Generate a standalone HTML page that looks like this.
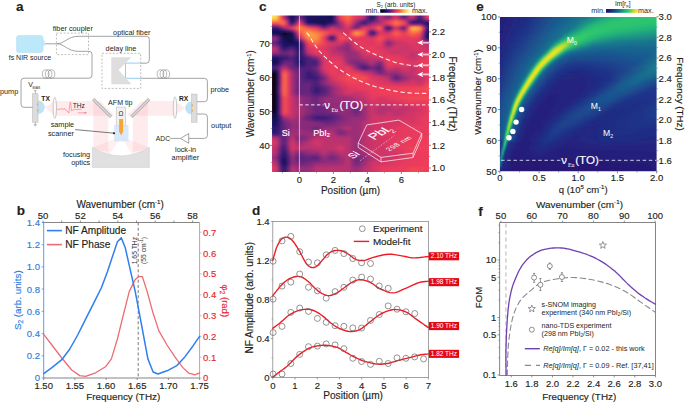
<!DOCTYPE html>
<html><head><meta charset="utf-8"><title>figure</title>
<style>html,body{margin:0;padding:0;background:#fff;overflow:hidden}svg{display:block}text{font-family:"Liberation Sans", sans-serif;stroke-width:0.15px}</style>
</head><body>
<svg width="685" height="403" viewBox="0 0 685 403">
<rect width="685" height="403" fill="#fff"/>
<text x="16.0" y="10.6" font-size="13.5" text-anchor="start" fill="#231f20" font-weight="bold" stroke="#231f20">a</text>
<g fill="rgba(246,118,132,0.15)">
<polygon points="44.7,107.3 54.7,100.9 54.7,115.7"/>
<polygon points="54.7,100.9 100.3,100.9 114.8,115.7 54.7,115.7"/>
<polygon points="93.4,100.9 108.3,115.7 108.3,152 93.4,149"/>
<polygon points="147.8,100.9 132.9,115.7 132.9,152 147.8,149"/>
<polygon points="141.5,100.9 174.6,100.9 174.6,115.7 126.5,115.7"/>
<polygon points="174.6,100.9 185.2,108 174.6,115.7"/>
</g>
<g fill="rgba(246,118,132,0.11)">
<polygon points="92.6,147.4 109.5,154.4 121,136.5"/>
<polygon points="149.1,147.4 132.1,154.4 121,136.5"/>
</g>
<path d="M92.4,147.2 Q120.8,164.6 149.3,147.2 L149.3,167.6 L92.4,167.6 Z" fill="#e0e0e0" stroke="#cfcfcf" stroke-width="0.6"/>
<line x1="93.2" y1="99.1" x2="111.0" y2="116.9" stroke="#a9a9a9" stroke-width="3.0" stroke-linecap="butt"/>
<line x1="93.2" y1="99.1" x2="111.0" y2="116.9" stroke="#d6d6d6" stroke-width="1.6" stroke-linecap="butt"/>
<line x1="149.2" y1="99.1" x2="131.4" y2="116.9" stroke="#a9a9a9" stroke-width="3.0" stroke-linecap="butt"/>
<line x1="149.2" y1="99.1" x2="131.4" y2="116.9" stroke="#d6d6d6" stroke-width="1.6" stroke-linecap="butt"/>
<rect x="116.2" y="107.1" width="9.3" height="19" fill="#f1f1f1" stroke="#bdbdbd" stroke-width="0.6"/>
<text x="120.9" y="115.9" font-size="6.6" text-anchor="middle" fill="#333">Ω</text>
<rect x="114.1" y="125.0" width="14.3" height="16.4" fill="rgba(200,224,250,0.72)"/>
<path d="M119.1,119 L123.1,119 L123.1,131.6 L121.1,135.6 L119.1,131.6 Z" fill="#f6a636"/>
<line x1="75.3" y1="129.6" x2="114.0" y2="133.2" stroke="#222" stroke-width="0.6"/>
<circle cx="114.0" cy="133.2" r="1.0" fill="#111"/>
<ellipse cx="54.8" cy="107.9" rx="1.7" ry="10.5" fill="rgba(255,255,255,0.6)" stroke="#a8a8a8" stroke-width="0.6"/>
<ellipse cx="175.0" cy="107.6" rx="1.7" ry="10.8" fill="rgba(255,255,255,0.6)" stroke="#a8a8a8" stroke-width="0.6"/>
<path d="M38,100.6 A6.7,6.7 0 0 1 38,114 Z" fill="#bfe2f6"/>
<rect x="32.5" y="93.8" width="5.5" height="28.4" fill="#dcdcdc" stroke="#b3b3b3" stroke-width="0.5"/>
<rect x="36.9" y="103.4" width="1.4" height="2.2" fill="#f0b050"/><rect x="36.9" y="109.2" width="1.4" height="2.2" fill="#f0b050"/>
<line x1="35.3" y1="90.6" x2="35.3" y2="93.8" stroke="#888" stroke-width="0.6"/>
<line x1="34.0" y1="90.6" x2="36.6" y2="90.6" stroke="#888" stroke-width="0.6"/>
<line x1="35.3" y1="122.2" x2="35.3" y2="124.8" stroke="#888" stroke-width="0.6"/>
<line x1="33.6" y1="124.8" x2="37.0" y2="124.8" stroke="#888" stroke-width="0.6"/>
<line x1="34.4" y1="125.9" x2="36.2" y2="125.9" stroke="#888" stroke-width="0.5"/>
<path d="M191.7,101.5 A6.5,6.5 0 0 0 191.7,114.5 Z" fill="#bfe2f6"/>
<rect x="191.7" y="94.1" width="5.3" height="28.1" fill="#dcdcdc" stroke="#b3b3b3" stroke-width="0.5"/>
<rect x="191.6" y="104.3" width="1.4" height="2.2" fill="#f0b050"/><rect x="191.6" y="109.6" width="1.4" height="2.2" fill="#f0b050"/>
<polyline points="57.1,109.3 61.0,109.1 62.3,108.4 63.2,109.7 64.5,108.2 65.8,110.4 67.1,110.8 68.9,113.0 70.0,102.6 70.6,102.4 71.5,110.8 72.4,110.2 74.1,109.5 81.2,109.3" fill="none" stroke="#f07080" stroke-width="0.6" stroke-linejoin="round" stroke-linecap="round"/>
<line x1="77.7" y1="112.8" x2="85.2" y2="112.8" stroke="#f07080" stroke-width="0.6"/>
<path d="M87,112.8 L84.6,111.7 L84.6,113.9 Z" fill="#f07080"/>
<path d="M44.5,43.8 L57,43.8 C64,43.8 68,36.3 78,36.3 L146.3,36.3 Q149.3,36.3 149.3,39.3 L149.3,60.2 Q149.3,63.2 146.3,63.2 L140.7,63.2" fill="none" stroke="#8c8c8c" stroke-width="0.8" stroke-linejoin="round"/>
<path d="M57,43.8 C64,43.8 68,51.3 78,51.3 L89.0,51.3 Q92.0,51.3 92.0,54.3 L92.0,75.2 Q92.0,78.2 89.0,78.2 L24.0,78.2 Q21.0,78.2 21.0,81.2 L21.0,104.3 Q21.0,107.3 24.0,107.3 L32.5,107.3" fill="none" stroke="#8c8c8c" stroke-width="0.8" stroke-linejoin="round"/>
<path d="M140.7,78.3 L204.4,78.3 Q207.4,78.3 207.4,81.3 L207.4,98.7 Q207.4,101.7 204.4,101.7 L197,101.7" fill="none" stroke="#8c8c8c" stroke-width="0.8" stroke-linejoin="round"/>
<path d="M197,114.0 L204.4,114.0 Q207.4,114.0 207.4,117.0 L207.4,135.4 Q207.4,138.4 204.4,138.4 L188.7,138.4" fill="none" stroke="#8c8c8c" stroke-width="0.8" stroke-linejoin="round"/>
<path d="M180.6,138.4 L188.7,133.6 L188.7,143.3 Z" fill="#fff" stroke="#8c8c8c" stroke-width="0.8" stroke-linejoin="miter"/>
<line x1="170.1" y1="138.4" x2="180.6" y2="138.4" stroke="#8c8c8c" stroke-width="0.8"/>
<path d="M140.7,63.1 L125.5,63.1 L125.5,78.3 L140.7,78.3" fill="none" stroke="#84c9ee" stroke-width="0.9"/>
<polygon points="111.3,57.2 131.4,57.2 118.5,70.1 131.4,84.3 111.3,84.3" fill="#dedede"/>
<rect x="56.4" y="33.1" width="32.1" height="21.5" fill="none" stroke="#a5a5a5" stroke-width="0.7" stroke-dasharray="2,1.6"/>
<rect x="102.0" y="53.3" width="38.7" height="35.1" fill="none" stroke="#a5a5a5" stroke-width="0.7" stroke-dasharray="2,1.6"/>
<ellipse cx="45.7" cy="74.0" rx="3.3" ry="4.2" fill="none" stroke="#8c8c8c" stroke-width="0.6"/>
<ellipse cx="48.6" cy="74.0" rx="3.3" ry="4.2" fill="none" stroke="#8c8c8c" stroke-width="0.6"/>
<ellipse cx="51.5" cy="74.0" rx="3.3" ry="4.2" fill="none" stroke="#8c8c8c" stroke-width="0.6"/>
<ellipse cx="160.5" cy="74.0" rx="3.3" ry="4.2" fill="none" stroke="#8c8c8c" stroke-width="0.6"/>
<ellipse cx="163.4" cy="74.0" rx="3.3" ry="4.2" fill="none" stroke="#8c8c8c" stroke-width="0.6"/>
<ellipse cx="166.3" cy="74.0" rx="3.3" ry="4.2" fill="none" stroke="#8c8c8c" stroke-width="0.6"/>
<rect x="16.6" y="35.4" width="26.4" height="17.1" rx="2.2" fill="#bde8fa" stroke="#a6dcf3" stroke-width="0.5"/>
<rect x="43.0" y="40.6" width="1.6" height="5.4" fill="#bde8fa"/>
<text x="52.7" y="30.8" font-size="7.3" text-anchor="start" fill="#231f20">fiber coupler</text>
<text x="113.1" y="34.9" font-size="7.3" text-anchor="start" fill="#231f20">optical fiber</text>
<text x="105.6" y="51.0" font-size="7.3" text-anchor="start" fill="#231f20">delay line</text>
<text x="8.7" y="59.6" font-size="7.0" text-anchor="start" fill="#231f20">fs NIR source</text>
<text x="0.0" y="94.0" font-size="7.3" text-anchor="start" fill="#231f20">pump</text>
<text x="28.3" y="87.0" font-size="7.0" text-anchor="start" fill="#231f20">V</text>
<text x="32.6" y="88.9" font-size="3.4" text-anchor="start" fill="#231f20">BIAS</text>
<text x="41.3" y="101.2" font-size="6.7" text-anchor="start" fill="#231f20" font-weight="bold">TX</text>
<text x="72.8" y="107.6" font-size="6.6" text-anchor="start" fill="#231f20">THz</text>
<text x="108.1" y="105.1" font-size="7.1" text-anchor="start" fill="#231f20">AFM tip</text>
<text x="74.2" y="127.4" font-size="7.3" text-anchor="end" fill="#231f20">sample</text>
<text x="73.9" y="135.5" font-size="7.3" text-anchor="end" fill="#231f20">scanner</text>
<text x="90.2" y="156.5" font-size="7.3" text-anchor="end" fill="#231f20">focusing</text>
<text x="90.2" y="164.6" font-size="7.3" text-anchor="end" fill="#231f20">optics</text>
<text x="179.0" y="100.9" font-size="6.7" text-anchor="start" fill="#231f20" font-weight="bold">RX</text>
<text x="210.4" y="92.0" font-size="7.3" text-anchor="start" fill="#231f20">probe</text>
<text x="211.1" y="127.6" font-size="7.3" text-anchor="start" fill="#231f20">output</text>
<text x="155.7" y="141.0" font-size="6.8" text-anchor="start" fill="#231f20">ADC</text>
<text x="185.6" y="151.6" font-size="7.3" text-anchor="middle" fill="#231f20">lock-in</text>
<text x="185.4" y="159.6" font-size="7.3" text-anchor="middle" fill="#231f20">amplifier</text>
<text x="16.8" y="214.6" font-size="13.5" text-anchor="start" fill="#231f20" font-weight="bold" stroke="#231f20">b</text>
<line x1="43.7" y1="222.5" x2="199.6" y2="222.5" stroke="#666" stroke-width="0.8"/>
<line x1="43.7" y1="378.0" x2="199.6" y2="378.0" stroke="#666" stroke-width="0.8"/>
<line x1="43.7" y1="222.5" x2="43.7" y2="378.0" stroke="#2f7ff0" stroke-width="0.8"/>
<line x1="199.6" y1="222.5" x2="199.6" y2="378.0" stroke="#f06a72" stroke-width="0.8"/>
<line x1="43.1" y1="222.5" x2="43.1" y2="220.5" stroke="#666" stroke-width="0.7"/>
<text x="43.1" y="219.2" font-size="9.5" text-anchor="middle" fill="#231f20" stroke="#231f20">50</text>
<line x1="61.7" y1="222.5" x2="61.7" y2="220.5" stroke="#666" stroke-width="0.7"/>
<line x1="80.4" y1="222.5" x2="80.4" y2="220.5" stroke="#666" stroke-width="0.7"/>
<text x="80.4" y="219.2" font-size="9.5" text-anchor="middle" fill="#231f20" stroke="#231f20">52</text>
<line x1="99.1" y1="222.5" x2="99.1" y2="220.5" stroke="#666" stroke-width="0.7"/>
<line x1="117.8" y1="222.5" x2="117.8" y2="220.5" stroke="#666" stroke-width="0.7"/>
<text x="117.8" y="219.2" font-size="9.5" text-anchor="middle" fill="#231f20" stroke="#231f20">54</text>
<line x1="136.5" y1="222.5" x2="136.5" y2="220.5" stroke="#666" stroke-width="0.7"/>
<line x1="155.2" y1="222.5" x2="155.2" y2="220.5" stroke="#666" stroke-width="0.7"/>
<text x="155.2" y="219.2" font-size="9.5" text-anchor="middle" fill="#231f20" stroke="#231f20">56</text>
<line x1="173.9" y1="222.5" x2="173.9" y2="220.5" stroke="#666" stroke-width="0.7"/>
<line x1="192.6" y1="222.5" x2="192.6" y2="220.5" stroke="#666" stroke-width="0.7"/>
<text x="192.6" y="219.2" font-size="9.5" text-anchor="middle" fill="#231f20" stroke="#231f20">58</text>
<text x="120.2" y="207.5" font-size="10.0" text-anchor="middle" fill="#231f20" stroke="#231f20">Wavenumber (cm<tspan font-size="6.2" dy="-3.6">-1</tspan><tspan dy="3.6">)</tspan></text>
<line x1="43.7" y1="378.0" x2="43.7" y2="380.0" stroke="#666" stroke-width="0.7"/>
<text x="43.7" y="389.4" font-size="9.5" text-anchor="middle" fill="#231f20" stroke="#231f20">1.50</text>
<line x1="74.9" y1="378.0" x2="74.9" y2="380.0" stroke="#666" stroke-width="0.7"/>
<text x="74.9" y="389.4" font-size="9.5" text-anchor="middle" fill="#231f20" stroke="#231f20">1.55</text>
<line x1="106.1" y1="378.0" x2="106.1" y2="380.0" stroke="#666" stroke-width="0.7"/>
<text x="106.1" y="389.4" font-size="9.5" text-anchor="middle" fill="#231f20" stroke="#231f20">1.60</text>
<line x1="137.2" y1="378.0" x2="137.2" y2="380.0" stroke="#666" stroke-width="0.7"/>
<text x="137.2" y="389.4" font-size="9.5" text-anchor="middle" fill="#231f20" stroke="#231f20">1.65</text>
<line x1="168.4" y1="378.0" x2="168.4" y2="380.0" stroke="#666" stroke-width="0.7"/>
<text x="168.4" y="389.4" font-size="9.5" text-anchor="middle" fill="#231f20" stroke="#231f20">1.70</text>
<line x1="199.6" y1="378.0" x2="199.6" y2="380.0" stroke="#666" stroke-width="0.7"/>
<text x="199.6" y="389.4" font-size="9.5" text-anchor="middle" fill="#231f20" stroke="#231f20">1.75</text>
<text x="123.2" y="399.8" font-size="9.9" text-anchor="middle" fill="#231f20" stroke="#231f20">Frequency (THz)</text>
<line x1="43.7" y1="378.0" x2="41.7" y2="378.0" stroke="#2f7ff0" stroke-width="0.7"/>
<text x="40.0" y="381.4" font-size="9.5" text-anchor="end" fill="#2b7de0" stroke="#2b7de0">0</text>
<line x1="43.7" y1="355.8" x2="41.7" y2="355.8" stroke="#2f7ff0" stroke-width="0.7"/>
<text x="40.0" y="359.2" font-size="9.5" text-anchor="end" fill="#2b7de0" stroke="#2b7de0">0.2</text>
<line x1="43.7" y1="333.6" x2="41.7" y2="333.6" stroke="#2f7ff0" stroke-width="0.7"/>
<text x="40.0" y="337.0" font-size="9.5" text-anchor="end" fill="#2b7de0" stroke="#2b7de0">0.4</text>
<line x1="43.7" y1="311.3" x2="41.7" y2="311.3" stroke="#2f7ff0" stroke-width="0.7"/>
<text x="40.0" y="314.7" font-size="9.5" text-anchor="end" fill="#2b7de0" stroke="#2b7de0">0.6</text>
<line x1="43.7" y1="289.1" x2="41.7" y2="289.1" stroke="#2f7ff0" stroke-width="0.7"/>
<text x="40.0" y="292.5" font-size="9.5" text-anchor="end" fill="#2b7de0" stroke="#2b7de0">0.8</text>
<line x1="43.7" y1="266.9" x2="41.7" y2="266.9" stroke="#2f7ff0" stroke-width="0.7"/>
<text x="40.0" y="270.3" font-size="9.5" text-anchor="end" fill="#2b7de0" stroke="#2b7de0">1.0</text>
<line x1="43.7" y1="244.7" x2="41.7" y2="244.7" stroke="#2f7ff0" stroke-width="0.7"/>
<text x="40.0" y="248.1" font-size="9.5" text-anchor="end" fill="#2b7de0" stroke="#2b7de0">1.2</text>
<line x1="43.7" y1="222.5" x2="41.7" y2="222.5" stroke="#2f7ff0" stroke-width="0.7"/>
<text x="40.0" y="225.9" font-size="9.5" text-anchor="end" fill="#2b7de0" stroke="#2b7de0">1.4</text>
<text transform="translate(21.3,300.2) rotate(-90)" font-size="9.8" text-anchor="middle" fill="#2b7de0" stroke="#2b7de0">S<tspan font-size="6.5" dy="2">2</tspan><tspan dy="-2"> (arb. units)</tspan></text>
<line x1="199.6" y1="378.0" x2="201.6" y2="378.0" stroke="#8fb5e8" stroke-width="0.7"/>
<text x="203.0" y="381.4" font-size="9.5" text-anchor="start" fill="#e8252d" stroke="#e8252d">0</text>
<line x1="199.6" y1="357.2" x2="201.6" y2="357.2" stroke="#8fb5e8" stroke-width="0.7"/>
<text x="203.0" y="360.6" font-size="9.5" text-anchor="start" fill="#e8252d" stroke="#e8252d">0.1</text>
<line x1="199.6" y1="336.4" x2="201.6" y2="336.4" stroke="#8fb5e8" stroke-width="0.7"/>
<text x="203.0" y="339.8" font-size="9.5" text-anchor="start" fill="#e8252d" stroke="#e8252d">0.2</text>
<line x1="199.6" y1="315.6" x2="201.6" y2="315.6" stroke="#8fb5e8" stroke-width="0.7"/>
<text x="203.0" y="319.0" font-size="9.5" text-anchor="start" fill="#e8252d" stroke="#e8252d">0.3</text>
<line x1="199.6" y1="294.8" x2="201.6" y2="294.8" stroke="#8fb5e8" stroke-width="0.7"/>
<text x="203.0" y="298.2" font-size="9.5" text-anchor="start" fill="#e8252d" stroke="#e8252d">0.4</text>
<line x1="199.6" y1="273.9" x2="201.6" y2="273.9" stroke="#8fb5e8" stroke-width="0.7"/>
<text x="203.0" y="277.3" font-size="9.5" text-anchor="start" fill="#e8252d" stroke="#e8252d">0.5</text>
<line x1="199.6" y1="253.1" x2="201.6" y2="253.1" stroke="#8fb5e8" stroke-width="0.7"/>
<text x="203.0" y="256.5" font-size="9.5" text-anchor="start" fill="#e8252d" stroke="#e8252d">0.6</text>
<line x1="199.6" y1="232.3" x2="201.6" y2="232.3" stroke="#8fb5e8" stroke-width="0.7"/>
<text x="203.0" y="235.7" font-size="9.5" text-anchor="start" fill="#e8252d" stroke="#e8252d">0.7</text>
<text transform="translate(221.5,300.8) rotate(90)" font-size="9.5" text-anchor="middle" fill="#e8252d" stroke="#e8252d">φ<tspan font-size="6.5" dy="2">2</tspan><tspan dy="-2"> (rad)</tspan></text>
<line x1="138.2" y1="222.5" x2="138.2" y2="378.0" stroke="#555" stroke-width="0.8" stroke-dasharray="3,2.2"/>
<text transform="translate(136.7,250.6) rotate(-90)" font-size="6.8" text-anchor="middle" fill="#333">1.65 THz</text>
<text transform="translate(145.6,250.5) rotate(-90)" font-size="6.8" text-anchor="middle" fill="#333">(55 cm<tspan font-size="4.5" dy="-2.5">-1</tspan><tspan dy="2.5">)</tspan></text>
<polyline points="43.7,334.3 51.9,345.0 61.8,358.0 71.7,370.0 79.7,375.6 85.6,376.3 95.6,372.8 105.5,366.8 111.4,358.9 117.4,339.0 123.3,315.2 129.3,291.4 135.2,279.5 138.4,276.7 142.4,276.7 147.1,291.4 153.1,313.3 159.0,331.1 167.0,345.0 174.9,356.9 182.9,367.6 188.8,373.2 194.8,374.8 199.6,372.8" fill="none" stroke="#f06a72" stroke-width="1.3" stroke-linejoin="round" stroke-linecap="round"/>
<polyline points="43.7,373.6 51.9,367.6 61.8,359.7 69.8,349.0 77.7,335.0 85.6,319.2 93.6,303.3 101.5,287.5 107.5,271.6 113.4,253.7 117.4,241.8 121.3,237.9 125.3,247.8 129.3,265.6 135.2,291.4 141.2,323.2 147.9,358.9 153.1,372.0 157.9,374.0 167.0,370.8 176.9,365.6 184.8,356.9 192.8,346.2 199.6,336.3" fill="none" stroke="#2f7ff0" stroke-width="1.5" stroke-linejoin="round" stroke-linecap="round"/>
<line x1="46.9" y1="230.6" x2="61.9" y2="230.6" stroke="#2f7ff0" stroke-width="1.6"/>
<line x1="46.9" y1="244.6" x2="61.9" y2="244.6" stroke="#f06a72" stroke-width="1.6"/>
<text x="65.3" y="234.2" font-size="10.15" text-anchor="start" fill="#231f20" stroke="#231f20">NF Amplitude</text>
<text x="65.3" y="248.2" font-size="10.15" text-anchor="start" fill="#231f20" stroke="#231f20">NF Phase</text>
<defs><clipPath id="clipC"><rect x="272" y="15.6" width="157" height="156.4"/></clipPath><filter id="blurC" x="-5%" y="-5%" width="110%" height="110%"><feGaussianBlur stdDeviation="1.4,1.0"/></filter></defs>
<defs><linearGradient id="gc0" gradientUnits="userSpaceOnUse" x1="272.0" x2="429.0" y1="0" y2="0"><stop offset="0.000" stop-color="#fedc57"/><stop offset="0.025" stop-color="#fedc57"/><stop offset="0.038" stop-color="#fcab3e"/><stop offset="0.057" stop-color="#f55148"/><stop offset="0.064" stop-color="#ee3a58"/><stop offset="0.070" stop-color="#dc3461"/><stop offset="0.089" stop-color="#77257b"/><stop offset="0.108" stop-color="#301672"/><stop offset="0.121" stop-color="#170f61"/><stop offset="0.127" stop-color="#100b48"/><stop offset="0.134" stop-color="#140e5e"/><stop offset="0.166" stop-color="#491c77"/><stop offset="0.178" stop-color="#69237d"/><stop offset="0.210" stop-color="#2a146e"/><stop offset="0.236" stop-color="#140e5f"/><stop offset="0.344" stop-color="#130d59"/><stop offset="0.382" stop-color="#100b48"/><stop offset="0.389" stop-color="#1b1064"/><stop offset="0.401" stop-color="#431a76"/><stop offset="0.414" stop-color="#892779"/><stop offset="0.427" stop-color="#da3462"/><stop offset="0.433" stop-color="#ee3a58"/><stop offset="0.484" stop-color="#f96d40"/><stop offset="0.522" stop-color="#e9385a"/><stop offset="0.586" stop-color="#bc2f6c"/><stop offset="0.605" stop-color="#62217c"/><stop offset="0.624" stop-color="#2a146e"/><stop offset="0.637" stop-color="#140e5f"/><stop offset="0.656" stop-color="#391874"/><stop offset="0.675" stop-color="#7d267a"/><stop offset="0.688" stop-color="#bc2f6c"/><stop offset="0.739" stop-color="#69237d"/><stop offset="0.790" stop-color="#dc3461"/><stop offset="0.828" stop-color="#69237d"/><stop offset="0.841" stop-color="#4e1c78"/><stop offset="0.860" stop-color="#7d267a"/><stop offset="0.892" stop-color="#dc3461"/><stop offset="0.924" stop-color="#66227c"/><stop offset="0.943" stop-color="#321673"/><stop offset="0.962" stop-color="#73247c"/><stop offset="0.981" stop-color="#cc3266"/><stop offset="0.994" stop-color="#ee3a58"/><stop offset="1.000" stop-color="#ee3a58"/></linearGradient><linearGradient id="gc1" gradientUnits="userSpaceOnUse" x1="272.0" x2="429.0" y1="0" y2="0"><stop offset="0.000" stop-color="#fedc57"/><stop offset="0.025" stop-color="#fedc57"/><stop offset="0.038" stop-color="#fcab3e"/><stop offset="0.057" stop-color="#f55148"/><stop offset="0.064" stop-color="#ee3a58"/><stop offset="0.070" stop-color="#dc3461"/><stop offset="0.089" stop-color="#77257b"/><stop offset="0.108" stop-color="#301672"/><stop offset="0.121" stop-color="#170f61"/><stop offset="0.127" stop-color="#100b48"/><stop offset="0.134" stop-color="#140e5e"/><stop offset="0.166" stop-color="#491c77"/><stop offset="0.178" stop-color="#69237d"/><stop offset="0.210" stop-color="#2a146e"/><stop offset="0.236" stop-color="#140e5f"/><stop offset="0.344" stop-color="#130d59"/><stop offset="0.382" stop-color="#100b48"/><stop offset="0.389" stop-color="#1b1064"/><stop offset="0.401" stop-color="#431a76"/><stop offset="0.414" stop-color="#892779"/><stop offset="0.427" stop-color="#da3462"/><stop offset="0.433" stop-color="#ee3a58"/><stop offset="0.484" stop-color="#f96d40"/><stop offset="0.522" stop-color="#e9385a"/><stop offset="0.586" stop-color="#bc2f6c"/><stop offset="0.605" stop-color="#62217c"/><stop offset="0.624" stop-color="#2a146e"/><stop offset="0.637" stop-color="#140e5f"/><stop offset="0.656" stop-color="#391874"/><stop offset="0.675" stop-color="#7d267a"/><stop offset="0.688" stop-color="#bc2f6c"/><stop offset="0.739" stop-color="#69237d"/><stop offset="0.790" stop-color="#dc3461"/><stop offset="0.828" stop-color="#69237d"/><stop offset="0.841" stop-color="#4e1c78"/><stop offset="0.860" stop-color="#7d267a"/><stop offset="0.892" stop-color="#dc3461"/><stop offset="0.924" stop-color="#66227c"/><stop offset="0.943" stop-color="#321673"/><stop offset="0.962" stop-color="#73247c"/><stop offset="0.981" stop-color="#cc3266"/><stop offset="0.994" stop-color="#ee3a58"/><stop offset="1.000" stop-color="#ee3a58"/></linearGradient><linearGradient id="gc2" gradientUnits="userSpaceOnUse" x1="272.0" x2="429.0" y1="0" y2="0"><stop offset="0.000" stop-color="#fedc57"/><stop offset="0.025" stop-color="#fedc57"/><stop offset="0.038" stop-color="#fcab3e"/><stop offset="0.057" stop-color="#f55148"/><stop offset="0.064" stop-color="#ee3a58"/><stop offset="0.070" stop-color="#dc3461"/><stop offset="0.089" stop-color="#77257b"/><stop offset="0.108" stop-color="#301672"/><stop offset="0.121" stop-color="#170f61"/><stop offset="0.127" stop-color="#100b48"/><stop offset="0.134" stop-color="#140e5e"/><stop offset="0.166" stop-color="#491c77"/><stop offset="0.178" stop-color="#69237d"/><stop offset="0.210" stop-color="#2a146e"/><stop offset="0.236" stop-color="#140e5f"/><stop offset="0.344" stop-color="#130d59"/><stop offset="0.382" stop-color="#100b48"/><stop offset="0.389" stop-color="#1b1064"/><stop offset="0.401" stop-color="#431a76"/><stop offset="0.414" stop-color="#892779"/><stop offset="0.427" stop-color="#da3462"/><stop offset="0.433" stop-color="#ee3a58"/><stop offset="0.484" stop-color="#f96d40"/><stop offset="0.522" stop-color="#e9385a"/><stop offset="0.586" stop-color="#bc2f6c"/><stop offset="0.605" stop-color="#62217c"/><stop offset="0.624" stop-color="#2b146e"/><stop offset="0.637" stop-color="#140e5f"/><stop offset="0.662" stop-color="#4e1c78"/><stop offset="0.682" stop-color="#9c2a76"/><stop offset="0.688" stop-color="#bc2f6c"/><stop offset="0.739" stop-color="#69237d"/><stop offset="0.790" stop-color="#dc3461"/><stop offset="0.828" stop-color="#69237d"/><stop offset="0.841" stop-color="#4e1d78"/><stop offset="0.860" stop-color="#7d267a"/><stop offset="0.892" stop-color="#dc3461"/><stop offset="0.924" stop-color="#66227c"/><stop offset="0.943" stop-color="#321673"/><stop offset="0.962" stop-color="#73247c"/><stop offset="0.981" stop-color="#cc3167"/><stop offset="0.994" stop-color="#ee3a58"/><stop offset="1.000" stop-color="#ee3a58"/></linearGradient><linearGradient id="gc3" gradientUnits="userSpaceOnUse" x1="272.0" x2="429.0" y1="0" y2="0"><stop offset="0.000" stop-color="#fcab3e"/><stop offset="0.025" stop-color="#fcab3e"/><stop offset="0.064" stop-color="#f55148"/><stop offset="0.076" stop-color="#ee3a58"/><stop offset="0.083" stop-color="#db3461"/><stop offset="0.102" stop-color="#64227c"/><stop offset="0.115" stop-color="#2e1570"/><stop offset="0.127" stop-color="#120c51"/><stop offset="0.140" stop-color="#25136a"/><stop offset="0.159" stop-color="#581f7a"/><stop offset="0.172" stop-color="#8c2878"/><stop offset="0.178" stop-color="#ab2c72"/><stop offset="0.197" stop-color="#5b207b"/><stop offset="0.217" stop-color="#29146d"/><stop offset="0.229" stop-color="#140e5f"/><stop offset="0.344" stop-color="#120d54"/><stop offset="0.382" stop-color="#150e5f"/><stop offset="0.401" stop-color="#421a76"/><stop offset="0.420" stop-color="#962977"/><stop offset="0.433" stop-color="#d63363"/><stop offset="0.465" stop-color="#f2474f"/><stop offset="0.484" stop-color="#f86041"/><stop offset="0.516" stop-color="#e5375d"/><stop offset="0.580" stop-color="#74257b"/><stop offset="0.637" stop-color="#321673"/><stop offset="0.675" stop-color="#862779"/><stop offset="0.688" stop-color="#ab2c72"/><stop offset="0.739" stop-color="#bc2f6c"/><stop offset="0.777" stop-color="#ed3a58"/><stop offset="0.790" stop-color="#f2484f"/><stop offset="0.815" stop-color="#e0355f"/><stop offset="0.866" stop-color="#922977"/><stop offset="0.930" stop-color="#391874"/><stop offset="0.943" stop-color="#2c146f"/><stop offset="0.987" stop-color="#79257b"/><stop offset="0.994" stop-color="#8a2878"/><stop offset="1.000" stop-color="#8a2878"/></linearGradient><linearGradient id="gc4" gradientUnits="userSpaceOnUse" x1="272.0" x2="429.0" y1="0" y2="0"><stop offset="0.000" stop-color="#f96d40"/><stop offset="0.076" stop-color="#f96d40"/><stop offset="0.083" stop-color="#f34b4c"/><stop offset="0.089" stop-color="#e4375d"/><stop offset="0.096" stop-color="#c3306a"/><stop offset="0.108" stop-color="#60217b"/><stop offset="0.121" stop-color="#25136a"/><stop offset="0.127" stop-color="#130d5a"/><stop offset="0.146" stop-color="#431a76"/><stop offset="0.166" stop-color="#a12b75"/><stop offset="0.178" stop-color="#e0355f"/><stop offset="0.191" stop-color="#a22b75"/><stop offset="0.210" stop-color="#451b76"/><stop offset="0.229" stop-color="#140e5f"/><stop offset="0.331" stop-color="#0f0a40"/><stop offset="0.369" stop-color="#190f62"/><stop offset="0.389" stop-color="#27136c"/><stop offset="0.414" stop-color="#62217c"/><stop offset="0.439" stop-color="#be2f6b"/><stop offset="0.465" stop-color="#eb3959"/><stop offset="0.484" stop-color="#f75545"/><stop offset="0.510" stop-color="#e1365e"/><stop offset="0.541" stop-color="#912977"/><stop offset="0.573" stop-color="#491c77"/><stop offset="0.586" stop-color="#321673"/><stop offset="0.669" stop-color="#882779"/><stop offset="0.694" stop-color="#a82c73"/><stop offset="0.726" stop-color="#e1365e"/><stop offset="0.771" stop-color="#f85942"/><stop offset="0.790" stop-color="#fa733f"/><stop offset="0.841" stop-color="#f2484f"/><stop offset="0.854" stop-color="#d63363"/><stop offset="0.873" stop-color="#6d247c"/><stop offset="0.892" stop-color="#29146d"/><stop offset="1.000" stop-color="#2c146f"/></linearGradient><linearGradient id="gc5" gradientUnits="userSpaceOnUse" x1="272.0" x2="429.0" y1="0" y2="0"><stop offset="0.000" stop-color="#e3365d"/><stop offset="0.032" stop-color="#e9385b"/><stop offset="0.076" stop-color="#f96640"/><stop offset="0.089" stop-color="#e9385a"/><stop offset="0.096" stop-color="#d33364"/><stop offset="0.115" stop-color="#5f217b"/><stop offset="0.127" stop-color="#2c146f"/><stop offset="0.146" stop-color="#72247c"/><stop offset="0.166" stop-color="#d73363"/><stop offset="0.178" stop-color="#f2484f"/><stop offset="0.191" stop-color="#d93462"/><stop offset="0.210" stop-color="#77257b"/><stop offset="0.229" stop-color="#2f1571"/><stop offset="0.338" stop-color="#180f62"/><stop offset="0.389" stop-color="#411a76"/><stop offset="0.427" stop-color="#832779"/><stop offset="0.465" stop-color="#e0355f"/><stop offset="0.484" stop-color="#f2484f"/><stop offset="0.510" stop-color="#cf3265"/><stop offset="0.535" stop-color="#81267a"/><stop offset="0.586" stop-color="#3d1975"/><stop offset="0.624" stop-color="#832779"/><stop offset="0.637" stop-color="#a22b75"/><stop offset="0.745" stop-color="#e6375c"/><stop offset="0.783" stop-color="#f96740"/><stop offset="0.790" stop-color="#fa733f"/><stop offset="0.841" stop-color="#f14352"/><stop offset="0.854" stop-color="#da3462"/><stop offset="0.879" stop-color="#6b237d"/><stop offset="0.892" stop-color="#431a76"/><stop offset="0.943" stop-color="#531e79"/><stop offset="0.981" stop-color="#221269"/><stop offset="1.000" stop-color="#170f61"/></linearGradient><linearGradient id="gc6" gradientUnits="userSpaceOnUse" x1="272.0" x2="429.0" y1="0" y2="0"><stop offset="0.000" stop-color="#71247c"/><stop offset="0.025" stop-color="#71247c"/><stop offset="0.070" stop-color="#dc3461"/><stop offset="0.083" stop-color="#dd3460"/><stop offset="0.127" stop-color="#8a2878"/><stop offset="0.146" stop-color="#d23265"/><stop offset="0.166" stop-color="#f2474f"/><stop offset="0.178" stop-color="#f96740"/><stop offset="0.197" stop-color="#ef3d56"/><stop offset="0.217" stop-color="#cc3266"/><stop offset="0.229" stop-color="#a22b75"/><stop offset="0.280" stop-color="#80267a"/><stop offset="0.331" stop-color="#321673"/><stop offset="0.382" stop-color="#81267a"/><stop offset="0.433" stop-color="#922977"/><stop offset="0.471" stop-color="#de3560"/><stop offset="0.484" stop-color="#ea395a"/><stop offset="0.503" stop-color="#c63069"/><stop offset="0.535" stop-color="#64227c"/><stop offset="0.631" stop-color="#be2f6b"/><stop offset="0.688" stop-color="#ee3a58"/><stop offset="0.707" stop-color="#c73168"/><stop offset="0.739" stop-color="#5e207b"/><stop offset="0.764" stop-color="#bf2f6b"/><stop offset="0.783" stop-color="#ee3a58"/><stop offset="0.790" stop-color="#f2484f"/><stop offset="0.815" stop-color="#d93362"/><stop offset="0.841" stop-color="#9a2a76"/><stop offset="0.879" stop-color="#df3560"/><stop offset="0.904" stop-color="#ea395a"/><stop offset="0.943" stop-color="#e7385c"/><stop offset="0.955" stop-color="#b62e6e"/><stop offset="0.968" stop-color="#6d247c"/><stop offset="0.987" stop-color="#2a146e"/><stop offset="1.000" stop-color="#1d1065"/></linearGradient><linearGradient id="gc7" gradientUnits="userSpaceOnUse" x1="272.0" x2="429.0" y1="0" y2="0"><stop offset="0.000" stop-color="#231269"/><stop offset="0.032" stop-color="#2a146e"/><stop offset="0.070" stop-color="#7d267a"/><stop offset="0.108" stop-color="#d83362"/><stop offset="0.134" stop-color="#f14352"/><stop offset="0.172" stop-color="#fa803d"/><stop offset="0.178" stop-color="#fb8c3c"/><stop offset="0.236" stop-color="#f44e4a"/><stop offset="0.280" stop-color="#ee3a58"/><stop offset="0.299" stop-color="#cc3266"/><stop offset="0.331" stop-color="#69237d"/><stop offset="0.382" stop-color="#dc3461"/><stop offset="0.433" stop-color="#922977"/><stop offset="0.484" stop-color="#dc3461"/><stop offset="0.522" stop-color="#69237d"/><stop offset="0.535" stop-color="#4e1d78"/><stop offset="0.554" stop-color="#8d2878"/><stop offset="0.573" stop-color="#d43364"/><stop offset="0.586" stop-color="#ee3a58"/><stop offset="0.637" stop-color="#dc3461"/><stop offset="0.662" stop-color="#f24550"/><stop offset="0.688" stop-color="#f96d40"/><stop offset="0.694" stop-color="#f34b4c"/><stop offset="0.701" stop-color="#e5375d"/><stop offset="0.707" stop-color="#c43069"/><stop offset="0.720" stop-color="#62217c"/><stop offset="0.732" stop-color="#27136c"/><stop offset="0.739" stop-color="#140e5f"/><stop offset="0.758" stop-color="#431a76"/><stop offset="0.777" stop-color="#9c2a76"/><stop offset="0.790" stop-color="#dc3461"/><stop offset="0.822" stop-color="#66227c"/><stop offset="0.841" stop-color="#321673"/><stop offset="0.854" stop-color="#882779"/><stop offset="0.860" stop-color="#c0306b"/><stop offset="0.866" stop-color="#e5375c"/><stop offset="0.873" stop-color="#f44e4a"/><stop offset="0.885" stop-color="#fca03e"/><stop offset="0.892" stop-color="#fdc647"/><stop offset="0.943" stop-color="#fcab3e"/><stop offset="0.955" stop-color="#f75744"/><stop offset="0.962" stop-color="#ec3959"/><stop offset="0.968" stop-color="#cc3167"/><stop offset="0.981" stop-color="#62217c"/><stop offset="0.994" stop-color="#231269"/><stop offset="1.000" stop-color="#231269"/></linearGradient><linearGradient id="gc8" gradientUnits="userSpaceOnUse" x1="272.0" x2="429.0" y1="0" y2="0"><stop offset="0.000" stop-color="#170f61"/><stop offset="0.045" stop-color="#221268"/><stop offset="0.089" stop-color="#471b77"/><stop offset="0.127" stop-color="#79257b"/><stop offset="0.146" stop-color="#ce3266"/><stop offset="0.159" stop-color="#ee3b58"/><stop offset="0.178" stop-color="#fa733f"/><stop offset="0.242" stop-color="#f96b40"/><stop offset="0.287" stop-color="#f44d4b"/><stop offset="0.318" stop-color="#de3560"/><stop offset="0.331" stop-color="#c93168"/><stop offset="0.389" stop-color="#e1365f"/><stop offset="0.439" stop-color="#c43069"/><stop offset="0.554" stop-color="#e8385b"/><stop offset="0.586" stop-color="#f44c4b"/><stop offset="0.605" stop-color="#dd3460"/><stop offset="0.631" stop-color="#892779"/><stop offset="0.637" stop-color="#71247c"/><stop offset="0.662" stop-color="#cc3167"/><stop offset="0.682" stop-color="#f03f54"/><stop offset="0.688" stop-color="#f44c4b"/><stop offset="0.701" stop-color="#e1365e"/><stop offset="0.713" stop-color="#b32e6f"/><stop offset="0.732" stop-color="#5d207b"/><stop offset="0.739" stop-color="#481b77"/><stop offset="0.758" stop-color="#8b2878"/><stop offset="0.777" stop-color="#d73363"/><stop offset="0.790" stop-color="#ef3f55"/><stop offset="0.815" stop-color="#c63169"/><stop offset="0.841" stop-color="#79257b"/><stop offset="0.854" stop-color="#c43069"/><stop offset="0.866" stop-color="#ef3c56"/><stop offset="0.885" stop-color="#fb883c"/><stop offset="0.892" stop-color="#fca53e"/><stop offset="0.943" stop-color="#fb863d"/><stop offset="0.949" stop-color="#f85c42"/><stop offset="0.955" stop-color="#ef3d56"/><stop offset="0.962" stop-color="#d63363"/><stop offset="0.975" stop-color="#70247c"/><stop offset="0.987" stop-color="#2b146e"/><stop offset="0.994" stop-color="#170f61"/><stop offset="1.000" stop-color="#170f61"/></linearGradient><linearGradient id="gc9" gradientUnits="userSpaceOnUse" x1="272.0" x2="429.0" y1="0" y2="0"><stop offset="0.000" stop-color="#100b48"/><stop offset="0.083" stop-color="#110c4f"/><stop offset="0.121" stop-color="#1d1165"/><stop offset="0.134" stop-color="#301672"/><stop offset="0.146" stop-color="#6a237d"/><stop offset="0.159" stop-color="#c2306a"/><stop offset="0.166" stop-color="#e0355f"/><stop offset="0.178" stop-color="#f85a42"/><stop offset="0.229" stop-color="#fc983d"/><stop offset="0.306" stop-color="#f86041"/><stop offset="0.376" stop-color="#ed3a59"/><stop offset="0.459" stop-color="#d63363"/><stop offset="0.484" stop-color="#c2306a"/><stop offset="0.503" stop-color="#ee3a58"/><stop offset="0.529" stop-color="#fa793e"/><stop offset="0.535" stop-color="#fb8c3c"/><stop offset="0.586" stop-color="#f86041"/><stop offset="0.599" stop-color="#e6375c"/><stop offset="0.605" stop-color="#cd3266"/><stop offset="0.618" stop-color="#7c267a"/><stop offset="0.631" stop-color="#3e1975"/><stop offset="0.637" stop-color="#29146d"/><stop offset="0.656" stop-color="#61217c"/><stop offset="0.682" stop-color="#d63363"/><stop offset="0.688" stop-color="#e7385c"/><stop offset="0.739" stop-color="#ab2c72"/><stop offset="0.764" stop-color="#e5375d"/><stop offset="0.790" stop-color="#f85a42"/><stop offset="0.822" stop-color="#ea395a"/><stop offset="0.841" stop-color="#d63363"/><stop offset="0.866" stop-color="#f34a4d"/><stop offset="0.892" stop-color="#fa803d"/><stop offset="0.943" stop-color="#f86041"/><stop offset="0.949" stop-color="#f04153"/><stop offset="0.955" stop-color="#dd3461"/><stop offset="0.968" stop-color="#7d267a"/><stop offset="0.981" stop-color="#311672"/><stop offset="0.987" stop-color="#1e1166"/><stop offset="0.994" stop-color="#100b48"/><stop offset="1.000" stop-color="#100b48"/></linearGradient><linearGradient id="gc10" gradientUnits="userSpaceOnUse" x1="272.0" x2="429.0" y1="0" y2="0"><stop offset="0.000" stop-color="#180f62"/><stop offset="0.032" stop-color="#140e5f"/><stop offset="0.076" stop-color="#0a051d"/><stop offset="0.127" stop-color="#0e0939"/><stop offset="0.134" stop-color="#170f61"/><stop offset="0.146" stop-color="#401976"/><stop offset="0.159" stop-color="#8d2878"/><stop offset="0.166" stop-color="#be2f6b"/><stop offset="0.172" stop-color="#e0355f"/><stop offset="0.178" stop-color="#f14352"/><stop offset="0.210" stop-color="#fa7d3e"/><stop offset="0.229" stop-color="#fca53e"/><stop offset="0.299" stop-color="#fa7d3e"/><stop offset="0.344" stop-color="#f44c4b"/><stop offset="0.369" stop-color="#e0355f"/><stop offset="0.382" stop-color="#c93168"/><stop offset="0.433" stop-color="#ef3f55"/><stop offset="0.484" stop-color="#c93168"/><stop offset="0.497" stop-color="#ea395a"/><stop offset="0.516" stop-color="#f96641"/><stop offset="0.535" stop-color="#fca53e"/><stop offset="0.586" stop-color="#f85a42"/><stop offset="0.599" stop-color="#e3365d"/><stop offset="0.611" stop-color="#a22b75"/><stop offset="0.624" stop-color="#591f7a"/><stop offset="0.637" stop-color="#29146d"/><stop offset="0.656" stop-color="#5f217b"/><stop offset="0.682" stop-color="#d13265"/><stop offset="0.688" stop-color="#e3365d"/><stop offset="0.745" stop-color="#e2365e"/><stop offset="0.777" stop-color="#f55049"/><stop offset="0.790" stop-color="#f86041"/><stop offset="0.841" stop-color="#ea395a"/><stop offset="0.892" stop-color="#f86041"/><stop offset="0.943" stop-color="#f2484f"/><stop offset="0.949" stop-color="#e4375d"/><stop offset="0.955" stop-color="#c43069"/><stop offset="0.968" stop-color="#66227c"/><stop offset="0.981" stop-color="#2b146e"/><stop offset="0.987" stop-color="#1a1063"/><stop offset="0.994" stop-color="#0f0a40"/><stop offset="1.000" stop-color="#0f0a40"/></linearGradient><linearGradient id="gc11" gradientUnits="userSpaceOnUse" x1="272.0" x2="429.0" y1="0" y2="0"><stop offset="0.000" stop-color="#491b77"/><stop offset="0.025" stop-color="#491b77"/><stop offset="0.057" stop-color="#190f62"/><stop offset="0.070" stop-color="#100b46"/><stop offset="0.076" stop-color="#0d0832"/><stop offset="0.127" stop-color="#0e0939"/><stop offset="0.134" stop-color="#140e5f"/><stop offset="0.146" stop-color="#341673"/><stop offset="0.159" stop-color="#6e247c"/><stop offset="0.172" stop-color="#c2306a"/><stop offset="0.178" stop-color="#e0355f"/><stop offset="0.204" stop-color="#f75844"/><stop offset="0.229" stop-color="#fc983d"/><stop offset="0.280" stop-color="#fb943d"/><stop offset="0.331" stop-color="#f44c4b"/><stop offset="0.344" stop-color="#e3365d"/><stop offset="0.357" stop-color="#bc2f6c"/><stop offset="0.376" stop-color="#66227d"/><stop offset="0.382" stop-color="#531e79"/><stop offset="0.401" stop-color="#9b2a76"/><stop offset="0.420" stop-color="#e0355f"/><stop offset="0.433" stop-color="#f2484f"/><stop offset="0.484" stop-color="#e0355f"/><stop offset="0.522" stop-color="#f44d4b"/><stop offset="0.541" stop-color="#f75744"/><stop offset="0.592" stop-color="#e9385b"/><stop offset="0.618" stop-color="#af2d71"/><stop offset="0.637" stop-color="#71247c"/><stop offset="0.669" stop-color="#d23264"/><stop offset="0.688" stop-color="#ef3f55"/><stop offset="0.745" stop-color="#e0355f"/><stop offset="0.796" stop-color="#f2484e"/><stop offset="0.847" stop-color="#e6375c"/><stop offset="0.898" stop-color="#f3494d"/><stop offset="0.943" stop-color="#ea395a"/><stop offset="0.949" stop-color="#d53363"/><stop offset="0.968" stop-color="#61217c"/><stop offset="0.981" stop-color="#2d1570"/><stop offset="0.994" stop-color="#120c50"/><stop offset="1.000" stop-color="#120c50"/></linearGradient><linearGradient id="gc12" gradientUnits="userSpaceOnUse" x1="272.0" x2="429.0" y1="0" y2="0"><stop offset="0.000" stop-color="#a22b75"/><stop offset="0.025" stop-color="#a22b75"/><stop offset="0.038" stop-color="#66227c"/><stop offset="0.057" stop-color="#2d1570"/><stop offset="0.070" stop-color="#160f60"/><stop offset="0.076" stop-color="#100b48"/><stop offset="0.127" stop-color="#0e0939"/><stop offset="0.134" stop-color="#130d5a"/><stop offset="0.153" stop-color="#401976"/><stop offset="0.166" stop-color="#73247c"/><stop offset="0.178" stop-color="#bc2f6c"/><stop offset="0.197" stop-color="#ec3959"/><stop offset="0.223" stop-color="#fa783e"/><stop offset="0.229" stop-color="#fb8c3c"/><stop offset="0.280" stop-color="#fc983d"/><stop offset="0.318" stop-color="#f44d4b"/><stop offset="0.331" stop-color="#ee3a58"/><stop offset="0.338" stop-color="#dc3461"/><stop offset="0.357" stop-color="#69237d"/><stop offset="0.369" stop-color="#321673"/><stop offset="0.382" stop-color="#140e5f"/><stop offset="0.395" stop-color="#391874"/><stop offset="0.408" stop-color="#7d267a"/><stop offset="0.420" stop-color="#d43364"/><stop offset="0.427" stop-color="#ec3959"/><stop offset="0.433" stop-color="#f55148"/><stop offset="0.516" stop-color="#e3365e"/><stop offset="0.637" stop-color="#dc3461"/><stop offset="0.675" stop-color="#f24550"/><stop offset="0.688" stop-color="#f55148"/><stop offset="0.726" stop-color="#e5375c"/><stop offset="0.752" stop-color="#e0355f"/><stop offset="0.803" stop-color="#ea395a"/><stop offset="0.854" stop-color="#e0355f"/><stop offset="0.904" stop-color="#ea395a"/><stop offset="0.943" stop-color="#dc3461"/><stop offset="0.962" stop-color="#78257b"/><stop offset="0.981" stop-color="#2e1570"/><stop offset="0.994" stop-color="#140e5f"/><stop offset="1.000" stop-color="#140e5f"/></linearGradient><linearGradient id="gc13" gradientUnits="userSpaceOnUse" x1="272.0" x2="429.0" y1="0" y2="0"><stop offset="0.000" stop-color="#7b267a"/><stop offset="0.025" stop-color="#7b267a"/><stop offset="0.051" stop-color="#331673"/><stop offset="0.070" stop-color="#180f61"/><stop offset="0.076" stop-color="#120c51"/><stop offset="0.127" stop-color="#0f0a3f"/><stop offset="0.140" stop-color="#180f62"/><stop offset="0.166" stop-color="#3f1975"/><stop offset="0.178" stop-color="#5e207b"/><stop offset="0.204" stop-color="#d23264"/><stop offset="0.217" stop-color="#f04054"/><stop offset="0.229" stop-color="#f96640"/><stop offset="0.280" stop-color="#fb873d"/><stop offset="0.318" stop-color="#f34a4d"/><stop offset="0.338" stop-color="#e2365e"/><stop offset="0.350" stop-color="#be2f6b"/><stop offset="0.376" stop-color="#5a1f7a"/><stop offset="0.382" stop-color="#481b77"/><stop offset="0.401" stop-color="#8b2878"/><stop offset="0.420" stop-color="#d73363"/><stop offset="0.433" stop-color="#ef3f55"/><stop offset="0.490" stop-color="#d83362"/><stop offset="0.561" stop-color="#e0355f"/><stop offset="0.643" stop-color="#e0355f"/><stop offset="0.688" stop-color="#f2484f"/><stop offset="0.713" stop-color="#e0355f"/><stop offset="0.739" stop-color="#b32e6f"/><stop offset="0.790" stop-color="#e0355f"/><stop offset="0.879" stop-color="#e4375d"/><stop offset="0.943" stop-color="#dc3461"/><stop offset="0.975" stop-color="#6e247c"/><stop offset="0.994" stop-color="#3d1975"/><stop offset="1.000" stop-color="#3d1975"/></linearGradient><linearGradient id="gc14" gradientUnits="userSpaceOnUse" x1="272.0" x2="429.0" y1="0" y2="0"><stop offset="0.000" stop-color="#5b207a"/><stop offset="0.025" stop-color="#5b207a"/><stop offset="0.057" stop-color="#26136b"/><stop offset="0.083" stop-color="#130d58"/><stop offset="0.127" stop-color="#100b45"/><stop offset="0.153" stop-color="#180f62"/><stop offset="0.178" stop-color="#26136b"/><stop offset="0.191" stop-color="#4f1d78"/><stop offset="0.204" stop-color="#8e2878"/><stop offset="0.217" stop-color="#d43364"/><stop offset="0.229" stop-color="#f2484f"/><stop offset="0.280" stop-color="#fa763f"/><stop offset="0.338" stop-color="#e9385b"/><stop offset="0.376" stop-color="#b82e6e"/><stop offset="0.382" stop-color="#ab2c72"/><stop offset="0.433" stop-color="#e3365d"/><stop offset="0.484" stop-color="#ab2c72"/><stop offset="0.522" stop-color="#e1365f"/><stop offset="0.548" stop-color="#e7385c"/><stop offset="0.637" stop-color="#dc3461"/><stop offset="0.688" stop-color="#ef3f55"/><stop offset="0.713" stop-color="#c93168"/><stop offset="0.739" stop-color="#81267a"/><stop offset="0.790" stop-color="#c93168"/><stop offset="0.879" stop-color="#df3560"/><stop offset="0.943" stop-color="#dc3461"/><stop offset="0.994" stop-color="#8a2878"/><stop offset="1.000" stop-color="#8a2878"/></linearGradient><linearGradient id="gc15" gradientUnits="userSpaceOnUse" x1="272.0" x2="429.0" y1="0" y2="0"><stop offset="0.000" stop-color="#5e207b"/><stop offset="0.025" stop-color="#5e207b"/><stop offset="0.057" stop-color="#2a146e"/><stop offset="0.083" stop-color="#170f61"/><stop offset="0.178" stop-color="#140e5f"/><stop offset="0.191" stop-color="#311672"/><stop offset="0.204" stop-color="#66227c"/><stop offset="0.223" stop-color="#d63363"/><stop offset="0.229" stop-color="#ea395a"/><stop offset="0.280" stop-color="#f86041"/><stop offset="0.338" stop-color="#e8385b"/><stop offset="0.439" stop-color="#c83168"/><stop offset="0.484" stop-color="#8e2878"/><stop offset="0.522" stop-color="#dd3460"/><stop offset="0.541" stop-color="#e9385a"/><stop offset="0.650" stop-color="#e2365e"/><stop offset="0.688" stop-color="#ea395a"/><stop offset="0.713" stop-color="#bf306b"/><stop offset="0.739" stop-color="#79257b"/><stop offset="0.790" stop-color="#c2306a"/><stop offset="0.879" stop-color="#da3462"/><stop offset="0.949" stop-color="#d83362"/><stop offset="1.000" stop-color="#bc2f6c"/></linearGradient><linearGradient id="gc16" gradientUnits="userSpaceOnUse" x1="272.0" x2="429.0" y1="0" y2="0"><stop offset="0.000" stop-color="#8a2878"/><stop offset="0.025" stop-color="#8a2878"/><stop offset="0.051" stop-color="#451b76"/><stop offset="0.076" stop-color="#1d1065"/><stop offset="0.134" stop-color="#28136d"/><stop offset="0.178" stop-color="#140e5f"/><stop offset="0.197" stop-color="#471b77"/><stop offset="0.210" stop-color="#822779"/><stop offset="0.223" stop-color="#cb3167"/><stop offset="0.229" stop-color="#e3365d"/><stop offset="0.287" stop-color="#f2484e"/><stop offset="0.350" stop-color="#dc3461"/><stop offset="0.452" stop-color="#a22b75"/><stop offset="0.484" stop-color="#882779"/><stop offset="0.529" stop-color="#dd3460"/><stop offset="0.656" stop-color="#e5375c"/><stop offset="0.694" stop-color="#de3560"/><stop offset="0.739" stop-color="#9a2a76"/><stop offset="0.790" stop-color="#cf3265"/><stop offset="0.854" stop-color="#ce3266"/><stop offset="0.924" stop-color="#dc3461"/><stop offset="0.962" stop-color="#d03265"/><stop offset="1.000" stop-color="#bc2f6c"/></linearGradient><linearGradient id="gc17" gradientUnits="userSpaceOnUse" x1="272.0" x2="429.0" y1="0" y2="0"><stop offset="0.000" stop-color="#bc2f6c"/><stop offset="0.025" stop-color="#bc2f6c"/><stop offset="0.051" stop-color="#5b207a"/><stop offset="0.076" stop-color="#231269"/><stop offset="0.127" stop-color="#4e1c78"/><stop offset="0.166" stop-color="#1f1166"/><stop offset="0.178" stop-color="#140e5f"/><stop offset="0.197" stop-color="#431a76"/><stop offset="0.217" stop-color="#9c2a76"/><stop offset="0.229" stop-color="#dc3461"/><stop offset="0.287" stop-color="#ec3959"/><stop offset="0.382" stop-color="#bc2f6c"/><stop offset="0.446" stop-color="#8e2878"/><stop offset="0.484" stop-color="#81267a"/><stop offset="0.535" stop-color="#dc3461"/><stop offset="0.611" stop-color="#ee3a58"/><stop offset="0.688" stop-color="#dc3461"/><stop offset="0.739" stop-color="#bc2f6c"/><stop offset="0.790" stop-color="#dc3461"/><stop offset="0.841" stop-color="#bc2f6c"/><stop offset="0.904" stop-color="#dc3461"/><stop offset="0.955" stop-color="#d43364"/><stop offset="1.000" stop-color="#bc2f6c"/></linearGradient><linearGradient id="gc18" gradientUnits="userSpaceOnUse" x1="272.0" x2="429.0" y1="0" y2="0"><stop offset="0.000" stop-color="#b22d70"/><stop offset="0.025" stop-color="#b22d70"/><stop offset="0.057" stop-color="#5c207b"/><stop offset="0.076" stop-color="#381774"/><stop offset="0.127" stop-color="#64227c"/><stop offset="0.166" stop-color="#27136c"/><stop offset="0.178" stop-color="#1a1063"/><stop offset="0.197" stop-color="#461b77"/><stop offset="0.217" stop-color="#942977"/><stop offset="0.229" stop-color="#cf3265"/><stop offset="0.287" stop-color="#ed3a59"/><stop offset="0.350" stop-color="#d83362"/><stop offset="0.414" stop-color="#ac2d72"/><stop offset="0.484" stop-color="#882779"/><stop offset="0.561" stop-color="#d93462"/><stop offset="0.624" stop-color="#ec3959"/><stop offset="0.713" stop-color="#d93462"/><stop offset="0.752" stop-color="#ca3167"/><stop offset="0.904" stop-color="#d23264"/><stop offset="0.955" stop-color="#d73363"/><stop offset="1.000" stop-color="#c93168"/></linearGradient><linearGradient id="gc19" gradientUnits="userSpaceOnUse" x1="272.0" x2="429.0" y1="0" y2="0"><stop offset="0.000" stop-color="#a72c73"/><stop offset="0.025" stop-color="#a72c73"/><stop offset="0.076" stop-color="#581f7a"/><stop offset="0.127" stop-color="#81267a"/><stop offset="0.166" stop-color="#2e1570"/><stop offset="0.178" stop-color="#201167"/><stop offset="0.197" stop-color="#491b77"/><stop offset="0.217" stop-color="#8c2878"/><stop offset="0.229" stop-color="#c2306a"/><stop offset="0.280" stop-color="#ee3a58"/><stop offset="0.344" stop-color="#e2365e"/><stop offset="0.389" stop-color="#bb2f6c"/><stop offset="0.446" stop-color="#aa2c72"/><stop offset="0.484" stop-color="#8e2878"/><stop offset="0.535" stop-color="#a22b75"/><stop offset="0.586" stop-color="#e0355f"/><stop offset="0.662" stop-color="#ec3959"/><stop offset="0.783" stop-color="#c53069"/><stop offset="0.847" stop-color="#d33364"/><stop offset="0.898" stop-color="#c63069"/><stop offset="0.955" stop-color="#da3462"/><stop offset="1.000" stop-color="#d63363"/></linearGradient><linearGradient id="gc20" gradientUnits="userSpaceOnUse" x1="272.0" x2="429.0" y1="0" y2="0"><stop offset="0.000" stop-color="#76257b"/><stop offset="0.045" stop-color="#6b237d"/><stop offset="0.083" stop-color="#61217c"/><stop offset="0.127" stop-color="#81267a"/><stop offset="0.166" stop-color="#301672"/><stop offset="0.178" stop-color="#231269"/><stop offset="0.204" stop-color="#531e79"/><stop offset="0.229" stop-color="#a22b75"/><stop offset="0.280" stop-color="#e0355f"/><stop offset="0.338" stop-color="#e7385c"/><stop offset="0.389" stop-color="#c2306a"/><stop offset="0.439" stop-color="#be2f6b"/><stop offset="0.490" stop-color="#922977"/><stop offset="0.535" stop-color="#922977"/><stop offset="0.586" stop-color="#d63363"/><stop offset="0.682" stop-color="#ea395a"/><stop offset="0.777" stop-color="#cf3265"/><stop offset="0.809" stop-color="#d03265"/><stop offset="0.847" stop-color="#d83362"/><stop offset="0.892" stop-color="#bc2f6c"/><stop offset="0.955" stop-color="#dd3461"/><stop offset="1.000" stop-color="#e0355f"/></linearGradient><linearGradient id="gc21" gradientUnits="userSpaceOnUse" x1="272.0" x2="429.0" y1="0" y2="0"><stop offset="0.000" stop-color="#361774"/><stop offset="0.083" stop-color="#4b1c78"/><stop offset="0.127" stop-color="#64227c"/><stop offset="0.172" stop-color="#28136c"/><stop offset="0.185" stop-color="#29146d"/><stop offset="0.242" stop-color="#7f267a"/><stop offset="0.331" stop-color="#e3365d"/><stop offset="0.401" stop-color="#cf3265"/><stop offset="0.439" stop-color="#c93168"/><stop offset="0.484" stop-color="#922977"/><stop offset="0.541" stop-color="#992a76"/><stop offset="0.592" stop-color="#ca3167"/><stop offset="0.732" stop-color="#e6375c"/><stop offset="0.854" stop-color="#d43364"/><stop offset="0.892" stop-color="#bc2f6c"/><stop offset="0.962" stop-color="#e0355f"/><stop offset="1.000" stop-color="#e7385c"/></linearGradient><linearGradient id="gc22" gradientUnits="userSpaceOnUse" x1="272.0" x2="429.0" y1="0" y2="0"><stop offset="0.000" stop-color="#140e5f"/><stop offset="0.045" stop-color="#1f1166"/><stop offset="0.127" stop-color="#4e1c78"/><stop offset="0.178" stop-color="#231269"/><stop offset="0.261" stop-color="#5f217b"/><stop offset="0.280" stop-color="#69237d"/><stop offset="0.331" stop-color="#dc3461"/><stop offset="0.433" stop-color="#dc3461"/><stop offset="0.484" stop-color="#922977"/><stop offset="0.541" stop-color="#972977"/><stop offset="0.592" stop-color="#bc2f6c"/><stop offset="0.650" stop-color="#c43069"/><stop offset="0.739" stop-color="#ee3a58"/><stop offset="0.815" stop-color="#e5375c"/><stop offset="0.892" stop-color="#bc2f6c"/><stop offset="0.987" stop-color="#ec3959"/><stop offset="1.000" stop-color="#ee3a58"/></linearGradient><linearGradient id="gc23" gradientUnits="userSpaceOnUse" x1="272.0" x2="429.0" y1="0" y2="0"><stop offset="0.000" stop-color="#130d56"/><stop offset="0.025" stop-color="#130d56"/><stop offset="0.070" stop-color="#3e1975"/><stop offset="0.102" stop-color="#501d78"/><stop offset="0.127" stop-color="#581f7a"/><stop offset="0.166" stop-color="#28136c"/><stop offset="0.178" stop-color="#1d1065"/><stop offset="0.223" stop-color="#451b76"/><stop offset="0.248" stop-color="#501d78"/><stop offset="0.280" stop-color="#531e79"/><stop offset="0.306" stop-color="#962977"/><stop offset="0.331" stop-color="#dc3461"/><stop offset="0.439" stop-color="#de3560"/><stop offset="0.484" stop-color="#922977"/><stop offset="0.541" stop-color="#862779"/><stop offset="0.637" stop-color="#bc2f6c"/><stop offset="0.688" stop-color="#b32e6f"/><stop offset="0.726" stop-color="#e4375d"/><stop offset="0.758" stop-color="#ee3a58"/><stop offset="0.866" stop-color="#d93462"/><stop offset="0.898" stop-color="#cd3266"/><stop offset="0.981" stop-color="#eb3959"/><stop offset="1.000" stop-color="#ee3a58"/></linearGradient><linearGradient id="gc24" gradientUnits="userSpaceOnUse" x1="272.0" x2="429.0" y1="0" y2="0"><stop offset="0.000" stop-color="#110c4d"/><stop offset="0.025" stop-color="#110c4d"/><stop offset="0.038" stop-color="#1c1064"/><stop offset="0.064" stop-color="#421a76"/><stop offset="0.076" stop-color="#5e207b"/><stop offset="0.127" stop-color="#64227c"/><stop offset="0.159" stop-color="#2b146e"/><stop offset="0.178" stop-color="#170f61"/><stop offset="0.223" stop-color="#441a76"/><stop offset="0.236" stop-color="#4b1c78"/><stop offset="0.280" stop-color="#3d1975"/><stop offset="0.306" stop-color="#852779"/><stop offset="0.331" stop-color="#dc3461"/><stop offset="0.420" stop-color="#ea395a"/><stop offset="0.446" stop-color="#de3560"/><stop offset="0.484" stop-color="#922977"/><stop offset="0.535" stop-color="#71247c"/><stop offset="0.611" stop-color="#a42b74"/><stop offset="0.637" stop-color="#bc2f6c"/><stop offset="0.688" stop-color="#81267a"/><stop offset="0.720" stop-color="#d33364"/><stop offset="0.739" stop-color="#ee3a58"/><stop offset="0.860" stop-color="#e4375d"/><stop offset="0.898" stop-color="#da3462"/><stop offset="0.987" stop-color="#ee3a58"/><stop offset="1.000" stop-color="#ee3a58"/></linearGradient><linearGradient id="gc25" gradientUnits="userSpaceOnUse" x1="272.0" x2="429.0" y1="0" y2="0"><stop offset="0.000" stop-color="#160e60"/><stop offset="0.032" stop-color="#1e1166"/><stop offset="0.057" stop-color="#481b77"/><stop offset="0.076" stop-color="#79257b"/><stop offset="0.127" stop-color="#69237d"/><stop offset="0.166" stop-color="#2a146d"/><stop offset="0.178" stop-color="#1d1065"/><stop offset="0.223" stop-color="#451b76"/><stop offset="0.236" stop-color="#4b1c78"/><stop offset="0.280" stop-color="#3d1975"/><stop offset="0.306" stop-color="#852779"/><stop offset="0.331" stop-color="#dc3461"/><stop offset="0.401" stop-color="#ed3a59"/><stop offset="0.446" stop-color="#e1365f"/><stop offset="0.522" stop-color="#7f267a"/><stop offset="0.548" stop-color="#70247c"/><stop offset="0.586" stop-color="#6c237d"/><stop offset="0.637" stop-color="#ab2c72"/><stop offset="0.688" stop-color="#64227c"/><stop offset="0.726" stop-color="#d63363"/><stop offset="0.739" stop-color="#ea395a"/><stop offset="0.860" stop-color="#e4375d"/><stop offset="0.898" stop-color="#da3462"/><stop offset="0.987" stop-color="#ee3a58"/><stop offset="1.000" stop-color="#ee3a58"/></linearGradient><linearGradient id="gc26" gradientUnits="userSpaceOnUse" x1="272.0" x2="429.0" y1="0" y2="0"><stop offset="0.000" stop-color="#2b146f"/><stop offset="0.032" stop-color="#321673"/><stop offset="0.064" stop-color="#75257b"/><stop offset="0.076" stop-color="#9a2a76"/><stop offset="0.153" stop-color="#4b1c77"/><stop offset="0.178" stop-color="#2f1571"/><stop offset="0.242" stop-color="#4f1d78"/><stop offset="0.280" stop-color="#531e79"/><stop offset="0.306" stop-color="#962977"/><stop offset="0.331" stop-color="#dc3461"/><stop offset="0.395" stop-color="#eb3959"/><stop offset="0.484" stop-color="#d63363"/><stop offset="0.554" stop-color="#6a237d"/><stop offset="0.586" stop-color="#4f1d78"/><stop offset="0.637" stop-color="#8a2878"/><stop offset="0.688" stop-color="#591f7a"/><stop offset="0.720" stop-color="#b82e6d"/><stop offset="0.739" stop-color="#e3365d"/><stop offset="0.803" stop-color="#da3462"/><stop offset="0.854" stop-color="#df3560"/><stop offset="0.892" stop-color="#c93168"/><stop offset="0.968" stop-color="#e9385b"/><stop offset="1.000" stop-color="#ee3a58"/></linearGradient><linearGradient id="gc27" gradientUnits="userSpaceOnUse" x1="272.0" x2="429.0" y1="0" y2="0"><stop offset="0.000" stop-color="#4d1c78"/><stop offset="0.025" stop-color="#4d1c78"/><stop offset="0.064" stop-color="#9c2a76"/><stop offset="0.076" stop-color="#bc2f6c"/><stop offset="0.127" stop-color="#69237d"/><stop offset="0.191" stop-color="#4d1c78"/><stop offset="0.248" stop-color="#581f7a"/><stop offset="0.280" stop-color="#69237d"/><stop offset="0.331" stop-color="#dc3461"/><stop offset="0.389" stop-color="#ec3959"/><stop offset="0.439" stop-color="#de3560"/><stop offset="0.484" stop-color="#ee3a58"/><stop offset="0.516" stop-color="#c0306b"/><stop offset="0.561" stop-color="#5b207b"/><stop offset="0.586" stop-color="#321673"/><stop offset="0.637" stop-color="#69237d"/><stop offset="0.688" stop-color="#4e1d78"/><stop offset="0.707" stop-color="#7d267a"/><stop offset="0.739" stop-color="#dc3461"/><stop offset="0.790" stop-color="#bc2f6c"/><stop offset="0.841" stop-color="#dc3461"/><stop offset="0.892" stop-color="#bc2f6c"/><stop offset="0.987" stop-color="#ec3959"/><stop offset="1.000" stop-color="#ee3a58"/></linearGradient><linearGradient id="gc28" gradientUnits="userSpaceOnUse" x1="272.0" x2="429.0" y1="0" y2="0"><stop offset="0.000" stop-color="#211167"/><stop offset="0.025" stop-color="#211167"/><stop offset="0.045" stop-color="#591f7a"/><stop offset="0.064" stop-color="#bd2f6c"/><stop offset="0.076" stop-color="#ea395a"/><stop offset="0.102" stop-color="#c1306a"/><stop offset="0.127" stop-color="#80267a"/><stop offset="0.185" stop-color="#521e79"/><stop offset="0.236" stop-color="#461b77"/><stop offset="0.287" stop-color="#68237d"/><stop offset="0.331" stop-color="#cf3265"/><stop offset="0.389" stop-color="#ec3959"/><stop offset="0.439" stop-color="#de3560"/><stop offset="0.490" stop-color="#ea395a"/><stop offset="0.541" stop-color="#b92e6d"/><stop offset="0.586" stop-color="#69237d"/><stop offset="0.637" stop-color="#8a2878"/><stop offset="0.688" stop-color="#581f7a"/><stop offset="0.739" stop-color="#c2306a"/><stop offset="0.790" stop-color="#ab2c72"/><stop offset="0.847" stop-color="#cd3266"/><stop offset="0.898" stop-color="#c0306b"/><stop offset="0.987" stop-color="#ec3959"/><stop offset="1.000" stop-color="#ee3a58"/></linearGradient><linearGradient id="gc29" gradientUnits="userSpaceOnUse" x1="272.0" x2="429.0" y1="0" y2="0"><stop offset="0.000" stop-color="#0c072c"/><stop offset="0.025" stop-color="#0c072c"/><stop offset="0.032" stop-color="#150e5f"/><stop offset="0.045" stop-color="#461b77"/><stop offset="0.051" stop-color="#6d247c"/><stop offset="0.064" stop-color="#d63363"/><stop offset="0.070" stop-color="#ef3e55"/><stop offset="0.076" stop-color="#f85e42"/><stop offset="0.096" stop-color="#ec3959"/><stop offset="0.115" stop-color="#c3306a"/><stop offset="0.127" stop-color="#972977"/><stop offset="0.185" stop-color="#561f7a"/><stop offset="0.236" stop-color="#3b1875"/><stop offset="0.287" stop-color="#5d207b"/><stop offset="0.338" stop-color="#ca3167"/><stop offset="0.382" stop-color="#ee3a58"/><stop offset="0.439" stop-color="#de3560"/><stop offset="0.497" stop-color="#eb3959"/><stop offset="0.554" stop-color="#d83362"/><stop offset="0.605" stop-color="#b52e6e"/><stop offset="0.637" stop-color="#ab2c72"/><stop offset="0.688" stop-color="#63227c"/><stop offset="0.739" stop-color="#a22b75"/><stop offset="0.796" stop-color="#9f2b75"/><stop offset="0.847" stop-color="#c2306a"/><stop offset="0.898" stop-color="#c0306b"/><stop offset="0.987" stop-color="#ec3959"/><stop offset="1.000" stop-color="#ee3a58"/></linearGradient><linearGradient id="gc30" gradientUnits="userSpaceOnUse" x1="272.0" x2="429.0" y1="0" y2="0"><stop offset="0.000" stop-color="#070410"/><stop offset="0.025" stop-color="#070410"/><stop offset="0.038" stop-color="#201167"/><stop offset="0.045" stop-color="#3d1975"/><stop offset="0.051" stop-color="#69237d"/><stop offset="0.064" stop-color="#e0355f"/><stop offset="0.070" stop-color="#f44c4b"/><stop offset="0.076" stop-color="#fa793e"/><stop offset="0.102" stop-color="#ec3959"/><stop offset="0.121" stop-color="#bd2f6c"/><stop offset="0.127" stop-color="#a22b75"/><stop offset="0.185" stop-color="#581f7a"/><stop offset="0.229" stop-color="#321673"/><stop offset="0.287" stop-color="#521d79"/><stop offset="0.325" stop-color="#9c2a76"/><stop offset="0.363" stop-color="#db3461"/><stop offset="0.389" stop-color="#e9385a"/><stop offset="0.446" stop-color="#e4375d"/><stop offset="0.535" stop-color="#ef3f55"/><stop offset="0.618" stop-color="#d13265"/><stop offset="0.669" stop-color="#9a2a76"/><stop offset="0.688" stop-color="#81267a"/><stop offset="0.745" stop-color="#972977"/><stop offset="0.790" stop-color="#81267a"/><stop offset="0.847" stop-color="#b42e6f"/><stop offset="0.924" stop-color="#cc3266"/><stop offset="1.000" stop-color="#ea395a"/></linearGradient><linearGradient id="gc31" gradientUnits="userSpaceOnUse" x1="272.0" x2="429.0" y1="0" y2="0"><stop offset="0.000" stop-color="#070410"/><stop offset="0.025" stop-color="#070410"/><stop offset="0.038" stop-color="#201167"/><stop offset="0.045" stop-color="#3d1975"/><stop offset="0.051" stop-color="#69237d"/><stop offset="0.064" stop-color="#e0355f"/><stop offset="0.070" stop-color="#f44c4b"/><stop offset="0.076" stop-color="#fa793e"/><stop offset="0.102" stop-color="#ec3959"/><stop offset="0.121" stop-color="#bd2f6c"/><stop offset="0.127" stop-color="#a22b75"/><stop offset="0.185" stop-color="#581f7a"/><stop offset="0.236" stop-color="#331673"/><stop offset="0.287" stop-color="#451b77"/><stop offset="0.331" stop-color="#8a2878"/><stop offset="0.376" stop-color="#dd3460"/><stop offset="0.535" stop-color="#f2484f"/><stop offset="0.605" stop-color="#e7385c"/><stop offset="0.701" stop-color="#b12d70"/><stop offset="0.739" stop-color="#ab2c72"/><stop offset="0.790" stop-color="#64227c"/><stop offset="0.847" stop-color="#a52c74"/><stop offset="1.000" stop-color="#e3365d"/></linearGradient><linearGradient id="gc32" gradientUnits="userSpaceOnUse" x1="272.0" x2="429.0" y1="0" y2="0"><stop offset="0.000" stop-color="#070410"/><stop offset="0.025" stop-color="#070410"/><stop offset="0.038" stop-color="#201167"/><stop offset="0.045" stop-color="#3d1975"/><stop offset="0.051" stop-color="#69237d"/><stop offset="0.064" stop-color="#e0355f"/><stop offset="0.070" stop-color="#f44c4b"/><stop offset="0.076" stop-color="#fa793e"/><stop offset="0.102" stop-color="#ec3959"/><stop offset="0.121" stop-color="#bd2f6c"/><stop offset="0.127" stop-color="#a22b75"/><stop offset="0.185" stop-color="#581f7a"/><stop offset="0.236" stop-color="#321673"/><stop offset="0.287" stop-color="#391874"/><stop offset="0.331" stop-color="#69237d"/><stop offset="0.382" stop-color="#dc3461"/><stop offset="0.478" stop-color="#f24650"/><stop offset="0.586" stop-color="#f55148"/><stop offset="0.624" stop-color="#e5375d"/><stop offset="0.669" stop-color="#dc3461"/><stop offset="0.707" stop-color="#d03265"/><stop offset="0.739" stop-color="#bc2f6c"/><stop offset="0.777" stop-color="#62217c"/><stop offset="0.790" stop-color="#4e1d78"/><stop offset="0.834" stop-color="#882779"/><stop offset="0.898" stop-color="#bc2f6c"/><stop offset="0.955" stop-color="#c43069"/><stop offset="1.000" stop-color="#dc3461"/></linearGradient><linearGradient id="gc33" gradientUnits="userSpaceOnUse" x1="272.0" x2="429.0" y1="0" y2="0"><stop offset="0.000" stop-color="#070410"/><stop offset="0.025" stop-color="#070410"/><stop offset="0.038" stop-color="#201167"/><stop offset="0.045" stop-color="#3d1975"/><stop offset="0.051" stop-color="#69237d"/><stop offset="0.064" stop-color="#e0355f"/><stop offset="0.070" stop-color="#f44c4b"/><stop offset="0.076" stop-color="#fa793e"/><stop offset="0.102" stop-color="#ec3959"/><stop offset="0.121" stop-color="#bd2f6c"/><stop offset="0.127" stop-color="#a22b75"/><stop offset="0.178" stop-color="#5e207b"/><stop offset="0.280" stop-color="#3d1975"/><stop offset="0.338" stop-color="#842779"/><stop offset="0.382" stop-color="#cf3265"/><stop offset="0.471" stop-color="#ef3e55"/><stop offset="0.586" stop-color="#f2484f"/><stop offset="0.643" stop-color="#e2365e"/><stop offset="0.739" stop-color="#c93168"/><stop offset="0.790" stop-color="#71247c"/><stop offset="0.892" stop-color="#c93168"/><stop offset="0.943" stop-color="#bc2f6c"/><stop offset="0.994" stop-color="#e3365d"/><stop offset="1.000" stop-color="#e3365d"/></linearGradient><linearGradient id="gc34" gradientUnits="userSpaceOnUse" x1="272.0" x2="429.0" y1="0" y2="0"><stop offset="0.000" stop-color="#070410"/><stop offset="0.025" stop-color="#070410"/><stop offset="0.038" stop-color="#201167"/><stop offset="0.045" stop-color="#3d1975"/><stop offset="0.051" stop-color="#69237d"/><stop offset="0.064" stop-color="#e0355f"/><stop offset="0.070" stop-color="#f44c4b"/><stop offset="0.076" stop-color="#fa793e"/><stop offset="0.102" stop-color="#ec3959"/><stop offset="0.121" stop-color="#bd2f6c"/><stop offset="0.127" stop-color="#a22b75"/><stop offset="0.178" stop-color="#5e207b"/><stop offset="0.248" stop-color="#561e7a"/><stop offset="0.280" stop-color="#481b77"/><stop offset="0.344" stop-color="#982a76"/><stop offset="0.395" stop-color="#ca3167"/><stop offset="0.484" stop-color="#ef3d56"/><stop offset="0.650" stop-color="#e7385c"/><stop offset="0.745" stop-color="#d03265"/><stop offset="0.790" stop-color="#a22b75"/><stop offset="0.860" stop-color="#c2306a"/><stop offset="0.892" stop-color="#d63363"/><stop offset="0.943" stop-color="#bc2f6c"/><stop offset="0.994" stop-color="#ea395a"/><stop offset="1.000" stop-color="#ea395a"/></linearGradient><linearGradient id="gc35" gradientUnits="userSpaceOnUse" x1="272.0" x2="429.0" y1="0" y2="0"><stop offset="0.000" stop-color="#070411"/><stop offset="0.025" stop-color="#070411"/><stop offset="0.038" stop-color="#211168"/><stop offset="0.045" stop-color="#3e1975"/><stop offset="0.051" stop-color="#6b237d"/><stop offset="0.064" stop-color="#e0355f"/><stop offset="0.070" stop-color="#f44d4b"/><stop offset="0.076" stop-color="#fa793e"/><stop offset="0.102" stop-color="#ec3959"/><stop offset="0.121" stop-color="#bd2f6c"/><stop offset="0.127" stop-color="#a22b75"/><stop offset="0.178" stop-color="#5e207b"/><stop offset="0.236" stop-color="#65227c"/><stop offset="0.280" stop-color="#481b77"/><stop offset="0.357" stop-color="#9a2a76"/><stop offset="0.439" stop-color="#da3462"/><stop offset="0.529" stop-color="#ee3a58"/><stop offset="0.662" stop-color="#e7385c"/><stop offset="0.764" stop-color="#d63363"/><stop offset="0.815" stop-color="#c93168"/><stop offset="0.866" stop-color="#d63363"/><stop offset="0.904" stop-color="#dc3461"/><stop offset="0.943" stop-color="#c93168"/><stop offset="0.994" stop-color="#ef3f55"/><stop offset="1.000" stop-color="#ef3f55"/></linearGradient><linearGradient id="gc36" gradientUnits="userSpaceOnUse" x1="272.0" x2="429.0" y1="0" y2="0"><stop offset="0.000" stop-color="#080411"/><stop offset="0.025" stop-color="#080411"/><stop offset="0.032" stop-color="#100b48"/><stop offset="0.038" stop-color="#231269"/><stop offset="0.045" stop-color="#411a76"/><stop offset="0.051" stop-color="#6e247c"/><stop offset="0.057" stop-color="#af2d71"/><stop offset="0.064" stop-color="#e1365f"/><stop offset="0.070" stop-color="#f44d4b"/><stop offset="0.076" stop-color="#fa793e"/><stop offset="0.102" stop-color="#ec3959"/><stop offset="0.121" stop-color="#bd2f6c"/><stop offset="0.127" stop-color="#a22b75"/><stop offset="0.178" stop-color="#5e207b"/><stop offset="0.236" stop-color="#64227c"/><stop offset="0.280" stop-color="#3d1975"/><stop offset="0.350" stop-color="#79257b"/><stop offset="0.408" stop-color="#b82e6d"/><stop offset="0.490" stop-color="#e5375d"/><stop offset="0.637" stop-color="#ee3a58"/><stop offset="0.860" stop-color="#e2365e"/><stop offset="0.955" stop-color="#e6375c"/><stop offset="1.000" stop-color="#f2484f"/></linearGradient><linearGradient id="gc37" gradientUnits="userSpaceOnUse" x1="272.0" x2="429.0" y1="0" y2="0"><stop offset="0.000" stop-color="#080412"/><stop offset="0.025" stop-color="#080412"/><stop offset="0.032" stop-color="#110c4e"/><stop offset="0.038" stop-color="#24126a"/><stop offset="0.051" stop-color="#71247c"/><stop offset="0.057" stop-color="#b12d70"/><stop offset="0.064" stop-color="#e1365e"/><stop offset="0.070" stop-color="#f44d4b"/><stop offset="0.076" stop-color="#fa793e"/><stop offset="0.102" stop-color="#ec3959"/><stop offset="0.121" stop-color="#bd2f6c"/><stop offset="0.127" stop-color="#a22b75"/><stop offset="0.178" stop-color="#5e207b"/><stop offset="0.229" stop-color="#69237d"/><stop offset="0.280" stop-color="#321673"/><stop offset="0.344" stop-color="#5b207a"/><stop offset="0.395" stop-color="#9c2a76"/><stop offset="0.497" stop-color="#e0355f"/><stop offset="0.567" stop-color="#ee3a58"/><stop offset="0.955" stop-color="#f04054"/><stop offset="1.000" stop-color="#f55148"/></linearGradient><linearGradient id="gc38" gradientUnits="userSpaceOnUse" x1="272.0" x2="429.0" y1="0" y2="0"><stop offset="0.000" stop-color="#080412"/><stop offset="0.025" stop-color="#080412"/><stop offset="0.032" stop-color="#110c4e"/><stop offset="0.038" stop-color="#24126a"/><stop offset="0.051" stop-color="#71247c"/><stop offset="0.057" stop-color="#b12d70"/><stop offset="0.064" stop-color="#e1365e"/><stop offset="0.070" stop-color="#f44d4b"/><stop offset="0.076" stop-color="#fa793e"/><stop offset="0.102" stop-color="#ec3959"/><stop offset="0.121" stop-color="#bd2f6c"/><stop offset="0.127" stop-color="#a22b75"/><stop offset="0.178" stop-color="#5e207b"/><stop offset="0.229" stop-color="#69237d"/><stop offset="0.280" stop-color="#321673"/><stop offset="0.344" stop-color="#5b207a"/><stop offset="0.395" stop-color="#9c2a76"/><stop offset="0.490" stop-color="#dc3461"/><stop offset="0.720" stop-color="#ee3a58"/><stop offset="0.968" stop-color="#f04153"/><stop offset="1.000" stop-color="#f2484f"/></linearGradient><linearGradient id="gc39" gradientUnits="userSpaceOnUse" x1="272.0" x2="429.0" y1="0" y2="0"><stop offset="0.000" stop-color="#080412"/><stop offset="0.025" stop-color="#080412"/><stop offset="0.032" stop-color="#110c4e"/><stop offset="0.038" stop-color="#24126a"/><stop offset="0.051" stop-color="#71247c"/><stop offset="0.057" stop-color="#b12d70"/><stop offset="0.064" stop-color="#e1365e"/><stop offset="0.070" stop-color="#f44d4b"/><stop offset="0.076" stop-color="#fa793e"/><stop offset="0.102" stop-color="#ec3959"/><stop offset="0.121" stop-color="#bd2f6c"/><stop offset="0.127" stop-color="#a22b75"/><stop offset="0.178" stop-color="#5e207b"/><stop offset="0.229" stop-color="#69237d"/><stop offset="0.280" stop-color="#321673"/><stop offset="0.344" stop-color="#5b207a"/><stop offset="0.395" stop-color="#9c2a76"/><stop offset="0.484" stop-color="#dc3461"/><stop offset="0.541" stop-color="#cc3167"/><stop offset="0.650" stop-color="#ee3a58"/><stop offset="1.000" stop-color="#ef3f55"/></linearGradient><linearGradient id="gc40" gradientUnits="userSpaceOnUse" x1="272.0" x2="429.0" y1="0" y2="0"><stop offset="0.000" stop-color="#080412"/><stop offset="0.025" stop-color="#080412"/><stop offset="0.032" stop-color="#110c4c"/><stop offset="0.038" stop-color="#231269"/><stop offset="0.051" stop-color="#6b237d"/><stop offset="0.064" stop-color="#de3560"/><stop offset="0.070" stop-color="#f2484e"/><stop offset="0.076" stop-color="#f9713f"/><stop offset="0.102" stop-color="#eb3959"/><stop offset="0.121" stop-color="#c0306b"/><stop offset="0.127" stop-color="#a92c73"/><stop offset="0.178" stop-color="#66227c"/><stop offset="0.229" stop-color="#6e247c"/><stop offset="0.280" stop-color="#3d1975"/><stop offset="0.350" stop-color="#69237d"/><stop offset="0.395" stop-color="#9a2a76"/><stop offset="0.484" stop-color="#cf3265"/><stop offset="0.541" stop-color="#bf306b"/><stop offset="0.643" stop-color="#ec3959"/><stop offset="1.000" stop-color="#ef3d56"/></linearGradient><linearGradient id="gc41" gradientUnits="userSpaceOnUse" x1="272.0" x2="429.0" y1="0" y2="0"><stop offset="0.000" stop-color="#080412"/><stop offset="0.025" stop-color="#080412"/><stop offset="0.032" stop-color="#110b4a"/><stop offset="0.038" stop-color="#211268"/><stop offset="0.045" stop-color="#3b1875"/><stop offset="0.051" stop-color="#63227c"/><stop offset="0.064" stop-color="#d13265"/><stop offset="0.070" stop-color="#ef3d56"/><stop offset="0.076" stop-color="#f85f41"/><stop offset="0.102" stop-color="#e9385b"/><stop offset="0.140" stop-color="#a72c73"/><stop offset="0.185" stop-color="#7b257b"/><stop offset="0.236" stop-color="#72247c"/><stop offset="0.287" stop-color="#561f7a"/><stop offset="0.408" stop-color="#9a2a76"/><stop offset="0.592" stop-color="#ce3266"/><stop offset="0.643" stop-color="#e8385b"/><stop offset="0.713" stop-color="#e4375d"/><stop offset="0.968" stop-color="#f14252"/><stop offset="1.000" stop-color="#f14252"/></linearGradient><linearGradient id="gc42" gradientUnits="userSpaceOnUse" x1="272.0" x2="429.0" y1="0" y2="0"><stop offset="0.000" stop-color="#080412"/><stop offset="0.025" stop-color="#080412"/><stop offset="0.032" stop-color="#100b47"/><stop offset="0.038" stop-color="#1f1166"/><stop offset="0.045" stop-color="#351774"/><stop offset="0.057" stop-color="#8d2878"/><stop offset="0.064" stop-color="#c43069"/><stop offset="0.070" stop-color="#e7385b"/><stop offset="0.076" stop-color="#f55148"/><stop offset="0.108" stop-color="#e0355f"/><stop offset="0.146" stop-color="#b12d70"/><stop offset="0.191" stop-color="#8e2878"/><stop offset="0.280" stop-color="#69237d"/><stop offset="0.338" stop-color="#922977"/><stop offset="0.490" stop-color="#972977"/><stop offset="0.541" stop-color="#bc2f6c"/><stop offset="0.592" stop-color="#c2306a"/><stop offset="0.637" stop-color="#e7385c"/><stop offset="0.694" stop-color="#d33364"/><stop offset="0.758" stop-color="#e7385c"/><stop offset="0.828" stop-color="#f04253"/><stop offset="1.000" stop-color="#f2484f"/></linearGradient><linearGradient id="gc43" gradientUnits="userSpaceOnUse" x1="272.0" x2="429.0" y1="0" y2="0"><stop offset="0.000" stop-color="#080412"/><stop offset="0.025" stop-color="#080412"/><stop offset="0.032" stop-color="#100b47"/><stop offset="0.038" stop-color="#1f1166"/><stop offset="0.045" stop-color="#351774"/><stop offset="0.057" stop-color="#8d2878"/><stop offset="0.064" stop-color="#c43069"/><stop offset="0.070" stop-color="#e7385b"/><stop offset="0.076" stop-color="#f55148"/><stop offset="0.102" stop-color="#e7385c"/><stop offset="0.146" stop-color="#b12d70"/><stop offset="0.191" stop-color="#8e2878"/><stop offset="0.280" stop-color="#69237d"/><stop offset="0.338" stop-color="#922977"/><stop offset="0.497" stop-color="#982a76"/><stop offset="0.605" stop-color="#ca3167"/><stop offset="0.643" stop-color="#de3560"/><stop offset="0.694" stop-color="#d23265"/><stop offset="0.777" stop-color="#e0355f"/><stop offset="0.873" stop-color="#ef3f55"/><stop offset="1.000" stop-color="#ef3f55"/></linearGradient><linearGradient id="gc44" gradientUnits="userSpaceOnUse" x1="272.0" x2="429.0" y1="0" y2="0"><stop offset="0.000" stop-color="#080412"/><stop offset="0.025" stop-color="#080412"/><stop offset="0.032" stop-color="#100b47"/><stop offset="0.038" stop-color="#1f1166"/><stop offset="0.045" stop-color="#351774"/><stop offset="0.057" stop-color="#8d2878"/><stop offset="0.064" stop-color="#c43069"/><stop offset="0.070" stop-color="#e7385b"/><stop offset="0.076" stop-color="#f55148"/><stop offset="0.108" stop-color="#e0355f"/><stop offset="0.146" stop-color="#b12d70"/><stop offset="0.191" stop-color="#8e2878"/><stop offset="0.280" stop-color="#69237d"/><stop offset="0.338" stop-color="#922977"/><stop offset="0.535" stop-color="#9a2a76"/><stop offset="0.643" stop-color="#d53363"/><stop offset="0.790" stop-color="#d63363"/><stop offset="0.860" stop-color="#ea395a"/><stop offset="1.000" stop-color="#ea395a"/></linearGradient><linearGradient id="gc45" gradientUnits="userSpaceOnUse" x1="272.0" x2="429.0" y1="0" y2="0"><stop offset="0.000" stop-color="#080412"/><stop offset="0.025" stop-color="#080412"/><stop offset="0.032" stop-color="#100b47"/><stop offset="0.038" stop-color="#1f1166"/><stop offset="0.045" stop-color="#351774"/><stop offset="0.057" stop-color="#8d2878"/><stop offset="0.064" stop-color="#c43069"/><stop offset="0.070" stop-color="#e7385b"/><stop offset="0.076" stop-color="#f55148"/><stop offset="0.108" stop-color="#e0355f"/><stop offset="0.134" stop-color="#be2f6b"/><stop offset="0.191" stop-color="#902878"/><stop offset="0.287" stop-color="#6d247c"/><stop offset="0.344" stop-color="#8c2878"/><stop offset="0.522" stop-color="#8c2878"/><stop offset="0.548" stop-color="#942977"/><stop offset="0.637" stop-color="#cf3265"/><stop offset="0.790" stop-color="#cf3265"/><stop offset="0.885" stop-color="#e3365e"/><stop offset="1.000" stop-color="#e7385c"/></linearGradient><linearGradient id="gc46" gradientUnits="userSpaceOnUse" x1="272.0" x2="429.0" y1="0" y2="0"><stop offset="0.000" stop-color="#080412"/><stop offset="0.025" stop-color="#080412"/><stop offset="0.032" stop-color="#100b47"/><stop offset="0.038" stop-color="#1f1166"/><stop offset="0.045" stop-color="#351774"/><stop offset="0.057" stop-color="#8d2878"/><stop offset="0.064" stop-color="#c43069"/><stop offset="0.070" stop-color="#e7385b"/><stop offset="0.076" stop-color="#f55148"/><stop offset="0.102" stop-color="#e7385c"/><stop offset="0.134" stop-color="#bf2f6b"/><stop offset="0.217" stop-color="#882779"/><stop offset="0.287" stop-color="#6b237d"/><stop offset="0.401" stop-color="#922977"/><stop offset="0.497" stop-color="#8c2878"/><stop offset="0.535" stop-color="#79257b"/><stop offset="0.637" stop-color="#cf3265"/><stop offset="0.713" stop-color="#bc2f6c"/><stop offset="0.809" stop-color="#cd3266"/><stop offset="0.860" stop-color="#d03265"/><stop offset="0.924" stop-color="#dc3461"/><stop offset="1.000" stop-color="#e7385c"/></linearGradient><linearGradient id="gc47" gradientUnits="userSpaceOnUse" x1="272.0" x2="429.0" y1="0" y2="0"><stop offset="0.000" stop-color="#080412"/><stop offset="0.025" stop-color="#080412"/><stop offset="0.032" stop-color="#100b47"/><stop offset="0.038" stop-color="#1f1166"/><stop offset="0.045" stop-color="#351774"/><stop offset="0.057" stop-color="#8d2878"/><stop offset="0.064" stop-color="#c43069"/><stop offset="0.070" stop-color="#e7385b"/><stop offset="0.076" stop-color="#f55148"/><stop offset="0.108" stop-color="#e0355f"/><stop offset="0.134" stop-color="#bf306b"/><stop offset="0.280" stop-color="#69237d"/><stop offset="0.338" stop-color="#6e247c"/><stop offset="0.389" stop-color="#922977"/><stop offset="0.490" stop-color="#8d2878"/><stop offset="0.535" stop-color="#69237d"/><stop offset="0.599" stop-color="#a22b75"/><stop offset="0.637" stop-color="#cf3265"/><stop offset="0.694" stop-color="#ab2c72"/><stop offset="0.745" stop-color="#b02d70"/><stop offset="0.790" stop-color="#cf3265"/><stop offset="0.841" stop-color="#ab2c72"/><stop offset="0.898" stop-color="#cf3265"/><stop offset="0.955" stop-color="#d73363"/><stop offset="1.000" stop-color="#e7385c"/></linearGradient><linearGradient id="gc48" gradientUnits="userSpaceOnUse" x1="272.0" x2="429.0" y1="0" y2="0"><stop offset="0.000" stop-color="#09051b"/><stop offset="0.025" stop-color="#09051b"/><stop offset="0.032" stop-color="#120c4f"/><stop offset="0.045" stop-color="#3a1874"/><stop offset="0.057" stop-color="#902977"/><stop offset="0.064" stop-color="#c63169"/><stop offset="0.070" stop-color="#e8385b"/><stop offset="0.076" stop-color="#f55148"/><stop offset="0.102" stop-color="#e7385c"/><stop offset="0.134" stop-color="#bf306b"/><stop offset="0.280" stop-color="#69237d"/><stop offset="0.344" stop-color="#6f247c"/><stop offset="0.446" stop-color="#922977"/><stop offset="0.490" stop-color="#8d2878"/><stop offset="0.535" stop-color="#69237d"/><stop offset="0.599" stop-color="#a22b75"/><stop offset="0.637" stop-color="#cf3265"/><stop offset="0.694" stop-color="#ad2d71"/><stop offset="0.796" stop-color="#c2306a"/><stop offset="0.854" stop-color="#c1306a"/><stop offset="0.924" stop-color="#cf3265"/><stop offset="0.981" stop-color="#e2365e"/><stop offset="1.000" stop-color="#e7385c"/></linearGradient><linearGradient id="gc49" gradientUnits="userSpaceOnUse" x1="272.0" x2="429.0" y1="0" y2="0"><stop offset="0.000" stop-color="#0b0624"/><stop offset="0.025" stop-color="#0b0624"/><stop offset="0.032" stop-color="#130d57"/><stop offset="0.045" stop-color="#3e1975"/><stop offset="0.051" stop-color="#62217c"/><stop offset="0.064" stop-color="#c83168"/><stop offset="0.070" stop-color="#e8385b"/><stop offset="0.076" stop-color="#f55148"/><stop offset="0.108" stop-color="#e0355f"/><stop offset="0.134" stop-color="#bf306b"/><stop offset="0.280" stop-color="#69237d"/><stop offset="0.389" stop-color="#75257b"/><stop offset="0.446" stop-color="#922977"/><stop offset="0.490" stop-color="#8d2878"/><stop offset="0.535" stop-color="#69237d"/><stop offset="0.599" stop-color="#a22b75"/><stop offset="0.637" stop-color="#cf3265"/><stop offset="0.688" stop-color="#ab2c72"/><stop offset="0.745" stop-color="#c63168"/><stop offset="0.796" stop-color="#b72e6e"/><stop offset="0.885" stop-color="#ce3266"/><stop offset="0.955" stop-color="#d73363"/><stop offset="1.000" stop-color="#e7385c"/></linearGradient><linearGradient id="gc50" gradientUnits="userSpaceOnUse" x1="272.0" x2="429.0" y1="0" y2="0"><stop offset="0.000" stop-color="#0d082f"/><stop offset="0.025" stop-color="#0d082f"/><stop offset="0.032" stop-color="#140e5d"/><stop offset="0.045" stop-color="#3a1874"/><stop offset="0.057" stop-color="#842779"/><stop offset="0.070" stop-color="#dc3461"/><stop offset="0.076" stop-color="#ef3f55"/><stop offset="0.121" stop-color="#c93167"/><stop offset="0.261" stop-color="#67237d"/><stop offset="0.325" stop-color="#5e207b"/><stop offset="0.395" stop-color="#6b237d"/><stop offset="0.446" stop-color="#8c2878"/><stop offset="0.490" stop-color="#8e2878"/><stop offset="0.535" stop-color="#71247c"/><stop offset="0.599" stop-color="#a22b75"/><stop offset="0.637" stop-color="#cf3265"/><stop offset="0.688" stop-color="#b32e6f"/><stop offset="0.745" stop-color="#cc3266"/><stop offset="0.790" stop-color="#b32e6f"/><stop offset="0.854" stop-color="#cf3265"/><stop offset="0.975" stop-color="#e1365e"/><stop offset="1.000" stop-color="#e7385c"/></linearGradient><linearGradient id="gc51" gradientUnits="userSpaceOnUse" x1="272.0" x2="429.0" y1="0" y2="0"><stop offset="0.000" stop-color="#0e093c"/><stop offset="0.025" stop-color="#0e093c"/><stop offset="0.032" stop-color="#140e5f"/><stop offset="0.045" stop-color="#301672"/><stop offset="0.064" stop-color="#862779"/><stop offset="0.076" stop-color="#cf3265"/><stop offset="0.146" stop-color="#b12d70"/><stop offset="0.268" stop-color="#521e79"/><stop offset="0.299" stop-color="#481b77"/><stop offset="0.382" stop-color="#581f7a"/><stop offset="0.484" stop-color="#922977"/><stop offset="0.541" stop-color="#832779"/><stop offset="0.592" stop-color="#9a2a76"/><stop offset="0.637" stop-color="#cf3265"/><stop offset="0.701" stop-color="#c63069"/><stop offset="0.758" stop-color="#ca3167"/><stop offset="0.809" stop-color="#c73168"/><stop offset="0.924" stop-color="#db3461"/><stop offset="1.000" stop-color="#e7385c"/></linearGradient><linearGradient id="gc52" gradientUnits="userSpaceOnUse" x1="272.0" x2="429.0" y1="0" y2="0"><stop offset="0.000" stop-color="#100b48"/><stop offset="0.025" stop-color="#100b48"/><stop offset="0.032" stop-color="#160e60"/><stop offset="0.057" stop-color="#4b1c78"/><stop offset="0.076" stop-color="#922977"/><stop offset="0.127" stop-color="#bc2f6c"/><stop offset="0.248" stop-color="#541e79"/><stop offset="0.287" stop-color="#321673"/><stop offset="0.344" stop-color="#391874"/><stop offset="0.465" stop-color="#822779"/><stop offset="0.497" stop-color="#922977"/><stop offset="0.586" stop-color="#922977"/><stop offset="0.637" stop-color="#cf3265"/><stop offset="0.898" stop-color="#d33364"/><stop offset="0.962" stop-color="#e7385c"/><stop offset="1.000" stop-color="#e7385c"/></linearGradient><linearGradient id="gc53" gradientUnits="userSpaceOnUse" x1="272.0" x2="429.0" y1="0" y2="0"><stop offset="0.000" stop-color="#120c51"/><stop offset="0.025" stop-color="#120c51"/><stop offset="0.038" stop-color="#211268"/><stop offset="0.057" stop-color="#461b77"/><stop offset="0.076" stop-color="#81267a"/><stop offset="0.127" stop-color="#ab2c72"/><stop offset="0.287" stop-color="#521d79"/><stop offset="0.344" stop-color="#4c1c78"/><stop offset="0.427" stop-color="#74257b"/><stop offset="0.497" stop-color="#922977"/><stop offset="0.580" stop-color="#a02b75"/><stop offset="0.643" stop-color="#cf3265"/><stop offset="0.815" stop-color="#d63363"/><stop offset="0.866" stop-color="#d63363"/><stop offset="0.898" stop-color="#d33364"/><stop offset="0.962" stop-color="#e7385c"/><stop offset="1.000" stop-color="#e7385c"/></linearGradient><linearGradient id="gc54" gradientUnits="userSpaceOnUse" x1="272.0" x2="429.0" y1="0" y2="0"><stop offset="0.000" stop-color="#130d5a"/><stop offset="0.025" stop-color="#130d5a"/><stop offset="0.057" stop-color="#421a76"/><stop offset="0.076" stop-color="#71247c"/><stop offset="0.134" stop-color="#992a76"/><stop offset="0.268" stop-color="#7a257b"/><stop offset="0.344" stop-color="#5f217b"/><stop offset="0.401" stop-color="#70247c"/><stop offset="0.446" stop-color="#8c2878"/><stop offset="0.548" stop-color="#9a2a76"/><stop offset="0.643" stop-color="#cf3265"/><stop offset="0.803" stop-color="#d63363"/><stop offset="0.854" stop-color="#e0355f"/><stop offset="0.898" stop-color="#d33364"/><stop offset="0.962" stop-color="#e7385c"/><stop offset="1.000" stop-color="#e7385c"/></linearGradient><linearGradient id="gc55" gradientUnits="userSpaceOnUse" x1="272.0" x2="429.0" y1="0" y2="0"><stop offset="0.000" stop-color="#170f61"/><stop offset="0.032" stop-color="#1e1166"/><stop offset="0.064" stop-color="#4f1d78"/><stop offset="0.083" stop-color="#6e247c"/><stop offset="0.134" stop-color="#922977"/><stop offset="0.217" stop-color="#862779"/><stop offset="0.293" stop-color="#832779"/><stop offset="0.350" stop-color="#71247c"/><stop offset="0.395" stop-color="#79257b"/><stop offset="0.452" stop-color="#952977"/><stop offset="0.541" stop-color="#972977"/><stop offset="0.605" stop-color="#c3306a"/><stop offset="0.669" stop-color="#cf3265"/><stop offset="0.796" stop-color="#d93362"/><stop offset="0.854" stop-color="#e3365d"/><stop offset="0.898" stop-color="#d93362"/><stop offset="0.981" stop-color="#e7385c"/><stop offset="1.000" stop-color="#e7385c"/></linearGradient><linearGradient id="gc56" gradientUnits="userSpaceOnUse" x1="272.0" x2="429.0" y1="0" y2="0"><stop offset="0.000" stop-color="#1d1065"/><stop offset="0.032" stop-color="#231269"/><stop offset="0.070" stop-color="#5d207b"/><stop offset="0.127" stop-color="#922977"/><stop offset="0.210" stop-color="#882779"/><stop offset="0.299" stop-color="#7c267a"/><stop offset="0.408" stop-color="#8a2878"/><stop offset="0.490" stop-color="#a72c73"/><stop offset="0.535" stop-color="#922977"/><stop offset="0.605" stop-color="#c3306a"/><stop offset="0.669" stop-color="#cf3265"/><stop offset="0.758" stop-color="#d63363"/><stop offset="0.860" stop-color="#e4375d"/><stop offset="1.000" stop-color="#e7385c"/></linearGradient><linearGradient id="gc57" gradientUnits="userSpaceOnUse" x1="272.0" x2="429.0" y1="0" y2="0"><stop offset="0.000" stop-color="#231269"/><stop offset="0.032" stop-color="#29146d"/><stop offset="0.089" stop-color="#73247c"/><stop offset="0.134" stop-color="#922977"/><stop offset="0.217" stop-color="#862779"/><stop offset="0.280" stop-color="#69237d"/><stop offset="0.338" stop-color="#922977"/><stop offset="0.439" stop-color="#972977"/><stop offset="0.484" stop-color="#bc2f6c"/><stop offset="0.535" stop-color="#922977"/><stop offset="0.605" stop-color="#c3306a"/><stop offset="0.669" stop-color="#cf3265"/><stop offset="0.745" stop-color="#d33364"/><stop offset="0.809" stop-color="#e7385c"/><stop offset="1.000" stop-color="#e7385c"/></linearGradient><linearGradient id="gc58" gradientUnits="userSpaceOnUse" x1="272.0" x2="429.0" y1="0" y2="0"><stop offset="0.000" stop-color="#231269"/><stop offset="0.032" stop-color="#29146d"/><stop offset="0.083" stop-color="#77257b"/><stop offset="0.134" stop-color="#982a76"/><stop offset="0.217" stop-color="#8c2878"/><stop offset="0.287" stop-color="#7e267a"/><stop offset="0.338" stop-color="#a22b75"/><stop offset="0.395" stop-color="#9a2a76"/><stop offset="0.433" stop-color="#81267a"/><stop offset="0.484" stop-color="#ab2c72"/><stop offset="0.535" stop-color="#922977"/><stop offset="0.605" stop-color="#c3306a"/><stop offset="0.713" stop-color="#dc3461"/><stop offset="0.898" stop-color="#e7385c"/><stop offset="1.000" stop-color="#e7385c"/></linearGradient><linearGradient id="gc59" gradientUnits="userSpaceOnUse" x1="272.0" x2="429.0" y1="0" y2="0"><stop offset="0.000" stop-color="#231269"/><stop offset="0.032" stop-color="#2a146d"/><stop offset="0.070" stop-color="#6b237d"/><stop offset="0.076" stop-color="#7d267a"/><stop offset="0.134" stop-color="#9f2b75"/><stop offset="0.217" stop-color="#932977"/><stop offset="0.287" stop-color="#8f2878"/><stop offset="0.338" stop-color="#b32e6f"/><stop offset="0.382" stop-color="#b32e6f"/><stop offset="0.433" stop-color="#71247c"/><stop offset="0.490" stop-color="#992a76"/><stop offset="0.541" stop-color="#972977"/><stop offset="0.605" stop-color="#c3306a"/><stop offset="0.701" stop-color="#e3365d"/><stop offset="1.000" stop-color="#e7385c"/></linearGradient><linearGradient id="gc60" gradientUnits="userSpaceOnUse" x1="272.0" x2="429.0" y1="0" y2="0"><stop offset="0.000" stop-color="#321673"/><stop offset="0.032" stop-color="#3a1874"/><stop offset="0.096" stop-color="#872779"/><stop offset="0.127" stop-color="#a72c73"/><stop offset="0.229" stop-color="#922977"/><stop offset="0.293" stop-color="#a22b75"/><stop offset="0.344" stop-color="#bc2f6c"/><stop offset="0.382" stop-color="#bc2f6c"/><stop offset="0.433" stop-color="#79257b"/><stop offset="0.490" stop-color="#992a76"/><stop offset="0.541" stop-color="#972977"/><stop offset="0.605" stop-color="#c3306a"/><stop offset="0.701" stop-color="#e3365d"/><stop offset="1.000" stop-color="#e8385b"/></linearGradient><linearGradient id="gc61" gradientUnits="userSpaceOnUse" x1="272.0" x2="429.0" y1="0" y2="0"><stop offset="0.000" stop-color="#69237d"/><stop offset="0.076" stop-color="#5f217b"/><stop offset="0.127" stop-color="#b22d70"/><stop offset="0.178" stop-color="#80267a"/><stop offset="0.344" stop-color="#bc2f6c"/><stop offset="0.389" stop-color="#b82e6e"/><stop offset="0.439" stop-color="#9c2a76"/><stop offset="0.490" stop-color="#a72c73"/><stop offset="0.535" stop-color="#922977"/><stop offset="0.605" stop-color="#c3306a"/><stop offset="0.713" stop-color="#dc3461"/><stop offset="0.968" stop-color="#eb3959"/><stop offset="1.000" stop-color="#eb3959"/></linearGradient><linearGradient id="gc62" gradientUnits="userSpaceOnUse" x1="272.0" x2="429.0" y1="0" y2="0"><stop offset="0.000" stop-color="#bc2f6c"/><stop offset="0.025" stop-color="#bc2f6c"/><stop offset="0.064" stop-color="#62217c"/><stop offset="0.076" stop-color="#4e1c78"/><stop offset="0.108" stop-color="#8d2878"/><stop offset="0.127" stop-color="#bc2f6c"/><stop offset="0.178" stop-color="#69237d"/><stop offset="0.287" stop-color="#bc2f6c"/><stop offset="0.490" stop-color="#b72e6e"/><stop offset="0.535" stop-color="#922977"/><stop offset="0.605" stop-color="#c3306a"/><stop offset="0.669" stop-color="#cf3265"/><stop offset="0.745" stop-color="#d33364"/><stop offset="0.809" stop-color="#e7385c"/><stop offset="1.000" stop-color="#ee3a58"/></linearGradient><linearGradient id="gc63" gradientUnits="userSpaceOnUse" x1="272.0" x2="429.0" y1="0" y2="0"><stop offset="0.000" stop-color="#c93168"/><stop offset="0.025" stop-color="#c93168"/><stop offset="0.064" stop-color="#65227c"/><stop offset="0.076" stop-color="#4e1c78"/><stop offset="0.108" stop-color="#972977"/><stop offset="0.127" stop-color="#c93168"/><stop offset="0.178" stop-color="#79257b"/><stop offset="0.280" stop-color="#c93168"/><stop offset="0.382" stop-color="#bc2f6c"/><stop offset="0.490" stop-color="#b72e6e"/><stop offset="0.535" stop-color="#922977"/><stop offset="0.605" stop-color="#c3306a"/><stop offset="0.669" stop-color="#cf3265"/><stop offset="0.834" stop-color="#e7385c"/><stop offset="1.000" stop-color="#ee3a58"/></linearGradient><linearGradient id="gc64" gradientUnits="userSpaceOnUse" x1="272.0" x2="429.0" y1="0" y2="0"><stop offset="0.000" stop-color="#d63363"/><stop offset="0.025" stop-color="#d63363"/><stop offset="0.064" stop-color="#68237d"/><stop offset="0.076" stop-color="#4e1c78"/><stop offset="0.102" stop-color="#8e2878"/><stop offset="0.127" stop-color="#d63363"/><stop offset="0.178" stop-color="#8a2878"/><stop offset="0.280" stop-color="#d63363"/><stop offset="0.344" stop-color="#bc2f6c"/><stop offset="0.490" stop-color="#b72e6e"/><stop offset="0.535" stop-color="#922977"/><stop offset="0.605" stop-color="#c3306a"/><stop offset="0.669" stop-color="#cf3265"/><stop offset="0.790" stop-color="#e7385c"/><stop offset="1.000" stop-color="#ee3a58"/></linearGradient><linearGradient id="gc65" gradientUnits="userSpaceOnUse" x1="272.0" x2="429.0" y1="0" y2="0"><stop offset="0.000" stop-color="#d63363"/><stop offset="0.025" stop-color="#d63363"/><stop offset="0.064" stop-color="#64227c"/><stop offset="0.076" stop-color="#481b77"/><stop offset="0.102" stop-color="#8e2878"/><stop offset="0.127" stop-color="#dc3461"/><stop offset="0.178" stop-color="#9a2a76"/><stop offset="0.280" stop-color="#d63363"/><stop offset="0.344" stop-color="#bc2f6c"/><stop offset="0.484" stop-color="#bc2f6c"/><stop offset="0.535" stop-color="#922977"/><stop offset="0.605" stop-color="#c3306a"/><stop offset="0.669" stop-color="#cf3265"/><stop offset="0.790" stop-color="#e7385c"/><stop offset="1.000" stop-color="#ee3a58"/></linearGradient><linearGradient id="gc66" gradientUnits="userSpaceOnUse" x1="272.0" x2="429.0" y1="0" y2="0"><stop offset="0.000" stop-color="#c93168"/><stop offset="0.025" stop-color="#c93168"/><stop offset="0.057" stop-color="#66227c"/><stop offset="0.076" stop-color="#3d1975"/><stop offset="0.102" stop-color="#852779"/><stop offset="0.127" stop-color="#dc3461"/><stop offset="0.178" stop-color="#ab2c72"/><stop offset="0.293" stop-color="#c63069"/><stop offset="0.382" stop-color="#bc2f6c"/><stop offset="0.439" stop-color="#cd3266"/><stop offset="0.503" stop-color="#ac2d72"/><stop offset="0.535" stop-color="#922977"/><stop offset="0.605" stop-color="#c3306a"/><stop offset="0.669" stop-color="#cf3265"/><stop offset="0.834" stop-color="#e7385c"/><stop offset="1.000" stop-color="#ee3a58"/></linearGradient><linearGradient id="gc67" gradientUnits="userSpaceOnUse" x1="272.0" x2="429.0" y1="0" y2="0"><stop offset="0.000" stop-color="#bc2f6c"/><stop offset="0.025" stop-color="#bc2f6c"/><stop offset="0.057" stop-color="#5b207a"/><stop offset="0.076" stop-color="#321673"/><stop offset="0.102" stop-color="#7d267a"/><stop offset="0.127" stop-color="#dc3461"/><stop offset="0.191" stop-color="#bc2f6c"/><stop offset="0.389" stop-color="#c0306b"/><stop offset="0.433" stop-color="#dc3461"/><stop offset="0.535" stop-color="#922977"/><stop offset="0.605" stop-color="#c3306a"/><stop offset="0.669" stop-color="#cf3265"/><stop offset="0.745" stop-color="#d33364"/><stop offset="0.809" stop-color="#e7385c"/><stop offset="0.879" stop-color="#f04253"/><stop offset="0.917" stop-color="#f04153"/><stop offset="1.000" stop-color="#ee3a58"/></linearGradient><linearGradient id="gc68" gradientUnits="userSpaceOnUse" x1="272.0" x2="429.0" y1="0" y2="0"><stop offset="0.000" stop-color="#bc2f6c"/><stop offset="0.025" stop-color="#bc2f6c"/><stop offset="0.051" stop-color="#64227c"/><stop offset="0.076" stop-color="#2c146f"/><stop offset="0.102" stop-color="#6d247c"/><stop offset="0.127" stop-color="#cf3265"/><stop offset="0.178" stop-color="#9a2a76"/><stop offset="0.255" stop-color="#ab2c72"/><stop offset="0.344" stop-color="#b82e6e"/><stop offset="0.389" stop-color="#b02d70"/><stop offset="0.439" stop-color="#cd3266"/><stop offset="0.503" stop-color="#ac2c72"/><stop offset="0.535" stop-color="#922977"/><stop offset="0.643" stop-color="#cf3265"/><stop offset="0.758" stop-color="#d63363"/><stop offset="0.917" stop-color="#ef3c56"/><stop offset="1.000" stop-color="#ee3a58"/></linearGradient><linearGradient id="gc69" gradientUnits="userSpaceOnUse" x1="272.0" x2="429.0" y1="0" y2="0"><stop offset="0.000" stop-color="#bc2f6c"/><stop offset="0.025" stop-color="#bc2f6c"/><stop offset="0.051" stop-color="#5e207b"/><stop offset="0.076" stop-color="#26136b"/><stop offset="0.102" stop-color="#61217c"/><stop offset="0.127" stop-color="#c2306a"/><stop offset="0.178" stop-color="#79257b"/><stop offset="0.236" stop-color="#9a2a76"/><stop offset="0.293" stop-color="#a22b75"/><stop offset="0.331" stop-color="#bc2f6c"/><stop offset="0.382" stop-color="#9a2a76"/><stop offset="0.439" stop-color="#c2306a"/><stop offset="0.490" stop-color="#b72e6e"/><stop offset="0.541" stop-color="#932977"/><stop offset="0.592" stop-color="#a12b75"/><stop offset="0.643" stop-color="#cf3265"/><stop offset="0.796" stop-color="#d93462"/><stop offset="0.898" stop-color="#eb395a"/><stop offset="1.000" stop-color="#ee3a58"/></linearGradient><linearGradient id="gc70" gradientUnits="userSpaceOnUse" x1="272.0" x2="429.0" y1="0" y2="0"><stop offset="0.000" stop-color="#b32e6f"/><stop offset="0.025" stop-color="#b32e6f"/><stop offset="0.051" stop-color="#561e7a"/><stop offset="0.070" stop-color="#29146d"/><stop offset="0.076" stop-color="#201167"/><stop offset="0.096" stop-color="#451a76"/><stop offset="0.115" stop-color="#7f267a"/><stop offset="0.127" stop-color="#b32e6f"/><stop offset="0.178" stop-color="#64227c"/><stop offset="0.236" stop-color="#892779"/><stop offset="0.280" stop-color="#81267a"/><stop offset="0.331" stop-color="#b32e6f"/><stop offset="0.382" stop-color="#8a2878"/><stop offset="0.446" stop-color="#b62e6e"/><stop offset="0.490" stop-color="#b62e6e"/><stop offset="0.541" stop-color="#8b2878"/><stop offset="0.592" stop-color="#992a76"/><stop offset="0.643" stop-color="#ca3167"/><stop offset="0.796" stop-color="#d33364"/><stop offset="0.860" stop-color="#e7385c"/><stop offset="1.000" stop-color="#ee3a58"/></linearGradient><linearGradient id="gc71" gradientUnits="userSpaceOnUse" x1="272.0" x2="429.0" y1="0" y2="0"><stop offset="0.000" stop-color="#a22b75"/><stop offset="0.025" stop-color="#a22b75"/><stop offset="0.045" stop-color="#5c207b"/><stop offset="0.070" stop-color="#231269"/><stop offset="0.076" stop-color="#1a1063"/><stop offset="0.102" stop-color="#4b1c78"/><stop offset="0.121" stop-color="#892779"/><stop offset="0.127" stop-color="#a22b75"/><stop offset="0.178" stop-color="#581f7a"/><stop offset="0.236" stop-color="#76257b"/><stop offset="0.280" stop-color="#63227c"/><stop offset="0.331" stop-color="#a22b75"/><stop offset="0.382" stop-color="#79257b"/><stop offset="0.465" stop-color="#b22e6f"/><stop offset="0.484" stop-color="#bc2f6c"/><stop offset="0.535" stop-color="#79257b"/><stop offset="0.618" stop-color="#ac2c72"/><stop offset="0.688" stop-color="#cf3265"/><stop offset="0.796" stop-color="#d33364"/><stop offset="0.860" stop-color="#e7385c"/><stop offset="1.000" stop-color="#ee3a58"/></linearGradient><linearGradient id="gc72" gradientUnits="userSpaceOnUse" x1="272.0" x2="429.0" y1="0" y2="0"><stop offset="0.000" stop-color="#922977"/><stop offset="0.025" stop-color="#922977"/><stop offset="0.045" stop-color="#511d79"/><stop offset="0.064" stop-color="#27136c"/><stop offset="0.076" stop-color="#140e5f"/><stop offset="0.102" stop-color="#401976"/><stop offset="0.121" stop-color="#78257b"/><stop offset="0.127" stop-color="#922977"/><stop offset="0.172" stop-color="#541e79"/><stop offset="0.191" stop-color="#541e79"/><stop offset="0.236" stop-color="#66227c"/><stop offset="0.280" stop-color="#4e1c78"/><stop offset="0.325" stop-color="#882779"/><stop offset="0.331" stop-color="#922977"/><stop offset="0.382" stop-color="#69237d"/><stop offset="0.484" stop-color="#bc2f6c"/><stop offset="0.535" stop-color="#69237d"/><stop offset="0.611" stop-color="#9e2a76"/><stop offset="0.694" stop-color="#cf3265"/><stop offset="0.796" stop-color="#d33364"/><stop offset="0.860" stop-color="#e7385c"/><stop offset="1.000" stop-color="#ee3a58"/></linearGradient><linearGradient id="gc73" gradientUnits="userSpaceOnUse" x1="272.0" x2="429.0" y1="0" y2="0"><stop offset="0.000" stop-color="#a22b75"/><stop offset="0.025" stop-color="#a22b75"/><stop offset="0.045" stop-color="#551e79"/><stop offset="0.064" stop-color="#26136b"/><stop offset="0.076" stop-color="#130d56"/><stop offset="0.102" stop-color="#3c1875"/><stop offset="0.121" stop-color="#77257b"/><stop offset="0.127" stop-color="#922977"/><stop offset="0.178" stop-color="#581f7a"/><stop offset="0.248" stop-color="#67237d"/><stop offset="0.287" stop-color="#68237d"/><stop offset="0.331" stop-color="#922977"/><stop offset="0.389" stop-color="#7c267a"/><stop offset="0.465" stop-color="#ac2c72"/><stop offset="0.484" stop-color="#bc2f6c"/><stop offset="0.535" stop-color="#69237d"/><stop offset="0.650" stop-color="#c1306a"/><stop offset="0.720" stop-color="#cf3265"/><stop offset="0.885" stop-color="#e7385c"/><stop offset="1.000" stop-color="#ee3a58"/></linearGradient><linearGradient id="gc74" gradientUnits="userSpaceOnUse" x1="272.0" x2="429.0" y1="0" y2="0"><stop offset="0.000" stop-color="#b32e6f"/><stop offset="0.025" stop-color="#b32e6f"/><stop offset="0.045" stop-color="#5a1f7a"/><stop offset="0.064" stop-color="#24126a"/><stop offset="0.076" stop-color="#110c4d"/><stop offset="0.089" stop-color="#211268"/><stop offset="0.108" stop-color="#4c1c78"/><stop offset="0.127" stop-color="#922977"/><stop offset="0.185" stop-color="#64227c"/><stop offset="0.255" stop-color="#75257b"/><stop offset="0.344" stop-color="#902878"/><stop offset="0.427" stop-color="#912977"/><stop offset="0.484" stop-color="#bc2f6c"/><stop offset="0.535" stop-color="#69237d"/><stop offset="0.611" stop-color="#af2d70"/><stop offset="0.643" stop-color="#ca3167"/><stop offset="0.752" stop-color="#d63363"/><stop offset="0.847" stop-color="#e7385c"/><stop offset="1.000" stop-color="#ee3a58"/></linearGradient><linearGradient id="gc75" gradientUnits="userSpaceOnUse" x1="272.0" x2="429.0" y1="0" y2="0"><stop offset="0.000" stop-color="#c2306a"/><stop offset="0.025" stop-color="#c2306a"/><stop offset="0.045" stop-color="#63227c"/><stop offset="0.064" stop-color="#28136c"/><stop offset="0.076" stop-color="#120d54"/><stop offset="0.096" stop-color="#2f1571"/><stop offset="0.121" stop-color="#7e267a"/><stop offset="0.127" stop-color="#9a2a76"/><stop offset="0.185" stop-color="#71247c"/><stop offset="0.236" stop-color="#76257b"/><stop offset="0.287" stop-color="#9a2a76"/><stop offset="0.439" stop-color="#9e2a76"/><stop offset="0.484" stop-color="#bc2f6c"/><stop offset="0.535" stop-color="#71247c"/><stop offset="0.643" stop-color="#d03265"/><stop offset="0.758" stop-color="#de3560"/><stop offset="0.962" stop-color="#ee3a58"/><stop offset="1.000" stop-color="#ee3a58"/></linearGradient><linearGradient id="gc76" gradientUnits="userSpaceOnUse" x1="272.0" x2="429.0" y1="0" y2="0"><stop offset="0.000" stop-color="#cf3265"/><stop offset="0.025" stop-color="#cf3265"/><stop offset="0.045" stop-color="#74247c"/><stop offset="0.064" stop-color="#311672"/><stop offset="0.076" stop-color="#190f63"/><stop offset="0.102" stop-color="#4d1c78"/><stop offset="0.121" stop-color="#8f2878"/><stop offset="0.127" stop-color="#ab2c72"/><stop offset="0.185" stop-color="#81267a"/><stop offset="0.236" stop-color="#872779"/><stop offset="0.287" stop-color="#ab2c72"/><stop offset="0.452" stop-color="#b12d70"/><stop offset="0.484" stop-color="#bc2f6c"/><stop offset="0.535" stop-color="#81267a"/><stop offset="0.643" stop-color="#d23265"/><stop offset="0.726" stop-color="#e0355f"/><stop offset="0.962" stop-color="#ee3a58"/><stop offset="1.000" stop-color="#ee3a58"/></linearGradient><linearGradient id="gc77" gradientUnits="userSpaceOnUse" x1="272.0" x2="429.0" y1="0" y2="0"><stop offset="0.000" stop-color="#dc3461"/><stop offset="0.025" stop-color="#dc3461"/><stop offset="0.051" stop-color="#69237d"/><stop offset="0.076" stop-color="#231269"/><stop offset="0.102" stop-color="#5b207a"/><stop offset="0.127" stop-color="#bc2f6c"/><stop offset="0.185" stop-color="#922977"/><stop offset="0.236" stop-color="#972977"/><stop offset="0.287" stop-color="#bc2f6c"/><stop offset="0.490" stop-color="#b72e6e"/><stop offset="0.535" stop-color="#922977"/><stop offset="0.605" stop-color="#c3306a"/><stop offset="0.701" stop-color="#e7385c"/><stop offset="0.860" stop-color="#ee3a58"/><stop offset="0.898" stop-color="#f24650"/><stop offset="0.994" stop-color="#ee3a58"/><stop offset="1.000" stop-color="#ee3a58"/></linearGradient><linearGradient id="gc78" gradientUnits="userSpaceOnUse" x1="272.0" x2="429.0" y1="0" y2="0"><stop offset="0.000" stop-color="#dc3461"/><stop offset="0.025" stop-color="#dc3461"/><stop offset="0.051" stop-color="#69237d"/><stop offset="0.076" stop-color="#231269"/><stop offset="0.102" stop-color="#5b207a"/><stop offset="0.127" stop-color="#bc2f6c"/><stop offset="0.185" stop-color="#922977"/><stop offset="0.236" stop-color="#972977"/><stop offset="0.287" stop-color="#bc2f6c"/><stop offset="0.490" stop-color="#b72e6e"/><stop offset="0.535" stop-color="#922977"/><stop offset="0.605" stop-color="#c3306a"/><stop offset="0.701" stop-color="#e7385c"/><stop offset="0.860" stop-color="#ee3a58"/><stop offset="0.898" stop-color="#f24650"/><stop offset="0.994" stop-color="#ee3a58"/><stop offset="1.000" stop-color="#ee3a58"/></linearGradient><linearGradient id="gc79" gradientUnits="userSpaceOnUse" x1="272.0" x2="429.0" y1="0" y2="0"><stop offset="0.000" stop-color="#dc3461"/><stop offset="0.025" stop-color="#dc3461"/><stop offset="0.051" stop-color="#69237d"/><stop offset="0.076" stop-color="#231269"/><stop offset="0.102" stop-color="#5b207a"/><stop offset="0.127" stop-color="#bc2f6c"/><stop offset="0.185" stop-color="#922977"/><stop offset="0.236" stop-color="#972977"/><stop offset="0.287" stop-color="#bc2f6c"/><stop offset="0.490" stop-color="#b72e6e"/><stop offset="0.535" stop-color="#922977"/><stop offset="0.605" stop-color="#c3306a"/><stop offset="0.701" stop-color="#e7385c"/><stop offset="0.860" stop-color="#ee3a58"/><stop offset="0.898" stop-color="#f24650"/><stop offset="0.994" stop-color="#ee3a58"/><stop offset="1.000" stop-color="#ee3a58"/></linearGradient><linearGradient id="gc80" gradientUnits="userSpaceOnUse" x1="272.0" x2="429.0" y1="0" y2="0"><stop offset="0.000" stop-color="#dc3461"/><stop offset="0.025" stop-color="#dc3461"/><stop offset="0.051" stop-color="#69237d"/><stop offset="0.076" stop-color="#231269"/><stop offset="0.102" stop-color="#5b207a"/><stop offset="0.127" stop-color="#bc2f6c"/><stop offset="0.185" stop-color="#922977"/><stop offset="0.236" stop-color="#972977"/><stop offset="0.287" stop-color="#bc2f6c"/><stop offset="0.490" stop-color="#b72e6e"/><stop offset="0.535" stop-color="#922977"/><stop offset="0.605" stop-color="#c3306a"/><stop offset="0.701" stop-color="#e7385c"/><stop offset="0.860" stop-color="#ee3a58"/><stop offset="0.898" stop-color="#f24650"/><stop offset="0.994" stop-color="#ee3a58"/><stop offset="1.000" stop-color="#ee3a58"/></linearGradient></defs>
<g clip-path="url(#clipC)"><g filter="url(#blurC)"><rect x="270.0" y="13.10" width="161.0" height="2.60" fill="url(#gc0)"/><rect x="270.0" y="15.10" width="161.0" height="2.60" fill="url(#gc1)"/><rect x="270.0" y="17.10" width="161.0" height="2.60" fill="url(#gc2)"/><rect x="270.0" y="19.10" width="161.0" height="2.60" fill="url(#gc3)"/><rect x="270.0" y="21.10" width="161.0" height="2.60" fill="url(#gc4)"/><rect x="270.0" y="23.10" width="161.0" height="2.60" fill="url(#gc5)"/><rect x="270.0" y="25.10" width="161.0" height="2.60" fill="url(#gc6)"/><rect x="270.0" y="27.10" width="161.0" height="2.60" fill="url(#gc7)"/><rect x="270.0" y="29.10" width="161.0" height="2.60" fill="url(#gc8)"/><rect x="270.0" y="31.10" width="161.0" height="2.60" fill="url(#gc9)"/><rect x="270.0" y="33.10" width="161.0" height="2.60" fill="url(#gc10)"/><rect x="270.0" y="35.10" width="161.0" height="2.60" fill="url(#gc11)"/><rect x="270.0" y="37.10" width="161.0" height="2.60" fill="url(#gc12)"/><rect x="270.0" y="39.10" width="161.0" height="2.60" fill="url(#gc13)"/><rect x="270.0" y="41.10" width="161.0" height="2.60" fill="url(#gc14)"/><rect x="270.0" y="43.10" width="161.0" height="2.60" fill="url(#gc15)"/><rect x="270.0" y="45.10" width="161.0" height="2.60" fill="url(#gc16)"/><rect x="270.0" y="47.10" width="161.0" height="2.60" fill="url(#gc17)"/><rect x="270.0" y="49.10" width="161.0" height="2.60" fill="url(#gc18)"/><rect x="270.0" y="51.10" width="161.0" height="2.60" fill="url(#gc19)"/><rect x="270.0" y="53.10" width="161.0" height="2.60" fill="url(#gc20)"/><rect x="270.0" y="55.10" width="161.0" height="2.60" fill="url(#gc21)"/><rect x="270.0" y="57.10" width="161.0" height="2.60" fill="url(#gc22)"/><rect x="270.0" y="59.10" width="161.0" height="2.60" fill="url(#gc23)"/><rect x="270.0" y="61.10" width="161.0" height="2.60" fill="url(#gc24)"/><rect x="270.0" y="63.10" width="161.0" height="2.60" fill="url(#gc25)"/><rect x="270.0" y="65.10" width="161.0" height="2.60" fill="url(#gc26)"/><rect x="270.0" y="67.10" width="161.0" height="2.60" fill="url(#gc27)"/><rect x="270.0" y="69.10" width="161.0" height="2.60" fill="url(#gc28)"/><rect x="270.0" y="71.10" width="161.0" height="2.60" fill="url(#gc29)"/><rect x="270.0" y="73.10" width="161.0" height="2.60" fill="url(#gc30)"/><rect x="270.0" y="75.10" width="161.0" height="2.60" fill="url(#gc31)"/><rect x="270.0" y="77.10" width="161.0" height="2.60" fill="url(#gc32)"/><rect x="270.0" y="79.10" width="161.0" height="2.60" fill="url(#gc33)"/><rect x="270.0" y="81.10" width="161.0" height="2.60" fill="url(#gc34)"/><rect x="270.0" y="83.10" width="161.0" height="2.60" fill="url(#gc35)"/><rect x="270.0" y="85.10" width="161.0" height="2.60" fill="url(#gc36)"/><rect x="270.0" y="87.10" width="161.0" height="2.60" fill="url(#gc37)"/><rect x="270.0" y="89.10" width="161.0" height="2.60" fill="url(#gc38)"/><rect x="270.0" y="91.10" width="161.0" height="2.60" fill="url(#gc39)"/><rect x="270.0" y="93.10" width="161.0" height="2.60" fill="url(#gc40)"/><rect x="270.0" y="95.10" width="161.0" height="2.60" fill="url(#gc41)"/><rect x="270.0" y="97.10" width="161.0" height="2.60" fill="url(#gc42)"/><rect x="270.0" y="99.10" width="161.0" height="2.60" fill="url(#gc43)"/><rect x="270.0" y="101.10" width="161.0" height="2.60" fill="url(#gc44)"/><rect x="270.0" y="103.10" width="161.0" height="2.60" fill="url(#gc45)"/><rect x="270.0" y="105.10" width="161.0" height="2.60" fill="url(#gc46)"/><rect x="270.0" y="107.10" width="161.0" height="2.60" fill="url(#gc47)"/><rect x="270.0" y="109.10" width="161.0" height="2.60" fill="url(#gc48)"/><rect x="270.0" y="111.10" width="161.0" height="2.60" fill="url(#gc49)"/><rect x="270.0" y="113.10" width="161.0" height="2.60" fill="url(#gc50)"/><rect x="270.0" y="115.10" width="161.0" height="2.60" fill="url(#gc51)"/><rect x="270.0" y="117.10" width="161.0" height="2.60" fill="url(#gc52)"/><rect x="270.0" y="119.10" width="161.0" height="2.60" fill="url(#gc53)"/><rect x="270.0" y="121.10" width="161.0" height="2.60" fill="url(#gc54)"/><rect x="270.0" y="123.10" width="161.0" height="2.60" fill="url(#gc55)"/><rect x="270.0" y="125.10" width="161.0" height="2.60" fill="url(#gc56)"/><rect x="270.0" y="127.10" width="161.0" height="2.60" fill="url(#gc57)"/><rect x="270.0" y="129.10" width="161.0" height="2.60" fill="url(#gc58)"/><rect x="270.0" y="131.10" width="161.0" height="2.60" fill="url(#gc59)"/><rect x="270.0" y="133.10" width="161.0" height="2.60" fill="url(#gc60)"/><rect x="270.0" y="135.10" width="161.0" height="2.60" fill="url(#gc61)"/><rect x="270.0" y="137.10" width="161.0" height="2.60" fill="url(#gc62)"/><rect x="270.0" y="139.10" width="161.0" height="2.60" fill="url(#gc63)"/><rect x="270.0" y="141.10" width="161.0" height="2.60" fill="url(#gc64)"/><rect x="270.0" y="143.10" width="161.0" height="2.60" fill="url(#gc65)"/><rect x="270.0" y="145.10" width="161.0" height="2.60" fill="url(#gc66)"/><rect x="270.0" y="147.10" width="161.0" height="2.60" fill="url(#gc67)"/><rect x="270.0" y="149.10" width="161.0" height="2.60" fill="url(#gc68)"/><rect x="270.0" y="151.10" width="161.0" height="2.60" fill="url(#gc69)"/><rect x="270.0" y="153.10" width="161.0" height="2.60" fill="url(#gc70)"/><rect x="270.0" y="155.10" width="161.0" height="2.60" fill="url(#gc71)"/><rect x="270.0" y="157.10" width="161.0" height="2.60" fill="url(#gc72)"/><rect x="270.0" y="159.10" width="161.0" height="2.60" fill="url(#gc73)"/><rect x="270.0" y="161.10" width="161.0" height="2.60" fill="url(#gc74)"/><rect x="270.0" y="163.10" width="161.0" height="2.60" fill="url(#gc75)"/><rect x="270.0" y="165.10" width="161.0" height="2.60" fill="url(#gc76)"/><rect x="270.0" y="167.10" width="161.0" height="2.60" fill="url(#gc77)"/><rect x="270.0" y="169.10" width="161.0" height="2.60" fill="url(#gc78)"/><rect x="270.0" y="171.10" width="161.0" height="2.60" fill="url(#gc79)"/><rect x="270.0" y="173.10" width="161.0" height="2.60" fill="url(#gc80)"/></g></g>
<line x1="299.4" y1="15.6" x2="299.4" y2="172.0" stroke="rgba(255,235,240,0.85)" stroke-width="0.8"/>
<polyline points="343.5,33.0 344.3,33.7 345.5,34.7 346.8,35.9 348.3,37.2 349.7,38.4 351.0,39.5 352.2,40.5 353.4,41.4 354.5,42.4 355.7,43.3 356.8,44.2 358.0,45.0 359.2,45.8 360.3,46.6 361.5,47.4 362.7,48.1 363.8,48.8 365.0,49.5 366.2,50.1 367.3,50.7 368.4,51.3 369.6,51.9 370.8,52.4 372.0,53.0 373.3,53.6 374.6,54.2 375.9,54.8 377.3,55.4 378.7,55.9 380.0,56.5 381.3,57.1 382.7,57.6 384.0,58.1 385.3,58.7 386.7,59.2 388.0,59.7 389.3,60.2 390.7,60.7 392.0,61.2 393.3,61.7 394.7,62.2 396.0,62.6 397.3,63.0 398.7,63.3 400.0,63.6 401.3,63.8 402.7,64.1 404.0,64.3 405.4,64.5 406.7,64.8 408.1,65.0 409.5,65.2 410.8,65.4 412.0,65.6 413.2,65.7 414.4,65.9 415.5,66.0 416.5,66.1 417.4,66.1 418.0,66.2" fill="none" stroke="rgba(255,255,255,0.92)" stroke-width="1.1" stroke-linejoin="round" stroke-linecap="round" stroke-dasharray="3.6,3.6" stroke-linecap="butt"/>
<polyline points="307.0,33.0 307.3,33.4 307.8,34.0 308.3,34.7 308.9,35.4 309.5,36.2 310.0,37.0 310.5,37.8 311.0,38.6 311.4,39.4 311.9,40.2 312.4,41.1 313.0,42.0 313.6,42.9 314.2,43.9 314.9,44.9 315.6,46.0 316.3,47.0 317.0,48.0 317.8,49.0 318.5,50.0 319.3,51.0 320.2,52.0 321.1,53.0 322.0,54.0 323.0,55.0 324.1,56.1 325.2,57.2 326.3,58.2 327.4,59.3 328.5,60.3 329.6,61.3 330.7,62.3 331.8,63.2 332.8,64.2 333.9,65.1 335.0,66.0 336.1,66.9 337.1,67.7 338.2,68.5 339.3,69.3 340.4,70.0 341.5,70.8 342.6,71.5 343.8,72.2 344.9,72.9 346.1,73.6 347.3,74.3 348.5,75.0 349.8,75.7 351.1,76.5 352.5,77.2 353.8,77.9 355.2,78.6 356.5,79.3 357.8,79.9 359.0,80.5 360.3,81.0 361.5,81.6 362.8,82.1 364.0,82.6 365.2,83.1 366.5,83.6 367.7,84.1 369.0,84.6 370.2,85.1 371.5,85.5 372.8,85.9 374.1,86.3 375.5,86.7 376.9,87.0 378.2,87.4 379.5,87.7 380.8,88.0 382.0,88.3 383.2,88.6 384.4,88.9 385.7,89.2 387.0,89.5 388.4,89.8 389.8,90.1 391.2,90.4 392.6,90.7 394.1,90.9 395.5,91.2 396.9,91.4 398.4,91.7 399.8,91.9 401.2,92.1 402.6,92.3 404.0,92.5 405.4,92.6 406.7,92.8 408.0,92.9 409.3,92.9 410.6,93.0 412.0,93.1 413.5,93.2 415.0,93.2 416.5,93.3 418.0,93.3 419.5,93.4 421.0,93.4 422.5,93.4 424.0,93.4 425.6,93.4 427.0,93.4 428.1,93.4 429.0,93.4" fill="none" stroke="rgba(255,255,255,0.92)" stroke-width="1.1" stroke-linejoin="round" stroke-linecap="round" stroke-dasharray="3.6,3.6" stroke-linecap="butt"/>
<rect x="422.5" y="41.8" width="6.5" height="1.8" fill="rgba(255,225,235,0.8)"/>
<path d="M417.2,42.7 L423.2,40.1 L422,42.7 L423.2,45.3 Z" fill="#fff"/>
<rect x="422.5" y="53.6" width="6.5" height="1.8" fill="rgba(255,225,235,0.8)"/>
<path d="M417.2,54.5 L423.2,51.9 L422,54.5 L423.2,57.1 Z" fill="#fff"/>
<rect x="422.5" y="64.4" width="6.5" height="1.8" fill="rgba(255,225,235,0.8)"/>
<path d="M417.2,65.3 L423.2,62.7 L422,65.3 L423.2,67.9 Z" fill="#fff"/>
<rect x="422.5" y="73.5" width="6.5" height="1.8" fill="rgba(255,225,235,0.8)"/>
<path d="M417.2,74.4 L423.2,71.8 L422,74.4 L423.2,77.0 Z" fill="#fff"/>
<line x1="299.5" y1="104.9" x2="323.5" y2="104.9" stroke="rgba(255,255,255,0.9)" stroke-width="1.0" stroke-dasharray="3.4,2.4"/>
<line x1="364.0" y1="104.9" x2="429.0" y2="104.9" stroke="rgba(255,255,255,0.9)" stroke-width="1.0" stroke-dasharray="3.4,2.4"/>
<text x="324.3" y="108.8" font-size="11.5" fill="#fff" stroke="#fff">ν</text>
<text x="331.5" y="112.0" font-size="5.8" fill="#fff" style="font-family:&quot;Liberation Serif&quot;,serif">Eu</text>
<text x="339.4" y="108.8" font-size="11.6" fill="#fff" stroke="#fff">(TO)</text>
<text x="285.8" y="135.6" font-size="9" text-anchor="middle" fill="#fff" stroke="#fff">Si</text>
<text x="313.3" y="135.6" font-size="9" fill="#fff" stroke="#fff">PbI<tspan font-size="5.6" dy="1.2">2</tspan></text>
<path d="M366.8,124.9 L398.9,120.1 L421.7,133.5 L413,153.2 L381,157.4 L358.2,143.1 Z M358.2,143.1 L358.2,147.4 L381,161.9 L413,157.5 L421.7,137.7 L421.7,133.5 M381,157.4 L381,161.9 M413,153.2 L413,157.5" fill="none" stroke="rgba(255,255,255,0.92)" stroke-width="0.75" stroke-linejoin="round"/>
<line x1="360.1" y1="160.7" x2="394.4" y2="135.6" stroke="rgba(255,255,255,0.8)" stroke-width="0.6" stroke-dasharray="1.6,1.6"/>
<text transform="matrix(0.866 -0.5 0.866 0.5 382.3 135.6)" font-size="12.5" text-anchor="middle" fill="#fff" stroke="#fff">PbI</text>
<text transform="matrix(0.866 -0.5 0.866 0.5 394.9 132.4)" font-size="7.5" text-anchor="middle" fill="#fff">2</text>
<text transform="matrix(0.866 -0.5 0.866 0.5 401.0 144.7)" font-size="7.2" letter-spacing="0.5" text-anchor="middle" fill="#fff">298 nm</text>
<text transform="matrix(0.866 -0.5 0.866 0.5 356.5 156.7)" font-size="10" text-anchor="middle" fill="#fff" stroke="#fff">Si</text>
<line x1="270.0" y1="145.4" x2="272.0" y2="145.4" stroke="#555" stroke-width="0.7"/>
<text x="269.8" y="148.8" font-size="9.5" text-anchor="end" fill="#231f20" stroke="#231f20">40</text>
<line x1="270.0" y1="111.4" x2="272.0" y2="111.4" stroke="#555" stroke-width="0.7"/>
<text x="269.8" y="114.8" font-size="9.5" text-anchor="end" fill="#231f20" stroke="#231f20">50</text>
<line x1="270.0" y1="77.4" x2="272.0" y2="77.4" stroke="#555" stroke-width="0.7"/>
<text x="269.8" y="80.8" font-size="9.5" text-anchor="end" fill="#231f20" stroke="#231f20">60</text>
<line x1="270.0" y1="43.4" x2="272.0" y2="43.4" stroke="#555" stroke-width="0.7"/>
<text x="269.8" y="46.8" font-size="9.5" text-anchor="end" fill="#231f20" stroke="#231f20">70</text>
<line x1="270.7" y1="162.4" x2="272.0" y2="162.4" stroke="#555" stroke-width="0.5"/>
<line x1="270.7" y1="128.4" x2="272.0" y2="128.4" stroke="#555" stroke-width="0.5"/>
<line x1="270.7" y1="94.4" x2="272.0" y2="94.4" stroke="#555" stroke-width="0.5"/>
<line x1="270.7" y1="60.4" x2="272.0" y2="60.4" stroke="#555" stroke-width="0.5"/>
<line x1="270.7" y1="26.4" x2="272.0" y2="26.4" stroke="#555" stroke-width="0.5"/>
<text transform="translate(254.3,93.7) rotate(-90)" font-size="10" text-anchor="middle" fill="#231f20" stroke="#231f20">Wavenumber (cm<tspan font-size="6" dy="-3.5">-1</tspan><tspan dy="3.5">)</tspan></text>
<line x1="429.0" y1="168.0" x2="431.0" y2="168.0" stroke="#555" stroke-width="0.7"/>
<text x="431.8" y="171.4" font-size="9.5" text-anchor="start" fill="#231f20" stroke="#231f20">1.0</text>
<line x1="429.0" y1="145.3" x2="431.0" y2="145.3" stroke="#555" stroke-width="0.7"/>
<text x="431.8" y="148.7" font-size="9.5" text-anchor="start" fill="#231f20" stroke="#231f20">1.2</text>
<line x1="429.0" y1="122.6" x2="431.0" y2="122.6" stroke="#555" stroke-width="0.7"/>
<text x="431.8" y="126.0" font-size="9.5" text-anchor="start" fill="#231f20" stroke="#231f20">1.4</text>
<line x1="429.0" y1="99.9" x2="431.0" y2="99.9" stroke="#555" stroke-width="0.7"/>
<text x="431.8" y="103.3" font-size="9.5" text-anchor="start" fill="#231f20" stroke="#231f20">1.6</text>
<line x1="429.0" y1="77.3" x2="431.0" y2="77.3" stroke="#555" stroke-width="0.7"/>
<text x="431.8" y="80.7" font-size="9.5" text-anchor="start" fill="#231f20" stroke="#231f20">1.8</text>
<line x1="429.0" y1="54.6" x2="431.0" y2="54.6" stroke="#555" stroke-width="0.7"/>
<text x="431.8" y="58.0" font-size="9.5" text-anchor="start" fill="#231f20" stroke="#231f20">2.0</text>
<line x1="429.0" y1="31.9" x2="431.0" y2="31.9" stroke="#555" stroke-width="0.7"/>
<text x="431.8" y="35.3" font-size="9.5" text-anchor="start" fill="#231f20" stroke="#231f20">2.2</text>
<line x1="429.0" y1="156.6" x2="430.3" y2="156.6" stroke="#555" stroke-width="0.5"/>
<line x1="429.0" y1="134.0" x2="430.3" y2="134.0" stroke="#555" stroke-width="0.5"/>
<line x1="429.0" y1="111.3" x2="430.3" y2="111.3" stroke="#555" stroke-width="0.5"/>
<line x1="429.0" y1="88.6" x2="430.3" y2="88.6" stroke="#555" stroke-width="0.5"/>
<line x1="429.0" y1="65.9" x2="430.3" y2="65.9" stroke="#555" stroke-width="0.5"/>
<line x1="429.0" y1="43.2" x2="430.3" y2="43.2" stroke="#555" stroke-width="0.5"/>
<line x1="429.0" y1="20.6" x2="430.3" y2="20.6" stroke="#555" stroke-width="0.5"/>
<text transform="translate(449.4,94) rotate(90)" font-size="10" text-anchor="middle" fill="#231f20" stroke="#231f20">Frequency (THz)</text>
<line x1="299.4" y1="172.0" x2="299.4" y2="174.0" stroke="#555" stroke-width="0.7"/>
<text x="299.4" y="183.0" font-size="9.5" text-anchor="middle" fill="#231f20" stroke="#231f20">0</text>
<line x1="333.4" y1="172.0" x2="333.4" y2="174.0" stroke="#555" stroke-width="0.7"/>
<text x="333.4" y="183.0" font-size="9.5" text-anchor="middle" fill="#231f20" stroke="#231f20">2</text>
<line x1="367.4" y1="172.0" x2="367.4" y2="174.0" stroke="#555" stroke-width="0.7"/>
<text x="367.4" y="183.0" font-size="9.5" text-anchor="middle" fill="#231f20" stroke="#231f20">4</text>
<line x1="401.4" y1="172.0" x2="401.4" y2="174.0" stroke="#555" stroke-width="0.7"/>
<text x="401.4" y="183.0" font-size="9.5" text-anchor="middle" fill="#231f20" stroke="#231f20">6</text>
<line x1="282.4" y1="172.0" x2="282.4" y2="173.3" stroke="#555" stroke-width="0.5"/>
<line x1="316.4" y1="172.0" x2="316.4" y2="173.3" stroke="#555" stroke-width="0.5"/>
<line x1="350.4" y1="172.0" x2="350.4" y2="173.3" stroke="#555" stroke-width="0.5"/>
<line x1="384.4" y1="172.0" x2="384.4" y2="173.3" stroke="#555" stroke-width="0.5"/>
<line x1="418.4" y1="172.0" x2="418.4" y2="173.3" stroke="#555" stroke-width="0.5"/>
<text x="350.5" y="193.6" font-size="10" text-anchor="middle" fill="#231f20" stroke="#231f20">Position (µm)</text>
<text x="259.0" y="10.6" font-size="13.5" text-anchor="start" fill="#231f20" font-weight="bold" stroke="#231f20">c</text>
<defs><linearGradient id="cbC" x1="0" x2="1" y1="0" y2="0"><stop offset="0.00" stop-color="#06030e"/><stop offset="0.10" stop-color="#0e0939"/><stop offset="0.20" stop-color="#231269"/><stop offset="0.30" stop-color="#4e1c78"/><stop offset="0.40" stop-color="#922977"/><stop offset="0.50" stop-color="#dc3461"/><stop offset="0.60" stop-color="#f55148"/><stop offset="0.70" stop-color="#fb8c3c"/><stop offset="0.80" stop-color="#fdc647"/><stop offset="0.90" stop-color="#fee781"/><stop offset="1.00" stop-color="#fffae1"/></linearGradient></defs>
<rect x="380.2" y="9.2" width="30.9" height="3.6" fill="url(#cbC)"/>
<text x="365.6" y="12.9" font-size="7.2" text-anchor="start" fill="#231f20">min.</text>
<text x="411.9" y="12.9" font-size="7.2" text-anchor="start" fill="#231f20">max.</text>
<text x="396" y="6.6" font-size="6.4" text-anchor="middle" fill="#231f20">S<tspan font-size="4" dy="1.2">2</tspan><tspan dy="-1.2"> (arb. units)</tspan></text>
<text x="252.0" y="215.2" font-size="13.5" text-anchor="start" fill="#231f20" font-weight="bold" stroke="#231f20">d</text>
<rect x="272.8" y="221.4" width="155.6" height="156.1" fill="none" stroke="#8a8a8a" stroke-width="0.8"/>
<line x1="270.8" y1="377.5" x2="272.8" y2="377.5" stroke="#777" stroke-width="0.7"/>
<text x="269.6" y="380.9" font-size="9.5" text-anchor="end" fill="#231f20" stroke="#231f20">0</text>
<line x1="270.8" y1="338.5" x2="272.8" y2="338.5" stroke="#777" stroke-width="0.7"/>
<text x="269.6" y="341.9" font-size="9.5" text-anchor="end" fill="#231f20" stroke="#231f20">0.4</text>
<line x1="270.8" y1="299.4" x2="272.8" y2="299.4" stroke="#777" stroke-width="0.7"/>
<text x="269.6" y="302.8" font-size="9.5" text-anchor="end" fill="#231f20" stroke="#231f20">0.8</text>
<line x1="270.8" y1="260.4" x2="272.8" y2="260.4" stroke="#777" stroke-width="0.7"/>
<text x="269.6" y="263.8" font-size="9.5" text-anchor="end" fill="#231f20" stroke="#231f20">1.2</text>
<line x1="270.8" y1="221.4" x2="272.8" y2="221.4" stroke="#777" stroke-width="0.7"/>
<text x="269.6" y="224.8" font-size="9.5" text-anchor="end" fill="#231f20" stroke="#231f20">1.4</text>
<line x1="271.5" y1="358.0" x2="272.8" y2="358.0" stroke="#777" stroke-width="0.5"/>
<line x1="271.5" y1="319.0" x2="272.8" y2="319.0" stroke="#777" stroke-width="0.5"/>
<line x1="271.5" y1="279.9" x2="272.8" y2="279.9" stroke="#777" stroke-width="0.5"/>
<line x1="271.5" y1="240.9" x2="272.8" y2="240.9" stroke="#777" stroke-width="0.5"/>
<line x1="272.8" y1="377.5" x2="272.8" y2="379.5" stroke="#777" stroke-width="0.7"/>
<text x="272.8" y="388.9" font-size="9.5" text-anchor="middle" fill="#231f20" stroke="#231f20">0</text>
<line x1="295.0" y1="377.5" x2="295.0" y2="379.5" stroke="#777" stroke-width="0.7"/>
<text x="295.0" y="388.9" font-size="9.5" text-anchor="middle" fill="#231f20" stroke="#231f20">1</text>
<line x1="317.3" y1="377.5" x2="317.3" y2="379.5" stroke="#777" stroke-width="0.7"/>
<text x="317.3" y="388.9" font-size="9.5" text-anchor="middle" fill="#231f20" stroke="#231f20">2</text>
<line x1="339.5" y1="377.5" x2="339.5" y2="379.5" stroke="#777" stroke-width="0.7"/>
<text x="339.5" y="388.9" font-size="9.5" text-anchor="middle" fill="#231f20" stroke="#231f20">3</text>
<line x1="361.7" y1="377.5" x2="361.7" y2="379.5" stroke="#777" stroke-width="0.7"/>
<text x="361.7" y="388.9" font-size="9.5" text-anchor="middle" fill="#231f20" stroke="#231f20">4</text>
<line x1="384.0" y1="377.5" x2="384.0" y2="379.5" stroke="#777" stroke-width="0.7"/>
<text x="384.0" y="388.9" font-size="9.5" text-anchor="middle" fill="#231f20" stroke="#231f20">5</text>
<line x1="406.2" y1="377.5" x2="406.2" y2="379.5" stroke="#777" stroke-width="0.7"/>
<text x="406.2" y="388.9" font-size="9.5" text-anchor="middle" fill="#231f20" stroke="#231f20">6</text>
<line x1="428.4" y1="377.5" x2="428.4" y2="379.5" stroke="#777" stroke-width="0.7"/>
<text x="428.4" y="388.9" font-size="9.5" text-anchor="middle" fill="#231f20" stroke="#231f20">7</text>
<text x="353.1" y="399.4" font-size="10.1" text-anchor="middle" fill="#231f20" stroke="#231f20">Position (µm)</text>
<text transform="translate(253.4,297.8) rotate(-90)" font-size="10.1" text-anchor="middle" fill="#231f20" stroke="#231f20">NF Amplitude (arb. units)</text>
<polyline points="272.8,260.4 273.3,258.7 273.9,256.3 274.7,253.6 275.4,250.9 276.2,248.6 276.9,246.8 277.7,245.1 278.4,243.6 279.2,242.3 279.9,241.1 280.6,240.1 281.4,239.3 282.1,238.7 282.9,238.2 283.6,237.8 284.4,237.5 285.1,237.2 285.9,237.1 286.6,237.1 287.4,237.2 288.1,237.4 288.9,237.7 289.6,238.2 290.4,238.7 291.1,239.3 291.8,240.0 292.5,240.7 293.2,241.5 294.0,242.5 294.8,243.6 295.7,245.0 296.7,246.5 297.7,248.2 298.8,249.9 299.8,251.7 300.8,253.6 301.8,255.5 302.8,257.5 303.8,259.4 304.7,261.0 305.5,262.3 306.3,263.4 307.0,264.4 307.7,265.2 308.5,265.9 309.3,266.5 310.2,267.0 311.1,267.3 311.9,267.5 312.8,267.6 313.6,267.5 314.5,267.3 315.3,267.0 316.2,266.5 317.1,265.9 318.1,265.0 319.0,264.0 320.1,262.8 321.1,261.6 322.1,260.4 323.1,259.3 324.1,258.1 325.1,256.9 326.1,255.8 327.1,254.8 328.1,253.9 329.0,253.2 330.0,252.5 331.0,251.9 332.0,251.4 333.1,251.0 334.2,250.7 335.3,250.5 336.5,250.4 337.6,250.4 338.7,250.4 339.8,250.5 340.9,250.7 342.0,251.0 343.2,251.4 344.4,251.9 345.6,252.5 346.9,253.2 348.1,254.0 349.4,254.8 350.6,255.7 351.9,256.7 353.1,257.8 354.4,258.7 355.8,259.4 357.2,259.9 358.7,260.3 360.3,260.5 361.9,260.6 363.7,260.5 365.6,260.1 367.5,259.5 369.6,258.7 371.8,257.9 374.2,257.2 376.8,256.5 379.7,255.7 382.6,255.0 385.7,254.5 388.6,254.2 391.6,254.3 394.6,254.6 397.6,255.1 400.5,255.6 403.1,256.1 405.4,256.5 407.4,257.0 409.3,257.4 411.3,257.7 413.6,257.9 416.5,257.8 419.9,257.5 423.3,257.1 426.3,256.7 428.4,256.5" fill="none" stroke="#ee1c25" stroke-width="1.4" stroke-linejoin="round" stroke-linecap="round"/>
<polyline points="272.8,295.7 273.4,294.9 274.3,293.8 275.3,292.4 276.4,291.1 277.4,289.8 278.4,288.7 279.3,287.5 280.3,286.4 281.3,285.3 282.4,284.2 283.5,283.1 284.7,282.0 286.0,281.0 287.3,280.0 288.6,279.2 290.0,278.5 291.5,277.8 293.1,277.2 294.6,276.8 296.0,276.5 297.3,276.4 298.6,276.4 299.8,276.6 301.1,276.9 302.3,277.4 303.5,278.0 304.8,278.8 306.0,279.7 307.3,280.7 308.5,281.7 309.7,282.8 311.0,284.1 312.2,285.4 313.5,286.7 314.7,287.9 315.9,289.0 317.1,290.1 318.3,291.1 319.6,292.1 320.9,292.9 322.3,293.7 323.8,294.4 325.3,295.0 326.8,295.4 328.3,295.6 329.8,295.5 331.3,295.2 332.8,294.8 334.3,294.2 335.8,293.5 337.3,292.7 338.8,291.7 340.3,290.6 341.8,289.5 343.2,288.5 344.6,287.5 346.0,286.4 347.4,285.4 348.7,284.4 350.0,283.5 351.3,282.7 352.5,282.1 353.7,281.4 354.9,280.9 356.0,280.5 357.0,280.1 357.9,279.9 358.7,279.7 359.7,279.6 361.0,279.7 362.6,279.9 364.4,280.3 366.3,280.9 368.3,281.5 370.2,282.3 372.0,283.3 373.7,284.5 375.4,285.8 377.3,287.1 379.4,288.3 381.8,289.5 384.4,290.7 387.1,291.8 389.9,292.6 392.6,292.9 395.2,292.6 397.8,291.8 400.5,290.7 403.1,289.4 405.7,288.3 408.4,287.2 411.1,285.9 413.8,284.6 416.4,283.5 418.8,282.6 421.1,282.0 423.4,281.7 425.4,281.5 427.2,281.4 428.4,281.3" fill="none" stroke="#ee1c25" stroke-width="1.4" stroke-linejoin="round" stroke-linecap="round"/>
<polyline points="272.8,328.3 273.7,327.6 275.1,326.7 276.6,325.5 278.3,324.3 279.9,323.0 281.5,321.6 283.3,320.0 285.0,318.4 286.8,316.8 288.6,315.5 290.3,314.3 292.1,313.3 293.8,312.4 295.6,311.6 297.3,310.9 299.1,310.3 300.8,309.9 302.6,309.6 304.3,309.4 306.0,309.3 307.5,309.3 309.0,309.4 310.4,309.6 311.9,310.0 313.4,310.5 315.1,311.2 316.8,312.1 318.6,313.1 320.3,314.3 322.1,315.5 323.8,316.9 325.6,318.4 327.3,320.0 329.1,321.6 330.8,323.0 332.5,324.3 334.2,325.5 335.9,326.6 337.7,327.6 339.5,328.5 341.5,329.3 343.6,330.1 345.7,330.8 347.8,331.3 349.9,331.5 351.9,331.5 353.8,331.4 355.8,331.0 357.7,330.4 359.7,329.6 361.8,328.4 363.9,326.8 366.1,325.1 368.2,323.3 370.2,321.7 372.1,320.2 374.0,318.7 375.9,317.3 377.7,316.0 379.4,314.8 381.1,313.8 382.7,313.0 384.2,312.3 385.7,311.7 387.3,311.2 388.8,310.7 390.3,310.2 391.9,309.8 393.5,309.6 395.2,309.5 397.1,309.6 399.2,309.9 401.4,310.3 403.6,311.0 405.7,311.8 407.8,312.9 409.8,314.3 411.9,315.9 414.0,317.5 416.2,319.1 418.7,320.9 421.5,322.8 424.3,324.8 426.7,326.4 428.4,327.6" fill="none" stroke="#ee1c25" stroke-width="1.4" stroke-linejoin="round" stroke-linecap="round"/>
<polyline points="272.8,377.1 273.8,376.4 275.1,375.3 276.7,374.1 278.3,372.8 279.9,371.6 281.4,370.5 282.9,369.5 284.4,368.4 285.9,367.2 287.4,366.0 288.9,364.6 290.4,363.1 291.8,361.5 293.3,359.9 294.8,358.5 296.3,357.1 297.8,355.8 299.3,354.6 300.8,353.4 302.3,352.3 303.8,351.3 305.3,350.3 306.7,349.5 308.2,348.7 309.7,348.0 311.2,347.4 312.7,346.9 314.1,346.5 315.6,346.2 317.1,345.9 318.6,345.7 320.1,345.5 321.6,345.4 323.1,345.3 324.6,345.3 326.1,345.3 327.6,345.4 329.0,345.6 330.5,345.8 332.0,346.1 333.4,346.4 334.8,346.7 336.2,347.1 337.8,347.6 339.5,348.4 341.5,349.5 343.7,350.8 346.0,352.3 348.3,353.7 350.5,355.0 352.6,356.1 354.7,357.2 356.8,358.2 358.9,359.1 361.0,360.0 363.1,360.8 365.3,361.5 367.5,362.1 369.6,362.6 371.5,363.1 373.2,363.5 374.8,363.8 376.3,364.0 377.8,364.1 379.4,364.2 381.1,364.2 382.9,364.0 384.8,363.8 386.7,363.6 388.6,363.2 390.6,362.7 392.7,362.1 394.8,361.5 397.0,360.8 399.1,360.2 401.2,359.7 403.4,359.1 405.5,358.6 407.6,358.1 409.6,357.6 411.5,357.1 413.4,356.6 415.2,356.1 417.0,355.6 418.8,355.2 420.8,354.8 423.1,354.5 425.2,354.3 427.1,354.1 428.4,353.9" fill="none" stroke="#ee1c25" stroke-width="1.4" stroke-linejoin="round" stroke-linecap="round"/>
<g fill="none" stroke="#666" stroke-width="0.7">
<circle cx="273.1" cy="261.2" r="3.0"/>
<circle cx="282.0" cy="240.9" r="3.0"/>
<circle cx="290.8" cy="236.4" r="3.0"/>
<circle cx="299.7" cy="251.7" r="3.0"/>
<circle cx="308.5" cy="262.0" r="3.0"/>
<circle cx="317.4" cy="262.8" r="3.0"/>
<circle cx="326.2" cy="254.8" r="3.0"/>
<circle cx="335.1" cy="250.4" r="3.0"/>
<circle cx="343.9" cy="253.6" r="3.0"/>
<circle cx="352.8" cy="258.5" r="3.0"/>
<circle cx="361.6" cy="262.8" r="3.0"/>
<circle cx="370.5" cy="263.5" r="3.0"/>
<circle cx="273.1" cy="299.1" r="3.0"/>
<circle cx="282.0" cy="286.1" r="3.0"/>
<circle cx="290.8" cy="282.1" r="3.0"/>
<circle cx="299.7" cy="274.0" r="3.0"/>
<circle cx="308.5" cy="287.3" r="3.0"/>
<circle cx="317.4" cy="290.8" r="3.0"/>
<circle cx="326.2" cy="298.2" r="3.0"/>
<circle cx="335.1" cy="291.6" r="3.0"/>
<circle cx="343.9" cy="287.3" r="3.0"/>
<circle cx="352.8" cy="280.1" r="3.0"/>
<circle cx="361.6" cy="277.1" r="3.0"/>
<circle cx="370.5" cy="279.1" r="3.0"/>
<circle cx="379.3" cy="286.0" r="3.0"/>
<circle cx="388.2" cy="288.3" r="3.0"/>
<circle cx="273.1" cy="332.5" r="3.0"/>
<circle cx="282.0" cy="326.4" r="3.0"/>
<circle cx="290.8" cy="312.4" r="3.0"/>
<circle cx="299.7" cy="308.1" r="3.0"/>
<circle cx="308.5" cy="311.4" r="3.0"/>
<circle cx="317.4" cy="318.4" r="3.0"/>
<circle cx="326.2" cy="322.3" r="3.0"/>
<circle cx="335.1" cy="325.7" r="3.0"/>
<circle cx="343.9" cy="326.3" r="3.0"/>
<circle cx="352.8" cy="327.9" r="3.0"/>
<circle cx="361.6" cy="328.0" r="3.0"/>
<circle cx="370.5" cy="320.4" r="3.0"/>
<circle cx="379.3" cy="314.5" r="3.0"/>
<circle cx="388.2" cy="305.9" r="3.0"/>
<circle cx="397.0" cy="309.2" r="3.0"/>
<circle cx="405.9" cy="311.8" r="3.0"/>
<circle cx="414.7" cy="313.5" r="3.0"/>
<circle cx="273.1" cy="374.0" r="3.0"/>
<circle cx="282.0" cy="374.0" r="3.0"/>
<circle cx="290.8" cy="363.5" r="3.0"/>
<circle cx="299.7" cy="354.4" r="3.0"/>
<circle cx="308.5" cy="346.7" r="3.0"/>
<circle cx="317.4" cy="346.1" r="3.0"/>
<circle cx="326.2" cy="343.9" r="3.0"/>
<circle cx="335.1" cy="344.9" r="3.0"/>
<circle cx="343.9" cy="348.7" r="3.0"/>
<circle cx="352.8" cy="358.3" r="3.0"/>
<circle cx="361.6" cy="361.5" r="3.0"/>
<circle cx="370.5" cy="364.4" r="3.0"/>
<circle cx="379.3" cy="361.3" r="3.0"/>
<circle cx="388.2" cy="363.5" r="3.0"/>
<circle cx="397.0" cy="357.9" r="3.0"/>
<circle cx="405.9" cy="358.3" r="3.0"/>
<circle cx="414.7" cy="356.9" r="3.0"/>
<circle cx="423.6" cy="358.9" r="3.0"/>
</g>
<circle cx="362.3" cy="228.7" r="2.9" fill="none" stroke="#666" stroke-width="0.7"/>
<text x="372.9" y="231.7" font-size="9.8" text-anchor="start" fill="#231f20" stroke="#231f20">Experiment</text>
<line x1="353.8" y1="241.4" x2="369.2" y2="241.4" stroke="#ee1c25" stroke-width="1.4"/>
<text x="372.9" y="244.6" font-size="9.8" text-anchor="start" fill="#231f20" stroke="#231f20">Model-fit</text>
<rect x="428.9" y="252.2" width="30.2" height="8.1" fill="#e50914"/>
<text x="443.9" y="258.4" font-size="6.5" text-anchor="middle" fill="#fff">2.10 THz</text>
<rect x="428.9" y="278.1" width="30.2" height="8.1" fill="#e50914"/>
<text x="443.9" y="284.3" font-size="6.5" text-anchor="middle" fill="#fff">1.98 THz</text>
<rect x="428.9" y="322.0" width="30.2" height="8.1" fill="#e50914"/>
<text x="443.9" y="328.2" font-size="6.5" text-anchor="middle" fill="#fff">1.90 THz</text>
<rect x="428.9" y="349.8" width="30.2" height="8.1" fill="#e50914"/>
<text x="443.9" y="356.0" font-size="6.5" text-anchor="middle" fill="#fff">1.82 THz</text>
<defs><clipPath id="clipE"><rect x="499.9" y="16.9" width="156.7" height="154.4"/></clipPath><filter id="blurE" x="-5%" y="-5%" width="110%" height="110%"><feGaussianBlur stdDeviation="0.6,0.8"/></filter></defs>
<defs><linearGradient id="ge0" gradientUnits="userSpaceOnUse" x1="499.9" x2="656.6" y1="0" y2="0"><stop offset="0.000" stop-color="#231c7a"/><stop offset="0.160" stop-color="#1f2982"/><stop offset="0.313" stop-color="#1a478d"/><stop offset="0.479" stop-color="#186b8e"/><stop offset="0.574" stop-color="#197d8b"/><stop offset="0.772" stop-color="#21b977"/><stop offset="0.983" stop-color="#2fc76c"/><stop offset="1.000" stop-color="#2fc76b"/></linearGradient><linearGradient id="ge1" gradientUnits="userSpaceOnUse" x1="499.9" x2="656.6" y1="0" y2="0"><stop offset="0.000" stop-color="#231c7a"/><stop offset="0.172" stop-color="#1e2b83"/><stop offset="0.377" stop-color="#195990"/><stop offset="0.555" stop-color="#197c8b"/><stop offset="0.734" stop-color="#21b877"/><stop offset="0.913" stop-color="#2ec66c"/><stop offset="1.000" stop-color="#30c86b"/></linearGradient><linearGradient id="ge2" gradientUnits="userSpaceOnUse" x1="499.9" x2="656.6" y1="0" y2="0"><stop offset="0.000" stop-color="#231c7a"/><stop offset="0.172" stop-color="#1e2c84"/><stop offset="0.377" stop-color="#195b8f"/><stop offset="0.536" stop-color="#197a8c"/><stop offset="0.696" stop-color="#21b678"/><stop offset="0.810" stop-color="#2bc46f"/><stop offset="1.000" stop-color="#2dc56d"/></linearGradient><linearGradient id="ge3" gradientUnits="userSpaceOnUse" x1="499.9" x2="656.6" y1="0" y2="0"><stop offset="0.000" stop-color="#231c7a"/><stop offset="0.166" stop-color="#1e2c84"/><stop offset="0.370" stop-color="#195c8f"/><stop offset="0.517" stop-color="#19788c"/><stop offset="0.670" stop-color="#21b778"/><stop offset="0.798" stop-color="#2cc56e"/><stop offset="1.000" stop-color="#2cc46e"/></linearGradient><linearGradient id="ge4" gradientUnits="userSpaceOnUse" x1="499.9" x2="656.6" y1="0" y2="0"><stop offset="0.000" stop-color="#231c7a"/><stop offset="0.166" stop-color="#1e2d84"/><stop offset="0.364" stop-color="#195b8f"/><stop offset="0.504" stop-color="#19788c"/><stop offset="0.638" stop-color="#21b578"/><stop offset="0.740" stop-color="#2bc46f"/><stop offset="0.996" stop-color="#2ac370"/><stop offset="1.000" stop-color="#29c370"/></linearGradient><linearGradient id="ge5" gradientUnits="userSpaceOnUse" x1="499.9" x2="656.6" y1="0" y2="0"><stop offset="0.000" stop-color="#231d7a"/><stop offset="0.166" stop-color="#1e2d84"/><stop offset="0.351" stop-color="#195a90"/><stop offset="0.491" stop-color="#18778d"/><stop offset="0.613" stop-color="#21b578"/><stop offset="0.689" stop-color="#2ac370"/><stop offset="0.836" stop-color="#2cc46e"/><stop offset="1.000" stop-color="#27c072"/></linearGradient><linearGradient id="ge6" gradientUnits="userSpaceOnUse" x1="499.9" x2="656.6" y1="0" y2="0"><stop offset="0.000" stop-color="#231d7a"/><stop offset="0.166" stop-color="#1e2e85"/><stop offset="0.345" stop-color="#195b8f"/><stop offset="0.479" stop-color="#18768d"/><stop offset="0.600" stop-color="#22ba77"/><stop offset="0.721" stop-color="#2dc66d"/><stop offset="1.000" stop-color="#23bd75"/></linearGradient><linearGradient id="ge7" gradientUnits="userSpaceOnUse" x1="499.9" x2="656.6" y1="0" y2="0"><stop offset="0.000" stop-color="#231d7b"/><stop offset="0.172" stop-color="#1d3086"/><stop offset="0.338" stop-color="#195b8f"/><stop offset="0.472" stop-color="#18778d"/><stop offset="0.581" stop-color="#22bc76"/><stop offset="0.696" stop-color="#2dc66d"/><stop offset="1.000" stop-color="#21b877"/></linearGradient><linearGradient id="ge8" gradientUnits="userSpaceOnUse" x1="499.9" x2="656.6" y1="0" y2="0"><stop offset="0.000" stop-color="#221d7b"/><stop offset="0.166" stop-color="#1d3086"/><stop offset="0.319" stop-color="#195990"/><stop offset="0.459" stop-color="#18778d"/><stop offset="0.511" stop-color="#1c9a81"/><stop offset="0.562" stop-color="#23bd75"/><stop offset="0.651" stop-color="#2dc66d"/><stop offset="0.957" stop-color="#21b479"/><stop offset="1.000" stop-color="#20b07a"/></linearGradient><linearGradient id="ge9" gradientUnits="userSpaceOnUse" x1="499.9" x2="656.6" y1="0" y2="0"><stop offset="0.000" stop-color="#221d7b"/><stop offset="0.179" stop-color="#1c3488"/><stop offset="0.325" stop-color="#195c8f"/><stop offset="0.440" stop-color="#18758d"/><stop offset="0.491" stop-color="#1c9683"/><stop offset="0.542" stop-color="#23bd75"/><stop offset="0.613" stop-color="#2ec66d"/><stop offset="0.874" stop-color="#21b479"/><stop offset="1.000" stop-color="#1fa87d"/></linearGradient><linearGradient id="ge10" gradientUnits="userSpaceOnUse" x1="499.9" x2="656.6" y1="0" y2="0"><stop offset="0.000" stop-color="#221d7b"/><stop offset="0.179" stop-color="#1c3588"/><stop offset="0.313" stop-color="#195c8f"/><stop offset="0.428" stop-color="#18758d"/><stop offset="0.504" stop-color="#20ae7b"/><stop offset="0.530" stop-color="#25bf73"/><stop offset="0.593" stop-color="#2fc76b"/><stop offset="0.798" stop-color="#21b479"/><stop offset="1.000" stop-color="#1da07f"/></linearGradient><linearGradient id="ge11" gradientUnits="userSpaceOnUse" x1="499.9" x2="656.6" y1="0" y2="0"><stop offset="0.000" stop-color="#221d7b"/><stop offset="0.172" stop-color="#1c3689"/><stop offset="0.325" stop-color="#19608f"/><stop offset="0.415" stop-color="#18758d"/><stop offset="0.511" stop-color="#25be74"/><stop offset="0.568" stop-color="#30c96a"/><stop offset="0.728" stop-color="#21b479"/><stop offset="1.000" stop-color="#1c9982"/></linearGradient><linearGradient id="ge12" gradientUnits="userSpaceOnUse" x1="499.9" x2="656.6" y1="0" y2="0"><stop offset="0.000" stop-color="#221e7c"/><stop offset="0.166" stop-color="#1c3689"/><stop offset="0.319" stop-color="#19618f"/><stop offset="0.396" stop-color="#18728e"/><stop offset="0.440" stop-color="#1c9982"/><stop offset="0.479" stop-color="#21b977"/><stop offset="0.542" stop-color="#31c96a"/><stop offset="0.689" stop-color="#20b279"/><stop offset="0.900" stop-color="#1c9782"/><stop offset="1.000" stop-color="#1b9085"/></linearGradient><linearGradient id="ge13" gradientUnits="userSpaceOnUse" x1="499.9" x2="656.6" y1="0" y2="0"><stop offset="0.000" stop-color="#221e7c"/><stop offset="0.166" stop-color="#1c3889"/><stop offset="0.306" stop-color="#19608f"/><stop offset="0.389" stop-color="#18748e"/><stop offset="0.453" stop-color="#22bc76"/><stop offset="0.530" stop-color="#33ca68"/><stop offset="0.638" stop-color="#21b479"/><stop offset="0.779" stop-color="#1c9982"/><stop offset="1.000" stop-color="#1a8987"/></linearGradient><linearGradient id="ge14" gradientUnits="userSpaceOnUse" x1="499.9" x2="656.6" y1="0" y2="0"><stop offset="0.000" stop-color="#221e7c"/><stop offset="0.160" stop-color="#1c3989"/><stop offset="0.300" stop-color="#19608f"/><stop offset="0.370" stop-color="#18718e"/><stop offset="0.396" stop-color="#1a8688"/><stop offset="0.434" stop-color="#24be74"/><stop offset="0.472" stop-color="#39cb66"/><stop offset="0.511" stop-color="#37cb67"/><stop offset="0.523" stop-color="#31c96a"/><stop offset="0.600" stop-color="#21b678"/><stop offset="0.715" stop-color="#1c9782"/><stop offset="0.983" stop-color="#1a8289"/><stop offset="1.000" stop-color="#1a8289"/></linearGradient><linearGradient id="ge15" gradientUnits="userSpaceOnUse" x1="499.9" x2="656.6" y1="0" y2="0"><stop offset="0.000" stop-color="#221f7c"/><stop offset="0.153" stop-color="#1b3989"/><stop offset="0.294" stop-color="#19608f"/><stop offset="0.357" stop-color="#18718e"/><stop offset="0.383" stop-color="#1a8a87"/><stop offset="0.415" stop-color="#23bd75"/><stop offset="0.440" stop-color="#41cd61"/><stop offset="0.453" stop-color="#4fcf5b"/><stop offset="0.479" stop-color="#4ccf5c"/><stop offset="0.491" stop-color="#40cd62"/><stop offset="0.498" stop-color="#32ca69"/><stop offset="0.568" stop-color="#22ba77"/><stop offset="0.638" stop-color="#1d9c81"/><stop offset="0.772" stop-color="#1a8688"/><stop offset="1.000" stop-color="#197b8b"/></linearGradient><linearGradient id="ge16" gradientUnits="userSpaceOnUse" x1="499.9" x2="656.6" y1="0" y2="0"><stop offset="0.000" stop-color="#221f7d"/><stop offset="0.153" stop-color="#1b3b8a"/><stop offset="0.306" stop-color="#18658f"/><stop offset="0.351" stop-color="#18748e"/><stop offset="0.377" stop-color="#1c9782"/><stop offset="0.396" stop-color="#22bb76"/><stop offset="0.408" stop-color="#2fc76c"/><stop offset="0.428" stop-color="#5cd255"/><stop offset="0.447" stop-color="#71d54b"/><stop offset="0.466" stop-color="#63d351"/><stop offset="0.498" stop-color="#31c96a"/><stop offset="0.549" stop-color="#21b877"/><stop offset="0.606" stop-color="#1c9982"/><stop offset="0.734" stop-color="#19808a"/><stop offset="1.000" stop-color="#18758d"/></linearGradient><linearGradient id="ge17" gradientUnits="userSpaceOnUse" x1="499.9" x2="656.6" y1="0" y2="0"><stop offset="0.000" stop-color="#221f7d"/><stop offset="0.147" stop-color="#1b3c8a"/><stop offset="0.287" stop-color="#19628f"/><stop offset="0.338" stop-color="#18738e"/><stop offset="0.364" stop-color="#1c9a81"/><stop offset="0.383" stop-color="#27c072"/><stop offset="0.389" stop-color="#2fc76c"/><stop offset="0.415" stop-color="#7bd647"/><stop offset="0.428" stop-color="#8fd83f"/><stop offset="0.440" stop-color="#89d741"/><stop offset="0.447" stop-color="#77d648"/><stop offset="0.453" stop-color="#75d549"/><stop offset="0.466" stop-color="#5bd155"/><stop offset="0.479" stop-color="#3ccc64"/><stop offset="0.485" stop-color="#31c96a"/><stop offset="0.536" stop-color="#20b07a"/><stop offset="0.600" stop-color="#1b8d85"/><stop offset="0.721" stop-color="#19788c"/><stop offset="1.000" stop-color="#18718e"/></linearGradient><linearGradient id="ge18" gradientUnits="userSpaceOnUse" x1="499.9" x2="656.6" y1="0" y2="0"><stop offset="0.000" stop-color="#21207d"/><stop offset="0.140" stop-color="#1b3c8a"/><stop offset="0.281" stop-color="#19628f"/><stop offset="0.325" stop-color="#18728e"/><stop offset="0.338" stop-color="#1a8189"/><stop offset="0.364" stop-color="#22bc76"/><stop offset="0.377" stop-color="#3bcc65"/><stop offset="0.396" stop-color="#96d93c"/><stop offset="0.402" stop-color="#abdb33"/><stop offset="0.408" stop-color="#b7dc2f"/><stop offset="0.415" stop-color="#badd2e"/><stop offset="0.421" stop-color="#b5dc30"/><stop offset="0.440" stop-color="#81d744"/><stop offset="0.453" stop-color="#5bd155"/><stop offset="0.472" stop-color="#31c96a"/><stop offset="0.504" stop-color="#21b578"/><stop offset="0.587" stop-color="#1a8389"/><stop offset="0.676" stop-color="#18748e"/><stop offset="0.976" stop-color="#186c8e"/><stop offset="1.000" stop-color="#186d8e"/></linearGradient><linearGradient id="ge19" gradientUnits="userSpaceOnUse" x1="499.9" x2="656.6" y1="0" y2="0"><stop offset="0.000" stop-color="#21217d"/><stop offset="0.134" stop-color="#1b3c8a"/><stop offset="0.274" stop-color="#18638f"/><stop offset="0.313" stop-color="#18708e"/><stop offset="0.325" stop-color="#197f8a"/><stop offset="0.345" stop-color="#1fab7c"/><stop offset="0.351" stop-color="#23bd75"/><stop offset="0.357" stop-color="#2ec76c"/><stop offset="0.364" stop-color="#4ace5d"/><stop offset="0.377" stop-color="#9cd93a"/><stop offset="0.383" stop-color="#bcdd2d"/><stop offset="0.396" stop-color="#d1df26"/><stop offset="0.408" stop-color="#cddf27"/><stop offset="0.415" stop-color="#c3dd2a"/><stop offset="0.434" stop-color="#70d54b"/><stop offset="0.453" stop-color="#34ca68"/><stop offset="0.479" stop-color="#21b977"/><stop offset="0.517" stop-color="#1c9882"/><stop offset="0.593" stop-color="#18748e"/><stop offset="0.804" stop-color="#18698f"/><stop offset="1.000" stop-color="#186a8f"/></linearGradient><linearGradient id="ge20" gradientUnits="userSpaceOnUse" x1="499.9" x2="656.6" y1="0" y2="0"><stop offset="0.000" stop-color="#21217e"/><stop offset="0.134" stop-color="#1b3e8b"/><stop offset="0.287" stop-color="#18688f"/><stop offset="0.306" stop-color="#18728e"/><stop offset="0.319" stop-color="#1a8588"/><stop offset="0.338" stop-color="#23bd75"/><stop offset="0.345" stop-color="#30c86b"/><stop offset="0.351" stop-color="#55d058"/><stop offset="0.364" stop-color="#badd2d"/><stop offset="0.370" stop-color="#d2df26"/><stop offset="0.383" stop-color="#dde123"/><stop offset="0.396" stop-color="#d3df26"/><stop offset="0.402" stop-color="#cade28"/><stop offset="0.408" stop-color="#b9dc2e"/><stop offset="0.421" stop-color="#6ad44e"/><stop offset="0.434" stop-color="#37cb67"/><stop offset="0.453" stop-color="#22bc76"/><stop offset="0.479" stop-color="#1d9e80"/><stop offset="0.530" stop-color="#197f8a"/><stop offset="0.587" stop-color="#186d8e"/><stop offset="0.823" stop-color="#18658f"/><stop offset="1.000" stop-color="#18678f"/></linearGradient><linearGradient id="ge21" gradientUnits="userSpaceOnUse" x1="499.9" x2="656.6" y1="0" y2="0"><stop offset="0.000" stop-color="#21227e"/><stop offset="0.128" stop-color="#1b3e8b"/><stop offset="0.268" stop-color="#18658f"/><stop offset="0.294" stop-color="#186f8e"/><stop offset="0.306" stop-color="#197f8a"/><stop offset="0.325" stop-color="#21b678"/><stop offset="0.332" stop-color="#2dc66d"/><stop offset="0.338" stop-color="#54d059"/><stop offset="0.351" stop-color="#ccdf27"/><stop offset="0.364" stop-color="#e3e122"/><stop offset="0.370" stop-color="#eae221"/><stop offset="0.383" stop-color="#dfe123"/><stop offset="0.389" stop-color="#d3df26"/><stop offset="0.396" stop-color="#bddd2d"/><stop offset="0.408" stop-color="#60d253"/><stop offset="0.421" stop-color="#2ec76c"/><stop offset="0.440" stop-color="#1fac7b"/><stop offset="0.466" stop-color="#1b8e85"/><stop offset="0.530" stop-color="#18708e"/><stop offset="0.632" stop-color="#19628f"/><stop offset="0.996" stop-color="#18658f"/><stop offset="1.000" stop-color="#18668f"/></linearGradient><linearGradient id="ge22" gradientUnits="userSpaceOnUse" x1="499.9" x2="656.6" y1="0" y2="0"><stop offset="0.000" stop-color="#21227e"/><stop offset="0.121" stop-color="#1b3e8b"/><stop offset="0.274" stop-color="#18698f"/><stop offset="0.287" stop-color="#18708e"/><stop offset="0.300" stop-color="#1a8788"/><stop offset="0.313" stop-color="#20ae7b"/><stop offset="0.319" stop-color="#29c271"/><stop offset="0.325" stop-color="#43cd61"/><stop offset="0.338" stop-color="#cade28"/><stop offset="0.351" stop-color="#ede320"/><stop offset="0.357" stop-color="#f4e41f"/><stop offset="0.370" stop-color="#e8e221"/><stop offset="0.383" stop-color="#c9de28"/><stop offset="0.396" stop-color="#5dd254"/><stop offset="0.402" stop-color="#37cb66"/><stop offset="0.415" stop-color="#22b977"/><stop offset="0.434" stop-color="#1c9483"/><stop offset="0.466" stop-color="#18778d"/><stop offset="0.530" stop-color="#18678f"/><stop offset="0.645" stop-color="#195d8f"/><stop offset="0.983" stop-color="#18638f"/><stop offset="1.000" stop-color="#18658f"/></linearGradient><linearGradient id="ge23" gradientUnits="userSpaceOnUse" x1="499.9" x2="656.6" y1="0" y2="0"><stop offset="0.000" stop-color="#21237f"/><stop offset="0.121" stop-color="#1b408b"/><stop offset="0.255" stop-color="#18668f"/><stop offset="0.281" stop-color="#18758d"/><stop offset="0.294" stop-color="#1b8f85"/><stop offset="0.306" stop-color="#22bb76"/><stop offset="0.313" stop-color="#33ca69"/><stop offset="0.319" stop-color="#6dd44c"/><stop offset="0.325" stop-color="#b9dc2e"/><stop offset="0.332" stop-color="#dce124"/><stop offset="0.338" stop-color="#ece320"/><stop offset="0.351" stop-color="#f5e41e"/><stop offset="0.364" stop-color="#e0e123"/><stop offset="0.370" stop-color="#cddf27"/><stop offset="0.383" stop-color="#5ad156"/><stop offset="0.389" stop-color="#31c96a"/><stop offset="0.402" stop-color="#20b17a"/><stop offset="0.421" stop-color="#1a8887"/><stop offset="0.440" stop-color="#18718e"/><stop offset="0.504" stop-color="#19628f"/><stop offset="0.632" stop-color="#195890"/><stop offset="0.970" stop-color="#19608f"/><stop offset="1.000" stop-color="#18658f"/></linearGradient><linearGradient id="ge24" gradientUnits="userSpaceOnUse" x1="499.9" x2="656.6" y1="0" y2="0"><stop offset="0.000" stop-color="#20247f"/><stop offset="0.108" stop-color="#1b3e8b"/><stop offset="0.255" stop-color="#18698f"/><stop offset="0.268" stop-color="#18718e"/><stop offset="0.281" stop-color="#1a8987"/><stop offset="0.294" stop-color="#20b379"/><stop offset="0.300" stop-color="#2cc56e"/><stop offset="0.306" stop-color="#53d059"/><stop offset="0.313" stop-color="#a5da36"/><stop offset="0.319" stop-color="#d6e025"/><stop offset="0.332" stop-color="#f4e41e"/><stop offset="0.338" stop-color="#f5e41e"/><stop offset="0.351" stop-color="#dfe123"/><stop offset="0.357" stop-color="#ccdf27"/><stop offset="0.370" stop-color="#55d058"/><stop offset="0.377" stop-color="#2fc76b"/><stop offset="0.383" stop-color="#23bd75"/><stop offset="0.402" stop-color="#1b8b86"/><stop offset="0.421" stop-color="#186f8e"/><stop offset="0.459" stop-color="#195e8f"/><stop offset="0.645" stop-color="#195490"/><stop offset="0.957" stop-color="#195e8f"/><stop offset="1.000" stop-color="#18658f"/></linearGradient><linearGradient id="ge25" gradientUnits="userSpaceOnUse" x1="499.9" x2="656.6" y1="0" y2="0"><stop offset="0.000" stop-color="#202580"/><stop offset="0.108" stop-color="#1b408b"/><stop offset="0.243" stop-color="#18678f"/><stop offset="0.262" stop-color="#18768d"/><stop offset="0.274" stop-color="#1c9483"/><stop offset="0.287" stop-color="#26c073"/><stop offset="0.294" stop-color="#45ce5f"/><stop offset="0.306" stop-color="#cddf27"/><stop offset="0.313" stop-color="#e5e222"/><stop offset="0.319" stop-color="#f2e31f"/><stop offset="0.332" stop-color="#efe320"/><stop offset="0.345" stop-color="#cade28"/><stop offset="0.351" stop-color="#85d743"/><stop offset="0.357" stop-color="#4ccf5c"/><stop offset="0.364" stop-color="#2cc56e"/><stop offset="0.370" stop-color="#21b778"/><stop offset="0.383" stop-color="#1b9284"/><stop offset="0.396" stop-color="#18778d"/><stop offset="0.421" stop-color="#19618f"/><stop offset="0.479" stop-color="#195490"/><stop offset="0.664" stop-color="#195190"/><stop offset="0.944" stop-color="#195c8f"/><stop offset="1.000" stop-color="#18678f"/></linearGradient><linearGradient id="ge26" gradientUnits="userSpaceOnUse" x1="499.9" x2="656.6" y1="0" y2="0"><stop offset="0.000" stop-color="#202580"/><stop offset="0.115" stop-color="#1a448c"/><stop offset="0.243" stop-color="#186c8e"/><stop offset="0.255" stop-color="#197b8b"/><stop offset="0.268" stop-color="#1ea17f"/><stop offset="0.274" stop-color="#22bb76"/><stop offset="0.281" stop-color="#33ca69"/><stop offset="0.287" stop-color="#6cd44d"/><stop offset="0.294" stop-color="#c7de28"/><stop offset="0.300" stop-color="#e0e123"/><stop offset="0.313" stop-color="#f6e41e"/><stop offset="0.319" stop-color="#f1e31f"/><stop offset="0.332" stop-color="#cbde27"/><stop offset="0.345" stop-color="#46ce5f"/><stop offset="0.351" stop-color="#28c271"/><stop offset="0.364" stop-color="#1d9d80"/><stop offset="0.377" stop-color="#197b8b"/><stop offset="0.396" stop-color="#18658f"/><stop offset="0.440" stop-color="#195390"/><stop offset="0.523" stop-color="#194f8f"/><stop offset="0.676" stop-color="#194e8f"/><stop offset="0.925" stop-color="#195990"/><stop offset="1.000" stop-color="#18698f"/></linearGradient><linearGradient id="ge27" gradientUnits="userSpaceOnUse" x1="499.9" x2="656.6" y1="0" y2="0"><stop offset="0.000" stop-color="#202680"/><stop offset="0.102" stop-color="#1b428c"/><stop offset="0.230" stop-color="#18698f"/><stop offset="0.243" stop-color="#18758d"/><stop offset="0.255" stop-color="#1c9683"/><stop offset="0.268" stop-color="#2bc46e"/><stop offset="0.274" stop-color="#56d157"/><stop offset="0.281" stop-color="#addb33"/><stop offset="0.287" stop-color="#d8e025"/><stop offset="0.294" stop-color="#ece320"/><stop offset="0.300" stop-color="#f5e41e"/><stop offset="0.313" stop-color="#e5e222"/><stop offset="0.319" stop-color="#d0df26"/><stop offset="0.332" stop-color="#45cd60"/><stop offset="0.338" stop-color="#28c171"/><stop offset="0.357" stop-color="#1a8588"/><stop offset="0.370" stop-color="#186e8e"/><stop offset="0.396" stop-color="#195a8f"/><stop offset="0.472" stop-color="#1a488d"/><stop offset="0.664" stop-color="#1a498e"/><stop offset="0.913" stop-color="#195790"/><stop offset="1.000" stop-color="#186d8e"/></linearGradient><linearGradient id="ge28" gradientUnits="userSpaceOnUse" x1="499.9" x2="656.6" y1="0" y2="0"><stop offset="0.000" stop-color="#202781"/><stop offset="0.102" stop-color="#1a448c"/><stop offset="0.223" stop-color="#186a8f"/><stop offset="0.236" stop-color="#197a8c"/><stop offset="0.249" stop-color="#1ea17f"/><stop offset="0.255" stop-color="#23bd75"/><stop offset="0.262" stop-color="#3ccc64"/><stop offset="0.274" stop-color="#cedf27"/><stop offset="0.281" stop-color="#e7e221"/><stop offset="0.287" stop-color="#f2e31f"/><stop offset="0.294" stop-color="#f4e41f"/><stop offset="0.300" stop-color="#eae221"/><stop offset="0.306" stop-color="#d3df26"/><stop offset="0.313" stop-color="#9bd93a"/><stop offset="0.319" stop-color="#50cf5a"/><stop offset="0.325" stop-color="#29c270"/><stop offset="0.338" stop-color="#1c9583"/><stop offset="0.351" stop-color="#18728e"/><stop offset="0.377" stop-color="#195b8f"/><stop offset="0.447" stop-color="#1a468d"/><stop offset="0.523" stop-color="#1a448c"/><stop offset="0.657" stop-color="#1a448c"/><stop offset="0.900" stop-color="#195590"/><stop offset="1.000" stop-color="#18708e"/></linearGradient><linearGradient id="ge29" gradientUnits="userSpaceOnUse" x1="499.9" x2="656.6" y1="0" y2="0"><stop offset="0.000" stop-color="#1f2781"/><stop offset="0.102" stop-color="#1a468d"/><stop offset="0.217" stop-color="#186b8e"/><stop offset="0.223" stop-color="#18718e"/><stop offset="0.236" stop-color="#1b9284"/><stop offset="0.243" stop-color="#1fac7b"/><stop offset="0.249" stop-color="#2bc46f"/><stop offset="0.255" stop-color="#5bd155"/><stop offset="0.262" stop-color="#b4dc30"/><stop offset="0.268" stop-color="#dee123"/><stop offset="0.281" stop-color="#f6e41e"/><stop offset="0.287" stop-color="#ede320"/><stop offset="0.294" stop-color="#dae024"/><stop offset="0.300" stop-color="#b2dc31"/><stop offset="0.306" stop-color="#5ad155"/><stop offset="0.313" stop-color="#2cc56e"/><stop offset="0.319" stop-color="#20b279"/><stop offset="0.332" stop-color="#1a8289"/><stop offset="0.345" stop-color="#18698f"/><stop offset="0.370" stop-color="#195590"/><stop offset="0.466" stop-color="#1b3d8a"/><stop offset="0.632" stop-color="#1b3e8b"/><stop offset="0.881" stop-color="#195290"/><stop offset="0.996" stop-color="#18728e"/><stop offset="1.000" stop-color="#18748e"/></linearGradient><linearGradient id="ge30" gradientUnits="userSpaceOnUse" x1="499.9" x2="656.6" y1="0" y2="0"><stop offset="0.000" stop-color="#1f2882"/><stop offset="0.160" stop-color="#195a90"/><stop offset="0.211" stop-color="#186c8e"/><stop offset="0.223" stop-color="#1a8289"/><stop offset="0.236" stop-color="#21b578"/><stop offset="0.243" stop-color="#32ca69"/><stop offset="0.249" stop-color="#7bd647"/><stop offset="0.255" stop-color="#d0df26"/><stop offset="0.268" stop-color="#f5e41e"/><stop offset="0.281" stop-color="#e4e222"/><stop offset="0.287" stop-color="#c9de28"/><stop offset="0.294" stop-color="#6ed54c"/><stop offset="0.300" stop-color="#31c96a"/><stop offset="0.306" stop-color="#21b778"/><stop offset="0.319" stop-color="#1a8588"/><stop offset="0.325" stop-color="#18738e"/><stop offset="0.351" stop-color="#195890"/><stop offset="0.428" stop-color="#1b3e8b"/><stop offset="0.504" stop-color="#1c3889"/><stop offset="0.696" stop-color="#1b418c"/><stop offset="0.855" stop-color="#194d8f"/><stop offset="0.983" stop-color="#18718e"/><stop offset="1.000" stop-color="#19788c"/></linearGradient><linearGradient id="ge31" gradientUnits="userSpaceOnUse" x1="499.9" x2="656.6" y1="0" y2="0"><stop offset="0.000" stop-color="#1f2982"/><stop offset="0.153" stop-color="#195a90"/><stop offset="0.198" stop-color="#18688f"/><stop offset="0.211" stop-color="#18768d"/><stop offset="0.223" stop-color="#1d9e80"/><stop offset="0.230" stop-color="#24be75"/><stop offset="0.236" stop-color="#42cd61"/><stop offset="0.243" stop-color="#a2da37"/><stop offset="0.249" stop-color="#d8e025"/><stop offset="0.255" stop-color="#efe31f"/><stop offset="0.262" stop-color="#f3e41f"/><stop offset="0.268" stop-color="#ede320"/><stop offset="0.274" stop-color="#d3df26"/><stop offset="0.281" stop-color="#99d93b"/><stop offset="0.287" stop-color="#44cd60"/><stop offset="0.294" stop-color="#24be74"/><stop offset="0.306" stop-color="#1a8987"/><stop offset="0.319" stop-color="#186a8f"/><stop offset="0.345" stop-color="#195490"/><stop offset="0.421" stop-color="#1b3a8a"/><stop offset="0.511" stop-color="#1c3388"/><stop offset="0.600" stop-color="#1c3889"/><stop offset="0.683" stop-color="#1b3d8a"/><stop offset="0.842" stop-color="#1a4b8e"/><stop offset="0.983" stop-color="#18748e"/><stop offset="1.000" stop-color="#197b8c"/></linearGradient><linearGradient id="ge32" gradientUnits="userSpaceOnUse" x1="499.9" x2="656.6" y1="0" y2="0"><stop offset="0.000" stop-color="#1f2a82"/><stop offset="0.147" stop-color="#195a90"/><stop offset="0.191" stop-color="#18688f"/><stop offset="0.204" stop-color="#18778d"/><stop offset="0.217" stop-color="#1ea47e"/><stop offset="0.223" stop-color="#27c072"/><stop offset="0.230" stop-color="#58d156"/><stop offset="0.236" stop-color="#afdb32"/><stop offset="0.243" stop-color="#e2e122"/><stop offset="0.249" stop-color="#efe320"/><stop offset="0.255" stop-color="#f4e41e"/><stop offset="0.268" stop-color="#c9de28"/><stop offset="0.274" stop-color="#5fd253"/><stop offset="0.281" stop-color="#2dc66d"/><stop offset="0.287" stop-color="#20ad7b"/><stop offset="0.300" stop-color="#197b8b"/><stop offset="0.313" stop-color="#18638f"/><stop offset="0.357" stop-color="#1a488d"/><stop offset="0.434" stop-color="#1c3287"/><stop offset="0.530" stop-color="#1d3287"/><stop offset="0.683" stop-color="#1b3989"/><stop offset="0.836" stop-color="#1a4a8e"/><stop offset="1.000" stop-color="#197d8b"/></linearGradient><linearGradient id="ge33" gradientUnits="userSpaceOnUse" x1="499.9" x2="656.6" y1="0" y2="0"><stop offset="0.000" stop-color="#1f2b83"/><stop offset="0.140" stop-color="#195990"/><stop offset="0.185" stop-color="#18688f"/><stop offset="0.198" stop-color="#19798c"/><stop offset="0.204" stop-color="#1b8b86"/><stop offset="0.217" stop-color="#2ac36f"/><stop offset="0.223" stop-color="#64d351"/><stop offset="0.230" stop-color="#cbde27"/><stop offset="0.236" stop-color="#e4e222"/><stop offset="0.243" stop-color="#f5e41e"/><stop offset="0.255" stop-color="#dde123"/><stop offset="0.262" stop-color="#9bd93a"/><stop offset="0.268" stop-color="#49ce5e"/><stop offset="0.274" stop-color="#22bc76"/><stop offset="0.287" stop-color="#1a8489"/><stop offset="0.294" stop-color="#18708e"/><stop offset="0.313" stop-color="#195990"/><stop offset="0.396" stop-color="#1c3588"/><stop offset="0.498" stop-color="#1e2c84"/><stop offset="0.689" stop-color="#1c3789"/><stop offset="0.830" stop-color="#1a4a8e"/><stop offset="0.996" stop-color="#197b8b"/><stop offset="1.000" stop-color="#197c8b"/></linearGradient><linearGradient id="ge34" gradientUnits="userSpaceOnUse" x1="499.9" x2="656.6" y1="0" y2="0"><stop offset="0.000" stop-color="#1e2c83"/><stop offset="0.134" stop-color="#195990"/><stop offset="0.179" stop-color="#18688f"/><stop offset="0.185" stop-color="#186d8e"/><stop offset="0.198" stop-color="#1b8e85"/><stop offset="0.204" stop-color="#1fab7c"/><stop offset="0.211" stop-color="#2ec66c"/><stop offset="0.217" stop-color="#6dd44c"/><stop offset="0.223" stop-color="#d1df26"/><stop offset="0.230" stop-color="#ebe320"/><stop offset="0.236" stop-color="#f3e41f"/><stop offset="0.243" stop-color="#ede320"/><stop offset="0.249" stop-color="#d0df26"/><stop offset="0.255" stop-color="#85d743"/><stop offset="0.262" stop-color="#2fc86b"/><stop offset="0.268" stop-color="#20b279"/><stop offset="0.274" stop-color="#1b9084"/><stop offset="0.281" stop-color="#19798c"/><stop offset="0.294" stop-color="#19618f"/><stop offset="0.325" stop-color="#1a4b8e"/><stop offset="0.402" stop-color="#1d3086"/><stop offset="0.517" stop-color="#1e2b83"/><stop offset="0.696" stop-color="#1c3588"/><stop offset="0.817" stop-color="#1a488d"/><stop offset="0.976" stop-color="#19788c"/><stop offset="1.000" stop-color="#19788c"/></linearGradient><linearGradient id="ge35" gradientUnits="userSpaceOnUse" x1="499.9" x2="656.6" y1="0" y2="0"><stop offset="0.000" stop-color="#1e2d84"/><stop offset="0.128" stop-color="#195990"/><stop offset="0.172" stop-color="#18688f"/><stop offset="0.185" stop-color="#197a8c"/><stop offset="0.191" stop-color="#1b9085"/><stop offset="0.198" stop-color="#20ae7b"/><stop offset="0.204" stop-color="#2fc86b"/><stop offset="0.211" stop-color="#83d744"/><stop offset="0.217" stop-color="#d0df26"/><stop offset="0.223" stop-color="#eee320"/><stop offset="0.230" stop-color="#f3e41f"/><stop offset="0.236" stop-color="#e8e221"/><stop offset="0.243" stop-color="#cddf27"/><stop offset="0.249" stop-color="#63d351"/><stop offset="0.255" stop-color="#2bc46f"/><stop offset="0.262" stop-color="#1ea57e"/><stop offset="0.274" stop-color="#18718e"/><stop offset="0.294" stop-color="#195790"/><stop offset="0.377" stop-color="#1c3287"/><stop offset="0.485" stop-color="#1f2781"/><stop offset="0.708" stop-color="#1c3488"/><stop offset="0.817" stop-color="#1a4a8e"/><stop offset="0.951" stop-color="#18748e"/><stop offset="1.000" stop-color="#18738e"/></linearGradient><linearGradient id="ge36" gradientUnits="userSpaceOnUse" x1="499.9" x2="656.6" y1="0" y2="0"><stop offset="0.000" stop-color="#1e2d84"/><stop offset="0.128" stop-color="#195a90"/><stop offset="0.166" stop-color="#18678f"/><stop offset="0.179" stop-color="#197a8c"/><stop offset="0.185" stop-color="#1b9184"/><stop offset="0.191" stop-color="#20b17a"/><stop offset="0.198" stop-color="#30c86b"/><stop offset="0.204" stop-color="#8bd840"/><stop offset="0.211" stop-color="#d8e024"/><stop offset="0.217" stop-color="#ebe320"/><stop offset="0.223" stop-color="#f5e41e"/><stop offset="0.230" stop-color="#e2e122"/><stop offset="0.236" stop-color="#c3dd2a"/><stop offset="0.243" stop-color="#57d157"/><stop offset="0.249" stop-color="#25bf73"/><stop offset="0.262" stop-color="#19808a"/><stop offset="0.268" stop-color="#186d8e"/><stop offset="0.287" stop-color="#195590"/><stop offset="0.364" stop-color="#1d3287"/><stop offset="0.459" stop-color="#202680"/><stop offset="0.696" stop-color="#1d3287"/><stop offset="0.798" stop-color="#1a478d"/><stop offset="0.925" stop-color="#18708e"/><stop offset="1.000" stop-color="#186e8e"/></linearGradient><linearGradient id="ge37" gradientUnits="userSpaceOnUse" x1="499.9" x2="656.6" y1="0" y2="0"><stop offset="0.000" stop-color="#1d2f85"/><stop offset="0.128" stop-color="#195c8f"/><stop offset="0.160" stop-color="#18678f"/><stop offset="0.172" stop-color="#197a8c"/><stop offset="0.179" stop-color="#1b9085"/><stop offset="0.185" stop-color="#20b279"/><stop offset="0.191" stop-color="#34ca68"/><stop offset="0.198" stop-color="#86d742"/><stop offset="0.204" stop-color="#dbe124"/><stop offset="0.211" stop-color="#efe31f"/><stop offset="0.217" stop-color="#f1e31f"/><stop offset="0.223" stop-color="#e3e222"/><stop offset="0.230" stop-color="#a5da36"/><stop offset="0.236" stop-color="#4ace5d"/><stop offset="0.243" stop-color="#22bb76"/><stop offset="0.249" stop-color="#1c9782"/><stop offset="0.255" stop-color="#197b8b"/><stop offset="0.268" stop-color="#19608f"/><stop offset="0.306" stop-color="#1a458c"/><stop offset="0.370" stop-color="#1e2d84"/><stop offset="0.485" stop-color="#20247f"/><stop offset="0.696" stop-color="#1d3186"/><stop offset="0.798" stop-color="#1a4a8e"/><stop offset="0.906" stop-color="#186d8e"/><stop offset="0.970" stop-color="#186d8e"/><stop offset="1.000" stop-color="#18678f"/></linearGradient><linearGradient id="ge38" gradientUnits="userSpaceOnUse" x1="499.9" x2="656.6" y1="0" y2="0"><stop offset="0.000" stop-color="#1d3086"/><stop offset="0.121" stop-color="#195b8f"/><stop offset="0.160" stop-color="#186c8e"/><stop offset="0.166" stop-color="#197a8c"/><stop offset="0.172" stop-color="#1b9184"/><stop offset="0.179" stop-color="#20b07a"/><stop offset="0.185" stop-color="#37cb66"/><stop offset="0.191" stop-color="#96d93c"/><stop offset="0.198" stop-color="#d9e024"/><stop offset="0.204" stop-color="#f3e41f"/><stop offset="0.211" stop-color="#efe320"/><stop offset="0.217" stop-color="#dee123"/><stop offset="0.223" stop-color="#a5da36"/><stop offset="0.230" stop-color="#38cb66"/><stop offset="0.236" stop-color="#21b678"/><stop offset="0.243" stop-color="#1b9184"/><stop offset="0.249" stop-color="#18768d"/><stop offset="0.262" stop-color="#195d8f"/><stop offset="0.319" stop-color="#1b3a8a"/><stop offset="0.389" stop-color="#1f2881"/><stop offset="0.517" stop-color="#21237f"/><stop offset="0.696" stop-color="#1d2f85"/><stop offset="0.817" stop-color="#195590"/><stop offset="0.893" stop-color="#186c8e"/><stop offset="0.957" stop-color="#186a8f"/><stop offset="1.000" stop-color="#19608f"/></linearGradient><linearGradient id="ge39" gradientUnits="userSpaceOnUse" x1="499.9" x2="656.6" y1="0" y2="0"><stop offset="0.000" stop-color="#1d3086"/><stop offset="0.115" stop-color="#195b8f"/><stop offset="0.147" stop-color="#18668f"/><stop offset="0.160" stop-color="#19798c"/><stop offset="0.166" stop-color="#1b9184"/><stop offset="0.172" stop-color="#20b279"/><stop offset="0.179" stop-color="#35cb67"/><stop offset="0.185" stop-color="#a0da38"/><stop offset="0.191" stop-color="#dae024"/><stop offset="0.198" stop-color="#f1e31f"/><stop offset="0.204" stop-color="#f3e41f"/><stop offset="0.211" stop-color="#d6e025"/><stop offset="0.217" stop-color="#99d93b"/><stop offset="0.223" stop-color="#33ca69"/><stop offset="0.230" stop-color="#20af7a"/><stop offset="0.243" stop-color="#18728e"/><stop offset="0.255" stop-color="#195b8f"/><stop offset="0.313" stop-color="#1c3889"/><stop offset="0.389" stop-color="#202680"/><stop offset="0.549" stop-color="#20247f"/><stop offset="0.702" stop-color="#1d3186"/><stop offset="0.830" stop-color="#195e8f"/><stop offset="0.906" stop-color="#186b8e"/><stop offset="0.983" stop-color="#195d8f"/><stop offset="1.000" stop-color="#195990"/></linearGradient><linearGradient id="ge40" gradientUnits="userSpaceOnUse" x1="499.9" x2="656.6" y1="0" y2="0"><stop offset="0.000" stop-color="#1d3187"/><stop offset="0.115" stop-color="#195c8f"/><stop offset="0.140" stop-color="#18658f"/><stop offset="0.153" stop-color="#18768d"/><stop offset="0.160" stop-color="#1b9085"/><stop offset="0.166" stop-color="#20b279"/><stop offset="0.172" stop-color="#32ca69"/><stop offset="0.179" stop-color="#9fda39"/><stop offset="0.185" stop-color="#dfe123"/><stop offset="0.191" stop-color="#ece320"/><stop offset="0.198" stop-color="#f1e31f"/><stop offset="0.204" stop-color="#d9e024"/><stop offset="0.217" stop-color="#30c96a"/><stop offset="0.223" stop-color="#1faa7c"/><stop offset="0.230" stop-color="#1a8887"/><stop offset="0.236" stop-color="#18708e"/><stop offset="0.249" stop-color="#195a90"/><stop offset="0.306" stop-color="#1c3789"/><stop offset="0.383" stop-color="#202580"/><stop offset="0.549" stop-color="#21237f"/><stop offset="0.702" stop-color="#1d3187"/><stop offset="0.817" stop-color="#195e8f"/><stop offset="0.881" stop-color="#18698f"/><stop offset="0.970" stop-color="#195a90"/><stop offset="1.000" stop-color="#195190"/></linearGradient><linearGradient id="ge41" gradientUnits="userSpaceOnUse" x1="499.9" x2="656.6" y1="0" y2="0"><stop offset="0.000" stop-color="#1c3387"/><stop offset="0.108" stop-color="#195b8f"/><stop offset="0.140" stop-color="#186a8f"/><stop offset="0.147" stop-color="#18758d"/><stop offset="0.153" stop-color="#1b8d86"/><stop offset="0.160" stop-color="#20b07a"/><stop offset="0.166" stop-color="#33ca68"/><stop offset="0.172" stop-color="#92d83d"/><stop offset="0.179" stop-color="#e0e123"/><stop offset="0.185" stop-color="#f2e31f"/><stop offset="0.191" stop-color="#ebe320"/><stop offset="0.198" stop-color="#d9e024"/><stop offset="0.204" stop-color="#7bd647"/><stop offset="0.211" stop-color="#2dc66d"/><stop offset="0.217" stop-color="#1fa77d"/><stop offset="0.223" stop-color="#1a8389"/><stop offset="0.230" stop-color="#186e8e"/><stop offset="0.243" stop-color="#195990"/><stop offset="0.306" stop-color="#1c3387"/><stop offset="0.389" stop-color="#21227e"/><stop offset="0.581" stop-color="#202580"/><stop offset="0.708" stop-color="#1c3588"/><stop offset="0.804" stop-color="#195c8f"/><stop offset="0.868" stop-color="#18678f"/><stop offset="0.957" stop-color="#195690"/><stop offset="1.000" stop-color="#1a4a8e"/></linearGradient><linearGradient id="ge42" gradientUnits="userSpaceOnUse" x1="499.9" x2="656.6" y1="0" y2="0"><stop offset="0.000" stop-color="#1c3488"/><stop offset="0.108" stop-color="#195d8f"/><stop offset="0.134" stop-color="#18698f"/><stop offset="0.140" stop-color="#18738e"/><stop offset="0.147" stop-color="#1a8787"/><stop offset="0.153" stop-color="#20ad7b"/><stop offset="0.160" stop-color="#32ca69"/><stop offset="0.166" stop-color="#89d741"/><stop offset="0.172" stop-color="#dee123"/><stop offset="0.179" stop-color="#f4e41e"/><stop offset="0.185" stop-color="#e9e221"/><stop offset="0.191" stop-color="#d4e025"/><stop offset="0.198" stop-color="#78d648"/><stop offset="0.204" stop-color="#29c270"/><stop offset="0.217" stop-color="#1a8189"/><stop offset="0.223" stop-color="#186b8e"/><stop offset="0.243" stop-color="#195290"/><stop offset="0.306" stop-color="#1d3086"/><stop offset="0.389" stop-color="#21217e"/><stop offset="0.587" stop-color="#202580"/><stop offset="0.702" stop-color="#1c3789"/><stop offset="0.798" stop-color="#195e8f"/><stop offset="0.868" stop-color="#18648f"/><stop offset="1.000" stop-color="#1a448c"/></linearGradient><linearGradient id="ge43" gradientUnits="userSpaceOnUse" x1="499.9" x2="656.6" y1="0" y2="0"><stop offset="0.000" stop-color="#1c3588"/><stop offset="0.108" stop-color="#195e8f"/><stop offset="0.128" stop-color="#18688f"/><stop offset="0.134" stop-color="#18728e"/><stop offset="0.140" stop-color="#1a8688"/><stop offset="0.147" stop-color="#1faa7c"/><stop offset="0.153" stop-color="#31c96a"/><stop offset="0.160" stop-color="#8dd83f"/><stop offset="0.166" stop-color="#dae024"/><stop offset="0.172" stop-color="#f4e41e"/><stop offset="0.179" stop-color="#ede320"/><stop offset="0.185" stop-color="#cedf27"/><stop offset="0.191" stop-color="#6fd54b"/><stop offset="0.198" stop-color="#28c171"/><stop offset="0.211" stop-color="#197e8b"/><stop offset="0.217" stop-color="#18698f"/><stop offset="0.236" stop-color="#195190"/><stop offset="0.300" stop-color="#1d2f85"/><stop offset="0.396" stop-color="#21207d"/><stop offset="0.593" stop-color="#202680"/><stop offset="0.689" stop-color="#1c3689"/><stop offset="0.779" stop-color="#195b8f"/><stop offset="0.842" stop-color="#18638f"/><stop offset="1.000" stop-color="#1b3e8b"/></linearGradient><linearGradient id="ge44" gradientUnits="userSpaceOnUse" x1="499.9" x2="656.6" y1="0" y2="0"><stop offset="0.000" stop-color="#1c3789"/><stop offset="0.108" stop-color="#195f8f"/><stop offset="0.128" stop-color="#18708e"/><stop offset="0.134" stop-color="#1a8389"/><stop offset="0.140" stop-color="#1ea57e"/><stop offset="0.147" stop-color="#2fc86b"/><stop offset="0.153" stop-color="#8dd840"/><stop offset="0.160" stop-color="#d5e025"/><stop offset="0.166" stop-color="#f3e41f"/><stop offset="0.172" stop-color="#efe320"/><stop offset="0.179" stop-color="#c9de28"/><stop offset="0.185" stop-color="#65d350"/><stop offset="0.191" stop-color="#27c072"/><stop offset="0.198" stop-color="#1c9782"/><stop offset="0.204" stop-color="#197a8c"/><stop offset="0.211" stop-color="#18678f"/><stop offset="0.230" stop-color="#19508f"/><stop offset="0.294" stop-color="#1d2f85"/><stop offset="0.377" stop-color="#21207d"/><stop offset="0.581" stop-color="#202580"/><stop offset="0.683" stop-color="#1b3989"/><stop offset="0.766" stop-color="#195a8f"/><stop offset="0.830" stop-color="#19608f"/><stop offset="1.000" stop-color="#1b3a8a"/></linearGradient><linearGradient id="ge45" gradientUnits="userSpaceOnUse" x1="499.9" x2="656.6" y1="0" y2="0"><stop offset="0.000" stop-color="#1c3889"/><stop offset="0.096" stop-color="#195d8f"/><stop offset="0.115" stop-color="#18668f"/><stop offset="0.121" stop-color="#186e8e"/><stop offset="0.128" stop-color="#19808a"/><stop offset="0.134" stop-color="#1da07f"/><stop offset="0.140" stop-color="#2dc56d"/><stop offset="0.147" stop-color="#88d742"/><stop offset="0.153" stop-color="#d4e025"/><stop offset="0.160" stop-color="#f1e31f"/><stop offset="0.166" stop-color="#f0e31f"/><stop offset="0.172" stop-color="#ccdf27"/><stop offset="0.179" stop-color="#5dd254"/><stop offset="0.185" stop-color="#25bf73"/><stop offset="0.191" stop-color="#1c9583"/><stop offset="0.198" stop-color="#18768d"/><stop offset="0.211" stop-color="#195b8f"/><stop offset="0.262" stop-color="#1c3889"/><stop offset="0.338" stop-color="#21237e"/><stop offset="0.511" stop-color="#21207d"/><stop offset="0.632" stop-color="#1e2e85"/><stop offset="0.759" stop-color="#195c8f"/><stop offset="0.836" stop-color="#195b8f"/><stop offset="0.976" stop-color="#1c3989"/><stop offset="1.000" stop-color="#1c3689"/></linearGradient><linearGradient id="ge46" gradientUnits="userSpaceOnUse" x1="499.9" x2="656.6" y1="0" y2="0"><stop offset="0.000" stop-color="#1b3a8a"/><stop offset="0.108" stop-color="#18648f"/><stop offset="0.115" stop-color="#186c8e"/><stop offset="0.121" stop-color="#197d8b"/><stop offset="0.128" stop-color="#1c9a81"/><stop offset="0.134" stop-color="#29c270"/><stop offset="0.140" stop-color="#7ed646"/><stop offset="0.147" stop-color="#d5e025"/><stop offset="0.153" stop-color="#ece320"/><stop offset="0.160" stop-color="#efe31f"/><stop offset="0.166" stop-color="#cedf27"/><stop offset="0.172" stop-color="#54d058"/><stop offset="0.179" stop-color="#24be75"/><stop offset="0.191" stop-color="#18718e"/><stop offset="0.211" stop-color="#195390"/><stop offset="0.274" stop-color="#1d2f85"/><stop offset="0.364" stop-color="#221f7d"/><stop offset="0.568" stop-color="#202580"/><stop offset="0.657" stop-color="#1b3a8a"/><stop offset="0.759" stop-color="#195c8f"/><stop offset="0.836" stop-color="#195590"/><stop offset="0.964" stop-color="#1c3689"/><stop offset="1.000" stop-color="#1c3488"/></linearGradient><linearGradient id="ge47" gradientUnits="userSpaceOnUse" x1="499.9" x2="656.6" y1="0" y2="0"><stop offset="0.000" stop-color="#1b3b8a"/><stop offset="0.102" stop-color="#18638f"/><stop offset="0.108" stop-color="#186a8f"/><stop offset="0.115" stop-color="#19798c"/><stop offset="0.121" stop-color="#1c9782"/><stop offset="0.128" stop-color="#25bf74"/><stop offset="0.134" stop-color="#6fd54c"/><stop offset="0.140" stop-color="#d5e025"/><stop offset="0.147" stop-color="#e6e222"/><stop offset="0.153" stop-color="#ede320"/><stop offset="0.160" stop-color="#d0df26"/><stop offset="0.166" stop-color="#4dcf5c"/><stop offset="0.172" stop-color="#22bc76"/><stop offset="0.179" stop-color="#1b9284"/><stop offset="0.185" stop-color="#18708e"/><stop offset="0.198" stop-color="#195990"/><stop offset="0.249" stop-color="#1c3689"/><stop offset="0.319" stop-color="#21227e"/><stop offset="0.498" stop-color="#21207d"/><stop offset="0.613" stop-color="#1d3086"/><stop offset="0.721" stop-color="#195590"/><stop offset="0.785" stop-color="#195a90"/><stop offset="0.944" stop-color="#1c3588"/><stop offset="1.000" stop-color="#1c3387"/></linearGradient><linearGradient id="ge48" gradientUnits="userSpaceOnUse" x1="499.9" x2="656.6" y1="0" y2="0"><stop offset="0.000" stop-color="#1b3d8a"/><stop offset="0.089" stop-color="#195f8f"/><stop offset="0.102" stop-color="#18688f"/><stop offset="0.108" stop-color="#18758d"/><stop offset="0.115" stop-color="#1b9284"/><stop offset="0.121" stop-color="#21b977"/><stop offset="0.128" stop-color="#5ed253"/><stop offset="0.134" stop-color="#d3df26"/><stop offset="0.140" stop-color="#e8e221"/><stop offset="0.147" stop-color="#e9e221"/><stop offset="0.153" stop-color="#d1df26"/><stop offset="0.160" stop-color="#53d059"/><stop offset="0.166" stop-color="#21b977"/><stop offset="0.172" stop-color="#1b9085"/><stop offset="0.179" stop-color="#18708e"/><stop offset="0.191" stop-color="#195890"/><stop offset="0.243" stop-color="#1c3588"/><stop offset="0.325" stop-color="#21207d"/><stop offset="0.517" stop-color="#21227e"/><stop offset="0.619" stop-color="#1c3689"/><stop offset="0.708" stop-color="#195590"/><stop offset="0.779" stop-color="#195690"/><stop offset="0.919" stop-color="#1c3488"/><stop offset="1.000" stop-color="#1d3287"/></linearGradient><linearGradient id="ge49" gradientUnits="userSpaceOnUse" x1="499.9" x2="656.6" y1="0" y2="0"><stop offset="0.000" stop-color="#1b3f8b"/><stop offset="0.096" stop-color="#18668f"/><stop offset="0.102" stop-color="#18708e"/><stop offset="0.108" stop-color="#1b8c86"/><stop offset="0.115" stop-color="#21b578"/><stop offset="0.121" stop-color="#43cd60"/><stop offset="0.128" stop-color="#cedf27"/><stop offset="0.134" stop-color="#ece320"/><stop offset="0.140" stop-color="#e2e122"/><stop offset="0.147" stop-color="#d0df26"/><stop offset="0.153" stop-color="#5ad156"/><stop offset="0.160" stop-color="#21b479"/><stop offset="0.172" stop-color="#186f8e"/><stop offset="0.179" stop-color="#195f8f"/><stop offset="0.211" stop-color="#1a438c"/><stop offset="0.268" stop-color="#1f2982"/><stop offset="0.357" stop-color="#221e7c"/><stop offset="0.523" stop-color="#20247f"/><stop offset="0.613" stop-color="#1b3989"/><stop offset="0.689" stop-color="#195490"/><stop offset="0.766" stop-color="#195490"/><stop offset="0.893" stop-color="#1c3488"/><stop offset="1.000" stop-color="#1d3287"/></linearGradient><linearGradient id="ge50" gradientUnits="userSpaceOnUse" x1="499.9" x2="656.6" y1="0" y2="0"><stop offset="0.000" stop-color="#1b408b"/><stop offset="0.089" stop-color="#18648f"/><stop offset="0.096" stop-color="#186e8e"/><stop offset="0.102" stop-color="#1a8389"/><stop offset="0.108" stop-color="#20ad7b"/><stop offset="0.115" stop-color="#40cd62"/><stop offset="0.121" stop-color="#b3dc30"/><stop offset="0.128" stop-color="#eae221"/><stop offset="0.134" stop-color="#ece320"/><stop offset="0.140" stop-color="#cbde27"/><stop offset="0.147" stop-color="#5dd254"/><stop offset="0.153" stop-color="#21b877"/><stop offset="0.160" stop-color="#1b8b86"/><stop offset="0.166" stop-color="#186e8e"/><stop offset="0.179" stop-color="#195690"/><stop offset="0.236" stop-color="#1d3186"/><stop offset="0.313" stop-color="#221f7d"/><stop offset="0.498" stop-color="#21227e"/><stop offset="0.593" stop-color="#1c3789"/><stop offset="0.676" stop-color="#195490"/><stop offset="0.740" stop-color="#195390"/><stop offset="0.887" stop-color="#1d3187"/><stop offset="1.000" stop-color="#1d3287"/></linearGradient><linearGradient id="ge51" gradientUnits="userSpaceOnUse" x1="499.9" x2="656.6" y1="0" y2="0"><stop offset="0.000" stop-color="#1b418c"/><stop offset="0.083" stop-color="#18638f"/><stop offset="0.089" stop-color="#186a8f"/><stop offset="0.096" stop-color="#197e8a"/><stop offset="0.102" stop-color="#1ea27f"/><stop offset="0.108" stop-color="#30c86b"/><stop offset="0.115" stop-color="#aedb32"/><stop offset="0.121" stop-color="#dfe123"/><stop offset="0.128" stop-color="#eee320"/><stop offset="0.134" stop-color="#d3df26"/><stop offset="0.140" stop-color="#59d156"/><stop offset="0.147" stop-color="#22bc76"/><stop offset="0.153" stop-color="#1b8b86"/><stop offset="0.160" stop-color="#186d8e"/><stop offset="0.172" stop-color="#195590"/><stop offset="0.230" stop-color="#1d3086"/><stop offset="0.313" stop-color="#221e7c"/><stop offset="0.491" stop-color="#21237f"/><stop offset="0.581" stop-color="#1c3789"/><stop offset="0.657" stop-color="#195390"/><stop offset="0.721" stop-color="#195290"/><stop offset="0.862" stop-color="#1d3186"/><stop offset="1.000" stop-color="#1c3287"/></linearGradient><linearGradient id="ge52" gradientUnits="userSpaceOnUse" x1="499.9" x2="656.6" y1="0" y2="0"><stop offset="0.000" stop-color="#1b438c"/><stop offset="0.077" stop-color="#19618f"/><stop offset="0.083" stop-color="#18678f"/><stop offset="0.089" stop-color="#18768d"/><stop offset="0.096" stop-color="#1c9882"/><stop offset="0.102" stop-color="#2ac370"/><stop offset="0.108" stop-color="#86d743"/><stop offset="0.115" stop-color="#e0e123"/><stop offset="0.121" stop-color="#ede320"/><stop offset="0.128" stop-color="#d6e025"/><stop offset="0.134" stop-color="#6bd44d"/><stop offset="0.140" stop-color="#22ba77"/><stop offset="0.147" stop-color="#1b8e85"/><stop offset="0.153" stop-color="#186d8e"/><stop offset="0.166" stop-color="#195590"/><stop offset="0.217" stop-color="#1c3287"/><stop offset="0.300" stop-color="#221e7c"/><stop offset="0.472" stop-color="#21227e"/><stop offset="0.568" stop-color="#1c3889"/><stop offset="0.645" stop-color="#195390"/><stop offset="0.708" stop-color="#195190"/><stop offset="0.836" stop-color="#1d3186"/><stop offset="0.976" stop-color="#1d3186"/><stop offset="1.000" stop-color="#1c3387"/></linearGradient><linearGradient id="ge53" gradientUnits="userSpaceOnUse" x1="499.9" x2="656.6" y1="0" y2="0"><stop offset="0.000" stop-color="#1a448c"/><stop offset="0.077" stop-color="#18648f"/><stop offset="0.083" stop-color="#186f8e"/><stop offset="0.089" stop-color="#1b8c86"/><stop offset="0.096" stop-color="#22bb76"/><stop offset="0.102" stop-color="#5fd253"/><stop offset="0.108" stop-color="#d8e024"/><stop offset="0.115" stop-color="#eae221"/><stop offset="0.121" stop-color="#dde123"/><stop offset="0.128" stop-color="#78d648"/><stop offset="0.134" stop-color="#26c073"/><stop offset="0.140" stop-color="#1b9184"/><stop offset="0.147" stop-color="#186f8e"/><stop offset="0.160" stop-color="#195490"/><stop offset="0.217" stop-color="#1d2f85"/><stop offset="0.294" stop-color="#221e7c"/><stop offset="0.459" stop-color="#21227e"/><stop offset="0.555" stop-color="#1c3989"/><stop offset="0.638" stop-color="#195390"/><stop offset="0.696" stop-color="#194f8f"/><stop offset="0.810" stop-color="#1d3186"/><stop offset="0.938" stop-color="#1d2f85"/><stop offset="1.000" stop-color="#1c3488"/></linearGradient><linearGradient id="ge54" gradientUnits="userSpaceOnUse" x1="499.9" x2="656.6" y1="0" y2="0"><stop offset="0.000" stop-color="#1a458d"/><stop offset="0.070" stop-color="#19628f"/><stop offset="0.077" stop-color="#186a8f"/><stop offset="0.083" stop-color="#197f8a"/><stop offset="0.089" stop-color="#1fa97c"/><stop offset="0.096" stop-color="#3ecc63"/><stop offset="0.102" stop-color="#ccde27"/><stop offset="0.108" stop-color="#e9e221"/><stop offset="0.115" stop-color="#e3e222"/><stop offset="0.121" stop-color="#96d93c"/><stop offset="0.128" stop-color="#2bc46f"/><stop offset="0.134" stop-color="#1c9683"/><stop offset="0.140" stop-color="#18708e"/><stop offset="0.153" stop-color="#195590"/><stop offset="0.204" stop-color="#1d3186"/><stop offset="0.281" stop-color="#221e7c"/><stop offset="0.440" stop-color="#21217e"/><stop offset="0.542" stop-color="#1b3989"/><stop offset="0.619" stop-color="#195190"/><stop offset="0.676" stop-color="#194f8f"/><stop offset="0.785" stop-color="#1d3186"/><stop offset="0.900" stop-color="#1e2d84"/><stop offset="1.000" stop-color="#1c3588"/></linearGradient><linearGradient id="ge55" gradientUnits="userSpaceOnUse" x1="499.9" x2="656.6" y1="0" y2="0"><stop offset="0.000" stop-color="#1a468d"/><stop offset="0.070" stop-color="#18658f"/><stop offset="0.077" stop-color="#18738e"/><stop offset="0.083" stop-color="#1c9683"/><stop offset="0.089" stop-color="#29c270"/><stop offset="0.096" stop-color="#9bd93a"/><stop offset="0.102" stop-color="#e3e222"/><stop offset="0.108" stop-color="#e7e221"/><stop offset="0.115" stop-color="#c1dd2b"/><stop offset="0.121" stop-color="#31ca69"/><stop offset="0.128" stop-color="#1da07f"/><stop offset="0.134" stop-color="#18748e"/><stop offset="0.140" stop-color="#19608f"/><stop offset="0.166" stop-color="#1a458d"/><stop offset="0.217" stop-color="#1f2982"/><stop offset="0.294" stop-color="#221d7b"/><stop offset="0.440" stop-color="#21237f"/><stop offset="0.536" stop-color="#1b3c8a"/><stop offset="0.613" stop-color="#195290"/><stop offset="0.670" stop-color="#1a4b8e"/><stop offset="0.772" stop-color="#1d3086"/><stop offset="0.887" stop-color="#1e2d84"/><stop offset="1.000" stop-color="#1c3789"/></linearGradient><linearGradient id="ge56" gradientUnits="userSpaceOnUse" x1="499.9" x2="656.6" y1="0" y2="0"><stop offset="0.000" stop-color="#1a478d"/><stop offset="0.064" stop-color="#19628f"/><stop offset="0.070" stop-color="#186b8e"/><stop offset="0.077" stop-color="#1a8389"/><stop offset="0.083" stop-color="#20b17a"/><stop offset="0.089" stop-color="#5cd254"/><stop offset="0.096" stop-color="#d5e025"/><stop offset="0.102" stop-color="#e8e221"/><stop offset="0.108" stop-color="#d5e025"/><stop offset="0.115" stop-color="#50d05a"/><stop offset="0.121" stop-color="#20ae7b"/><stop offset="0.128" stop-color="#197d8b"/><stop offset="0.134" stop-color="#18648f"/><stop offset="0.147" stop-color="#19508f"/><stop offset="0.198" stop-color="#1e2e85"/><stop offset="0.268" stop-color="#221d7b"/><stop offset="0.421" stop-color="#21227e"/><stop offset="0.517" stop-color="#1b3a8a"/><stop offset="0.593" stop-color="#195090"/><stop offset="0.651" stop-color="#1a4b8e"/><stop offset="0.759" stop-color="#1e2e85"/><stop offset="0.900" stop-color="#1e2e85"/><stop offset="1.000" stop-color="#1c3889"/></linearGradient><linearGradient id="ge57" gradientUnits="userSpaceOnUse" x1="499.9" x2="656.6" y1="0" y2="0"><stop offset="0.000" stop-color="#1a488d"/><stop offset="0.064" stop-color="#18658f"/><stop offset="0.070" stop-color="#18748e"/><stop offset="0.077" stop-color="#1c9b81"/><stop offset="0.083" stop-color="#2ec76c"/><stop offset="0.089" stop-color="#a6da35"/><stop offset="0.096" stop-color="#e7e221"/><stop offset="0.102" stop-color="#e1e123"/><stop offset="0.108" stop-color="#7ad647"/><stop offset="0.115" stop-color="#25bf73"/><stop offset="0.121" stop-color="#1b8a86"/><stop offset="0.128" stop-color="#18698f"/><stop offset="0.134" stop-color="#195990"/><stop offset="0.179" stop-color="#1c3488"/><stop offset="0.249" stop-color="#221e7c"/><stop offset="0.396" stop-color="#21207d"/><stop offset="0.498" stop-color="#1c3889"/><stop offset="0.581" stop-color="#19508f"/><stop offset="0.657" stop-color="#1a448c"/><stop offset="0.740" stop-color="#1e2e85"/><stop offset="0.862" stop-color="#1e2c84"/><stop offset="1.000" stop-color="#1b3989"/></linearGradient><linearGradient id="ge58" gradientUnits="userSpaceOnUse" x1="499.9" x2="656.6" y1="0" y2="0"><stop offset="0.000" stop-color="#1a498e"/><stop offset="0.057" stop-color="#19618f"/><stop offset="0.064" stop-color="#186a8f"/><stop offset="0.070" stop-color="#19818a"/><stop offset="0.077" stop-color="#21b578"/><stop offset="0.083" stop-color="#66d350"/><stop offset="0.089" stop-color="#d7e025"/><stop offset="0.096" stop-color="#e0e123"/><stop offset="0.102" stop-color="#c4de29"/><stop offset="0.108" stop-color="#32ca69"/><stop offset="0.115" stop-color="#1c9982"/><stop offset="0.121" stop-color="#18708e"/><stop offset="0.128" stop-color="#195d8f"/><stop offset="0.153" stop-color="#1b428c"/><stop offset="0.204" stop-color="#202680"/><stop offset="0.281" stop-color="#231c7a"/><stop offset="0.408" stop-color="#20247f"/><stop offset="0.498" stop-color="#1b3d8a"/><stop offset="0.568" stop-color="#194f8f"/><stop offset="0.638" stop-color="#1a448c"/><stop offset="0.721" stop-color="#1e2e85"/><stop offset="0.836" stop-color="#1e2b83"/><stop offset="1.000" stop-color="#1b3a8a"/></linearGradient><linearGradient id="ge59" gradientUnits="userSpaceOnUse" x1="499.9" x2="656.6" y1="0" y2="0"><stop offset="0.000" stop-color="#1a4a8e"/><stop offset="0.057" stop-color="#18648f"/><stop offset="0.064" stop-color="#18728e"/><stop offset="0.070" stop-color="#1c9683"/><stop offset="0.077" stop-color="#2dc56d"/><stop offset="0.083" stop-color="#b5dc30"/><stop offset="0.089" stop-color="#e3e222"/><stop offset="0.096" stop-color="#d0df26"/><stop offset="0.102" stop-color="#55d058"/><stop offset="0.108" stop-color="#20af7a"/><stop offset="0.115" stop-color="#197b8b"/><stop offset="0.121" stop-color="#19618f"/><stop offset="0.140" stop-color="#1a488d"/><stop offset="0.185" stop-color="#1e2b83"/><stop offset="0.243" stop-color="#221d7b"/><stop offset="0.377" stop-color="#21217e"/><stop offset="0.479" stop-color="#1b3b8a"/><stop offset="0.555" stop-color="#194e8f"/><stop offset="0.625" stop-color="#1b418c"/><stop offset="0.721" stop-color="#1e2b83"/><stop offset="0.862" stop-color="#1e2e85"/><stop offset="1.000" stop-color="#1b3b8a"/></linearGradient><linearGradient id="ge60" gradientUnits="userSpaceOnUse" x1="499.9" x2="656.6" y1="0" y2="0"><stop offset="0.000" stop-color="#1a4b8e"/><stop offset="0.051" stop-color="#19608f"/><stop offset="0.057" stop-color="#18698f"/><stop offset="0.064" stop-color="#19808a"/><stop offset="0.070" stop-color="#20af7a"/><stop offset="0.077" stop-color="#4dcf5c"/><stop offset="0.083" stop-color="#d2df26"/><stop offset="0.089" stop-color="#dee123"/><stop offset="0.096" stop-color="#92d83e"/><stop offset="0.102" stop-color="#24be74"/><stop offset="0.108" stop-color="#1b8b86"/><stop offset="0.115" stop-color="#18688f"/><stop offset="0.121" stop-color="#195890"/><stop offset="0.166" stop-color="#1d3287"/><stop offset="0.230" stop-color="#221d7b"/><stop offset="0.364" stop-color="#21217e"/><stop offset="0.472" stop-color="#1b3d8b"/><stop offset="0.536" stop-color="#1a4c8e"/><stop offset="0.606" stop-color="#1b418c"/><stop offset="0.702" stop-color="#1e2b83"/><stop offset="0.842" stop-color="#1e2d84"/><stop offset="1.000" stop-color="#1b3b8a"/></linearGradient><linearGradient id="ge61" gradientUnits="userSpaceOnUse" x1="499.9" x2="656.6" y1="0" y2="0"><stop offset="0.000" stop-color="#1a4c8e"/><stop offset="0.051" stop-color="#19628f"/><stop offset="0.057" stop-color="#186f8e"/><stop offset="0.064" stop-color="#1c9383"/><stop offset="0.070" stop-color="#2bc46f"/><stop offset="0.077" stop-color="#91d83e"/><stop offset="0.083" stop-color="#d5e025"/><stop offset="0.089" stop-color="#c9de28"/><stop offset="0.096" stop-color="#3ecc63"/><stop offset="0.102" stop-color="#1d9d80"/><stop offset="0.108" stop-color="#18708e"/><stop offset="0.115" stop-color="#195d8f"/><stop offset="0.134" stop-color="#1a468d"/><stop offset="0.185" stop-color="#202781"/><stop offset="0.243" stop-color="#231c7a"/><stop offset="0.357" stop-color="#21227e"/><stop offset="0.479" stop-color="#1a448c"/><stop offset="0.549" stop-color="#1a4a8e"/><stop offset="0.683" stop-color="#1e2b83"/><stop offset="0.810" stop-color="#1e2c84"/><stop offset="1.000" stop-color="#1b3a8a"/></linearGradient><linearGradient id="ge62" gradientUnits="userSpaceOnUse" x1="499.9" x2="656.6" y1="0" y2="0"><stop offset="0.000" stop-color="#1a4d8f"/><stop offset="0.045" stop-color="#195e8f"/><stop offset="0.051" stop-color="#18658f"/><stop offset="0.057" stop-color="#197a8c"/><stop offset="0.064" stop-color="#1fab7c"/><stop offset="0.070" stop-color="#52d059"/><stop offset="0.077" stop-color="#cade28"/><stop offset="0.083" stop-color="#cade28"/><stop offset="0.089" stop-color="#6cd44d"/><stop offset="0.096" stop-color="#21b877"/><stop offset="0.102" stop-color="#197f8a"/><stop offset="0.108" stop-color="#19618f"/><stop offset="0.121" stop-color="#194e8f"/><stop offset="0.172" stop-color="#1f2a83"/><stop offset="0.230" stop-color="#231c7a"/><stop offset="0.345" stop-color="#21217e"/><stop offset="0.498" stop-color="#1a498e"/><stop offset="0.562" stop-color="#1b428c"/><stop offset="0.670" stop-color="#1f2a83"/><stop offset="0.810" stop-color="#1e2d84"/><stop offset="1.000" stop-color="#1b3989"/></linearGradient><linearGradient id="ge63" gradientUnits="userSpaceOnUse" x1="499.9" x2="656.6" y1="0" y2="0"><stop offset="0.000" stop-color="#194e8f"/><stop offset="0.045" stop-color="#19608f"/><stop offset="0.051" stop-color="#186a8f"/><stop offset="0.057" stop-color="#1b8a86"/><stop offset="0.064" stop-color="#27c072"/><stop offset="0.070" stop-color="#93d83d"/><stop offset="0.077" stop-color="#d3df26"/><stop offset="0.083" stop-color="#90d83e"/><stop offset="0.089" stop-color="#2ec66d"/><stop offset="0.096" stop-color="#1c9583"/><stop offset="0.102" stop-color="#186b8f"/><stop offset="0.108" stop-color="#195990"/><stop offset="0.147" stop-color="#1c3588"/><stop offset="0.204" stop-color="#221e7c"/><stop offset="0.313" stop-color="#221e7c"/><stop offset="0.434" stop-color="#1b3e8b"/><stop offset="0.504" stop-color="#1a498d"/><stop offset="0.657" stop-color="#1f2982"/><stop offset="0.823" stop-color="#1d2f85"/><stop offset="1.000" stop-color="#1c3889"/></linearGradient><linearGradient id="ge64" gradientUnits="userSpaceOnUse" x1="499.9" x2="656.6" y1="0" y2="0"><stop offset="0.000" stop-color="#194f8f"/><stop offset="0.045" stop-color="#18638f"/><stop offset="0.051" stop-color="#18728e"/><stop offset="0.057" stop-color="#1d9e80"/><stop offset="0.064" stop-color="#3fcc63"/><stop offset="0.070" stop-color="#c9de28"/><stop offset="0.077" stop-color="#cddf27"/><stop offset="0.083" stop-color="#50cf5a"/><stop offset="0.089" stop-color="#1fab7c"/><stop offset="0.096" stop-color="#19788c"/><stop offset="0.102" stop-color="#195f8f"/><stop offset="0.115" stop-color="#1a4c8e"/><stop offset="0.166" stop-color="#1f2882"/><stop offset="0.217" stop-color="#231c7a"/><stop offset="0.319" stop-color="#21217d"/><stop offset="0.466" stop-color="#1a478d"/><stop offset="0.530" stop-color="#1b408b"/><stop offset="0.632" stop-color="#1f2a83"/><stop offset="0.772" stop-color="#1e2c84"/><stop offset="0.976" stop-color="#1c3789"/><stop offset="1.000" stop-color="#1c3689"/></linearGradient><linearGradient id="ge65" gradientUnits="userSpaceOnUse" x1="499.9" x2="656.6" y1="0" y2="0"><stop offset="0.000" stop-color="#194f8f"/><stop offset="0.038" stop-color="#195f8f"/><stop offset="0.045" stop-color="#18688f"/><stop offset="0.051" stop-color="#19808a"/><stop offset="0.057" stop-color="#21b479"/><stop offset="0.064" stop-color="#6dd44c"/><stop offset="0.070" stop-color="#d0df26"/><stop offset="0.077" stop-color="#a0da38"/><stop offset="0.083" stop-color="#29c271"/><stop offset="0.089" stop-color="#1b8a86"/><stop offset="0.096" stop-color="#18678f"/><stop offset="0.108" stop-color="#194e8f"/><stop offset="0.153" stop-color="#1e2d84"/><stop offset="0.198" stop-color="#221d7b"/><stop offset="0.300" stop-color="#221f7c"/><stop offset="0.453" stop-color="#1a468d"/><stop offset="0.517" stop-color="#1b3e8b"/><stop offset="0.625" stop-color="#1f2882"/><stop offset="0.791" stop-color="#1d2f85"/><stop offset="0.983" stop-color="#1c3588"/><stop offset="1.000" stop-color="#1c3488"/></linearGradient><linearGradient id="ge66" gradientUnits="userSpaceOnUse" x1="499.9" x2="656.6" y1="0" y2="0"><stop offset="0.000" stop-color="#195090"/><stop offset="0.038" stop-color="#19618f"/><stop offset="0.045" stop-color="#186e8e"/><stop offset="0.051" stop-color="#1c9483"/><stop offset="0.057" stop-color="#2ac36f"/><stop offset="0.064" stop-color="#9cd939"/><stop offset="0.070" stop-color="#c8de28"/><stop offset="0.077" stop-color="#56d058"/><stop offset="0.083" stop-color="#1ea67d"/><stop offset="0.089" stop-color="#18708e"/><stop offset="0.096" stop-color="#195c8f"/><stop offset="0.121" stop-color="#1b408b"/><stop offset="0.160" stop-color="#1f2781"/><stop offset="0.217" stop-color="#231b79"/><stop offset="0.313" stop-color="#21237f"/><stop offset="0.428" stop-color="#1a448c"/><stop offset="0.491" stop-color="#1b3f8b"/><stop offset="0.606" stop-color="#1f2882"/><stop offset="0.766" stop-color="#1e2e85"/><stop offset="0.957" stop-color="#1c3488"/><stop offset="1.000" stop-color="#1c3287"/></linearGradient><linearGradient id="ge67" gradientUnits="userSpaceOnUse" x1="499.9" x2="656.6" y1="0" y2="0"><stop offset="0.000" stop-color="#195190"/><stop offset="0.032" stop-color="#195d8f"/><stop offset="0.038" stop-color="#18648f"/><stop offset="0.045" stop-color="#19798c"/><stop offset="0.051" stop-color="#1fab7c"/><stop offset="0.057" stop-color="#4ccf5c"/><stop offset="0.064" stop-color="#aadb34"/><stop offset="0.070" stop-color="#8ed83f"/><stop offset="0.077" stop-color="#29c270"/><stop offset="0.083" stop-color="#1a8887"/><stop offset="0.089" stop-color="#18638f"/><stop offset="0.102" stop-color="#194d8f"/><stop offset="0.147" stop-color="#1e2b83"/><stop offset="0.198" stop-color="#231c7a"/><stop offset="0.294" stop-color="#21217e"/><stop offset="0.415" stop-color="#1b438c"/><stop offset="0.485" stop-color="#1b3c8a"/><stop offset="0.587" stop-color="#1f2882"/><stop offset="0.740" stop-color="#1e2d84"/><stop offset="0.932" stop-color="#1c3387"/><stop offset="1.000" stop-color="#1d3186"/></linearGradient><linearGradient id="ge68" gradientUnits="userSpaceOnUse" x1="499.9" x2="656.6" y1="0" y2="0"><stop offset="0.000" stop-color="#195290"/><stop offset="0.032" stop-color="#195f8f"/><stop offset="0.038" stop-color="#18698f"/><stop offset="0.045" stop-color="#1a8987"/><stop offset="0.051" stop-color="#27c172"/><stop offset="0.057" stop-color="#83d744"/><stop offset="0.064" stop-color="#97d93c"/><stop offset="0.070" stop-color="#46ce5f"/><stop offset="0.077" stop-color="#1ea67d"/><stop offset="0.083" stop-color="#18708e"/><stop offset="0.089" stop-color="#195a90"/><stop offset="0.121" stop-color="#1b3989"/><stop offset="0.172" stop-color="#221f7d"/><stop offset="0.262" stop-color="#221d7b"/><stop offset="0.364" stop-color="#1b3a8a"/><stop offset="0.415" stop-color="#1b438c"/><stop offset="0.593" stop-color="#202681"/><stop offset="0.887" stop-color="#1c3287"/><stop offset="1.000" stop-color="#1d2f85"/></linearGradient><linearGradient id="ge69" gradientUnits="userSpaceOnUse" x1="499.9" x2="656.6" y1="0" y2="0"><stop offset="0.000" stop-color="#195290"/><stop offset="0.032" stop-color="#19608f"/><stop offset="0.038" stop-color="#186f8e"/><stop offset="0.045" stop-color="#1d9c81"/><stop offset="0.051" stop-color="#3dcc64"/><stop offset="0.057" stop-color="#afdb32"/><stop offset="0.064" stop-color="#7fd645"/><stop offset="0.070" stop-color="#23bd76"/><stop offset="0.077" stop-color="#1a8688"/><stop offset="0.083" stop-color="#18638f"/><stop offset="0.096" stop-color="#1a4c8e"/><stop offset="0.140" stop-color="#1f2a83"/><stop offset="0.191" stop-color="#231c79"/><stop offset="0.274" stop-color="#21207d"/><stop offset="0.389" stop-color="#1b418c"/><stop offset="0.459" stop-color="#1c3889"/><stop offset="0.574" stop-color="#202680"/><stop offset="0.868" stop-color="#1d3287"/><stop offset="1.000" stop-color="#1e2e84"/></linearGradient><linearGradient id="ge70" gradientUnits="userSpaceOnUse" x1="499.9" x2="656.6" y1="0" y2="0"><stop offset="0.000" stop-color="#195390"/><stop offset="0.026" stop-color="#195d8f"/><stop offset="0.032" stop-color="#18648f"/><stop offset="0.038" stop-color="#18778d"/><stop offset="0.045" stop-color="#20af7a"/><stop offset="0.051" stop-color="#62d351"/><stop offset="0.057" stop-color="#b1dc31"/><stop offset="0.064" stop-color="#52d059"/><stop offset="0.070" stop-color="#1ea37e"/><stop offset="0.077" stop-color="#186f8e"/><stop offset="0.083" stop-color="#195a90"/><stop offset="0.115" stop-color="#1c3889"/><stop offset="0.166" stop-color="#221e7c"/><stop offset="0.255" stop-color="#221e7c"/><stop offset="0.383" stop-color="#1b418b"/><stop offset="0.555" stop-color="#202680"/><stop offset="0.849" stop-color="#1d3186"/><stop offset="1.000" stop-color="#1e2c84"/></linearGradient><linearGradient id="ge71" gradientUnits="userSpaceOnUse" x1="499.9" x2="656.6" y1="0" y2="0"><stop offset="0.000" stop-color="#195390"/><stop offset="0.026" stop-color="#195e8f"/><stop offset="0.032" stop-color="#18688f"/><stop offset="0.038" stop-color="#1a8887"/><stop offset="0.045" stop-color="#25be74"/><stop offset="0.051" stop-color="#7ed645"/><stop offset="0.057" stop-color="#91d83e"/><stop offset="0.064" stop-color="#2cc56e"/><stop offset="0.070" stop-color="#1a8987"/><stop offset="0.077" stop-color="#19628f"/><stop offset="0.089" stop-color="#1a4c8e"/><stop offset="0.134" stop-color="#1f2982"/><stop offset="0.179" stop-color="#231c7a"/><stop offset="0.262" stop-color="#21217e"/><stop offset="0.364" stop-color="#1b3e8b"/><stop offset="0.421" stop-color="#1c3889"/><stop offset="0.542" stop-color="#202580"/><stop offset="0.830" stop-color="#1d3086"/><stop offset="1.000" stop-color="#1e2b83"/></linearGradient><linearGradient id="ge72" gradientUnits="userSpaceOnUse" x1="499.9" x2="656.6" y1="0" y2="0"><stop offset="0.000" stop-color="#195490"/><stop offset="0.026" stop-color="#19608f"/><stop offset="0.032" stop-color="#186f8e"/><stop offset="0.038" stop-color="#1d9c81"/><stop offset="0.045" stop-color="#31c969"/><stop offset="0.051" stop-color="#7cd646"/><stop offset="0.057" stop-color="#58d156"/><stop offset="0.064" stop-color="#20af7a"/><stop offset="0.070" stop-color="#18738e"/><stop offset="0.077" stop-color="#195a8f"/><stop offset="0.089" stop-color="#1a498e"/><stop offset="0.134" stop-color="#1f2881"/><stop offset="0.172" stop-color="#231c7a"/><stop offset="0.255" stop-color="#21217e"/><stop offset="0.357" stop-color="#1b3d8a"/><stop offset="0.459" stop-color="#1e2c83"/><stop offset="0.562" stop-color="#202580"/><stop offset="0.785" stop-color="#1d2f85"/><stop offset="1.000" stop-color="#1f2a83"/></linearGradient><linearGradient id="ge73" gradientUnits="userSpaceOnUse" x1="499.9" x2="656.6" y1="0" y2="0"><stop offset="0.000" stop-color="#195590"/><stop offset="0.026" stop-color="#18638f"/><stop offset="0.032" stop-color="#19798c"/><stop offset="0.038" stop-color="#20b17a"/><stop offset="0.045" stop-color="#59d156"/><stop offset="0.051" stop-color="#6dd44d"/><stop offset="0.057" stop-color="#2cc56e"/><stop offset="0.064" stop-color="#1b9184"/><stop offset="0.070" stop-color="#18668f"/><stop offset="0.077" stop-color="#195590"/><stop offset="0.115" stop-color="#1d3186"/><stop offset="0.160" stop-color="#221d7b"/><stop offset="0.243" stop-color="#21207d"/><stop offset="0.351" stop-color="#1b3b8a"/><stop offset="0.511" stop-color="#20247f"/><stop offset="0.772" stop-color="#1d2f85"/><stop offset="1.000" stop-color="#1f2982"/></linearGradient><linearGradient id="ge74" gradientUnits="userSpaceOnUse" x1="499.9" x2="656.6" y1="0" y2="0"><stop offset="0.000" stop-color="#195590"/><stop offset="0.019" stop-color="#195d8f"/><stop offset="0.026" stop-color="#18668f"/><stop offset="0.032" stop-color="#1a8688"/><stop offset="0.038" stop-color="#28c171"/><stop offset="0.045" stop-color="#79d648"/><stop offset="0.051" stop-color="#5cd254"/><stop offset="0.057" stop-color="#20af7a"/><stop offset="0.064" stop-color="#18768d"/><stop offset="0.070" stop-color="#195c8f"/><stop offset="0.083" stop-color="#1a4a8e"/><stop offset="0.128" stop-color="#202781"/><stop offset="0.179" stop-color="#231b79"/><stop offset="0.249" stop-color="#20247f"/><stop offset="0.345" stop-color="#1b3a8a"/><stop offset="0.498" stop-color="#20247f"/><stop offset="0.766" stop-color="#1e2e84"/><stop offset="1.000" stop-color="#1f2982"/></linearGradient><linearGradient id="ge75" gradientUnits="userSpaceOnUse" x1="499.9" x2="656.6" y1="0" y2="0"><stop offset="0.000" stop-color="#195690"/><stop offset="0.019" stop-color="#195e8f"/><stop offset="0.026" stop-color="#186b8f"/><stop offset="0.032" stop-color="#1c9583"/><stop offset="0.038" stop-color="#31c96a"/><stop offset="0.045" stop-color="#80d645"/><stop offset="0.051" stop-color="#37cb67"/><stop offset="0.057" stop-color="#1c9683"/><stop offset="0.064" stop-color="#18668f"/><stop offset="0.070" stop-color="#195590"/><stop offset="0.115" stop-color="#1e2d84"/><stop offset="0.160" stop-color="#231c7a"/><stop offset="0.236" stop-color="#21227e"/><stop offset="0.325" stop-color="#1c3889"/><stop offset="0.491" stop-color="#21237f"/><stop offset="0.734" stop-color="#1e2d84"/><stop offset="1.000" stop-color="#1f2881"/></linearGradient><linearGradient id="ge76" gradientUnits="userSpaceOnUse" x1="499.9" x2="656.6" y1="0" y2="0"><stop offset="0.000" stop-color="#195690"/><stop offset="0.019" stop-color="#19618f"/><stop offset="0.026" stop-color="#18738e"/><stop offset="0.032" stop-color="#1ea47e"/><stop offset="0.038" stop-color="#43cd61"/><stop offset="0.045" stop-color="#5fd253"/><stop offset="0.051" stop-color="#24be74"/><stop offset="0.057" stop-color="#197e8b"/><stop offset="0.064" stop-color="#195d8f"/><stop offset="0.077" stop-color="#1a4a8e"/><stop offset="0.121" stop-color="#1f2781"/><stop offset="0.160" stop-color="#231c7a"/><stop offset="0.230" stop-color="#21237f"/><stop offset="0.325" stop-color="#1c3789"/><stop offset="0.466" stop-color="#21237f"/><stop offset="0.721" stop-color="#1e2c84"/><stop offset="1.000" stop-color="#1f2881"/></linearGradient><linearGradient id="ge77" gradientUnits="userSpaceOnUse" x1="499.9" x2="656.6" y1="0" y2="0"><stop offset="0.000" stop-color="#1c3689"/><stop offset="0.006" stop-color="#195990"/><stop offset="0.019" stop-color="#18658f"/><stop offset="0.026" stop-color="#1a8389"/><stop offset="0.032" stop-color="#22bc76"/><stop offset="0.038" stop-color="#3fcc62"/><stop offset="0.045" stop-color="#32ca69"/><stop offset="0.051" stop-color="#1da07f"/><stop offset="0.057" stop-color="#186b8e"/><stop offset="0.064" stop-color="#195690"/><stop offset="0.108" stop-color="#1e2c84"/><stop offset="0.153" stop-color="#231c7a"/><stop offset="0.223" stop-color="#21237f"/><stop offset="0.306" stop-color="#1c3588"/><stop offset="0.459" stop-color="#21237f"/><stop offset="0.708" stop-color="#1e2b83"/><stop offset="1.000" stop-color="#1f2781"/></linearGradient><linearGradient id="ge78" gradientUnits="userSpaceOnUse" x1="499.9" x2="656.6" y1="0" y2="0"><stop offset="0.000" stop-color="#1c3689"/><stop offset="0.013" stop-color="#1b3c8a"/><stop offset="0.019" stop-color="#1a4c8e"/><stop offset="0.026" stop-color="#18758d"/><stop offset="0.032" stop-color="#23bd75"/><stop offset="0.038" stop-color="#2ec66d"/><stop offset="0.045" stop-color="#22b977"/><stop offset="0.051" stop-color="#1a8189"/><stop offset="0.057" stop-color="#195f8f"/><stop offset="0.070" stop-color="#1a4a8e"/><stop offset="0.115" stop-color="#202781"/><stop offset="0.153" stop-color="#231c7a"/><stop offset="0.223" stop-color="#20247f"/><stop offset="0.300" stop-color="#1c3388"/><stop offset="0.453" stop-color="#21227e"/><stop offset="0.683" stop-color="#1f2b83"/><stop offset="1.000" stop-color="#202781"/></linearGradient><linearGradient id="ge79" gradientUnits="userSpaceOnUse" x1="499.9" x2="656.6" y1="0" y2="0"><stop offset="0.000" stop-color="#1c3588"/><stop offset="0.013" stop-color="#1b3d8a"/><stop offset="0.019" stop-color="#195590"/><stop offset="0.026" stop-color="#1b8e85"/><stop offset="0.032" stop-color="#2cc56e"/><stop offset="0.038" stop-color="#27c172"/><stop offset="0.045" stop-color="#197d8b"/><stop offset="0.051" stop-color="#195090"/><stop offset="0.057" stop-color="#1c3889"/><stop offset="0.083" stop-color="#1f2982"/><stop offset="0.089" stop-color="#1c3488"/><stop offset="0.134" stop-color="#221d7b"/><stop offset="0.204" stop-color="#21207d"/><stop offset="0.287" stop-color="#1d3287"/><stop offset="0.440" stop-color="#21217e"/><stop offset="0.676" stop-color="#1f2982"/><stop offset="0.989" stop-color="#202580"/><stop offset="1.000" stop-color="#202680"/></linearGradient><linearGradient id="ge80" gradientUnits="userSpaceOnUse" x1="499.9" x2="656.6" y1="0" y2="0"><stop offset="0.000" stop-color="#1c3488"/><stop offset="0.013" stop-color="#1b3f8b"/><stop offset="0.019" stop-color="#19618f"/><stop offset="0.026" stop-color="#1ea57e"/><stop offset="0.032" stop-color="#2fc76c"/><stop offset="0.038" stop-color="#1fab7c"/><stop offset="0.045" stop-color="#18638f"/><stop offset="0.051" stop-color="#1b408b"/><stop offset="0.057" stop-color="#1c3287"/><stop offset="0.115" stop-color="#231d7a"/><stop offset="0.191" stop-color="#221e7c"/><stop offset="0.281" stop-color="#1d2f85"/><stop offset="0.440" stop-color="#21207d"/><stop offset="0.664" stop-color="#202781"/><stop offset="1.000" stop-color="#202580"/></linearGradient><linearGradient id="ge81" gradientUnits="userSpaceOnUse" x1="499.9" x2="656.6" y1="0" y2="0"><stop offset="0.000" stop-color="#1c3488"/><stop offset="0.006" stop-color="#1c3789"/><stop offset="0.013" stop-color="#1a468d"/><stop offset="0.019" stop-color="#186e8e"/><stop offset="0.026" stop-color="#21b578"/><stop offset="0.032" stop-color="#27c072"/><stop offset="0.038" stop-color="#1a8887"/><stop offset="0.045" stop-color="#194f8f"/><stop offset="0.051" stop-color="#1c3588"/><stop offset="0.102" stop-color="#221e7c"/><stop offset="0.166" stop-color="#231b79"/><stop offset="0.281" stop-color="#1e2e85"/><stop offset="0.421" stop-color="#221f7d"/><stop offset="0.651" stop-color="#202580"/><stop offset="0.989" stop-color="#21237f"/><stop offset="1.000" stop-color="#20247f"/></linearGradient><linearGradient id="ge82" gradientUnits="userSpaceOnUse" x1="499.9" x2="656.6" y1="0" y2="0"><stop offset="0.000" stop-color="#1c3388"/><stop offset="0.006" stop-color="#1b3989"/><stop offset="0.013" stop-color="#19508f"/><stop offset="0.019" stop-color="#197a8c"/><stop offset="0.026" stop-color="#22ba77"/><stop offset="0.032" stop-color="#1faa7c"/><stop offset="0.038" stop-color="#18678f"/><stop offset="0.045" stop-color="#1b3e8b"/><stop offset="0.051" stop-color="#1d3086"/><stop offset="0.115" stop-color="#231b78"/><stop offset="0.191" stop-color="#221f7d"/><stop offset="0.268" stop-color="#1e2c83"/><stop offset="0.415" stop-color="#221e7c"/><stop offset="0.645" stop-color="#21237f"/><stop offset="1.000" stop-color="#21237f"/></linearGradient><linearGradient id="ge83" gradientUnits="userSpaceOnUse" x1="499.9" x2="656.6" y1="0" y2="0"><stop offset="0.000" stop-color="#1c3388"/><stop offset="0.006" stop-color="#1b3d8a"/><stop offset="0.013" stop-color="#195e8f"/><stop offset="0.019" stop-color="#1b9384"/><stop offset="0.026" stop-color="#20ae7b"/><stop offset="0.032" stop-color="#1a8688"/><stop offset="0.038" stop-color="#19508f"/><stop offset="0.045" stop-color="#1c3488"/><stop offset="0.070" stop-color="#202580"/><stop offset="0.134" stop-color="#241977"/><stop offset="0.268" stop-color="#1f2a82"/><stop offset="0.396" stop-color="#221d7b"/><stop offset="0.625" stop-color="#21227e"/><stop offset="0.938" stop-color="#21207d"/><stop offset="1.000" stop-color="#21227e"/></linearGradient><linearGradient id="ge84" gradientUnits="userSpaceOnUse" x1="499.9" x2="656.6" y1="0" y2="0"><stop offset="0.000" stop-color="#1c3388"/><stop offset="0.006" stop-color="#1a448c"/><stop offset="0.013" stop-color="#18708e"/><stop offset="0.019" stop-color="#1ea77d"/><stop offset="0.026" stop-color="#1b9284"/><stop offset="0.032" stop-color="#18648f"/><stop offset="0.038" stop-color="#1b3d8a"/><stop offset="0.045" stop-color="#1d2f85"/><stop offset="0.096" stop-color="#231c79"/><stop offset="0.160" stop-color="#231b79"/><stop offset="0.255" stop-color="#1f2881"/><stop offset="0.383" stop-color="#231d7b"/><stop offset="0.651" stop-color="#221f7c"/><stop offset="1.000" stop-color="#21217e"/></linearGradient><linearGradient id="ge85" gradientUnits="userSpaceOnUse" x1="499.9" x2="656.6" y1="0" y2="0"><stop offset="0.000" stop-color="#1c3588"/><stop offset="0.006" stop-color="#194f8f"/><stop offset="0.013" stop-color="#1a8688"/><stop offset="0.019" stop-color="#20ae7b"/><stop offset="0.026" stop-color="#197e8a"/><stop offset="0.032" stop-color="#1a4b8e"/><stop offset="0.038" stop-color="#1d3287"/><stop offset="0.083" stop-color="#221d7b"/><stop offset="0.147" stop-color="#241a77"/><stop offset="0.249" stop-color="#202680"/><stop offset="0.383" stop-color="#231c7a"/><stop offset="1.000" stop-color="#22207d"/></linearGradient><linearGradient id="ge86" gradientUnits="userSpaceOnUse" x1="499.9" x2="656.6" y1="0" y2="0"><stop offset="0.000" stop-color="#1c3789"/><stop offset="0.006" stop-color="#195990"/><stop offset="0.013" stop-color="#1c9583"/><stop offset="0.019" stop-color="#1da17f"/><stop offset="0.026" stop-color="#18668f"/><stop offset="0.032" stop-color="#1b3a8a"/><stop offset="0.038" stop-color="#1e2d84"/><stop offset="0.096" stop-color="#241a77"/><stop offset="0.172" stop-color="#221d7b"/><stop offset="0.249" stop-color="#20247f"/><stop offset="0.357" stop-color="#231c79"/><stop offset="1.000" stop-color="#221f7c"/></linearGradient><linearGradient id="ge87" gradientUnits="userSpaceOnUse" x1="499.9" x2="656.6" y1="0" y2="0"><stop offset="0.000" stop-color="#1b3e8b"/><stop offset="0.006" stop-color="#18668f"/><stop offset="0.013" stop-color="#1b8d86"/><stop offset="0.019" stop-color="#1a8189"/><stop offset="0.026" stop-color="#194f8f"/><stop offset="0.032" stop-color="#1d3186"/><stop offset="0.057" stop-color="#21227e"/><stop offset="0.121" stop-color="#241876"/><stop offset="0.243" stop-color="#21227e"/><stop offset="0.370" stop-color="#231b79"/><stop offset="1.000" stop-color="#221e7c"/></linearGradient><linearGradient id="ge88" gradientUnits="userSpaceOnUse" x1="499.9" x2="656.6" y1="0" y2="0"><stop offset="0.000" stop-color="#1a468d"/><stop offset="0.006" stop-color="#18778d"/><stop offset="0.013" stop-color="#1c9583"/><stop offset="0.019" stop-color="#18668f"/><stop offset="0.026" stop-color="#1c3989"/><stop offset="0.032" stop-color="#1e2c84"/><stop offset="0.089" stop-color="#241976"/><stop offset="0.243" stop-color="#221f7c"/><stop offset="0.396" stop-color="#231b78"/><stop offset="1.000" stop-color="#221d7b"/></linearGradient><linearGradient id="ge89" gradientUnits="userSpaceOnUse" x1="499.9" x2="656.6" y1="0" y2="0"><stop offset="0.000" stop-color="#194e8f"/><stop offset="0.006" stop-color="#19798c"/><stop offset="0.013" stop-color="#1a8189"/><stop offset="0.019" stop-color="#195390"/><stop offset="0.026" stop-color="#1d3186"/><stop offset="0.038" stop-color="#202681"/><stop offset="0.096" stop-color="#251875"/><stop offset="0.236" stop-color="#221d7b"/><stop offset="0.396" stop-color="#241a77"/><stop offset="1.000" stop-color="#231d7b"/></linearGradient><linearGradient id="ge90" gradientUnits="userSpaceOnUse" x1="499.9" x2="656.6" y1="0" y2="0"><stop offset="0.000" stop-color="#195b8f"/><stop offset="0.006" stop-color="#1a8787"/><stop offset="0.013" stop-color="#186d8e"/><stop offset="0.019" stop-color="#1b3e8b"/><stop offset="0.026" stop-color="#1e2c83"/><stop offset="0.083" stop-color="#241876"/><stop offset="0.243" stop-color="#231b78"/><stop offset="0.396" stop-color="#241976"/><stop offset="1.000" stop-color="#231c7a"/></linearGradient><linearGradient id="ge91" gradientUnits="userSpaceOnUse" x1="499.9" x2="656.6" y1="0" y2="0"><stop offset="0.000" stop-color="#19628f"/><stop offset="0.006" stop-color="#18748e"/><stop offset="0.013" stop-color="#195b8f"/><stop offset="0.019" stop-color="#1c3488"/><stop offset="0.026" stop-color="#1f2982"/><stop offset="0.077" stop-color="#241976"/><stop offset="0.255" stop-color="#241876"/><stop offset="0.957" stop-color="#231b78"/><stop offset="1.000" stop-color="#231b79"/></linearGradient><linearGradient id="ge92" gradientUnits="userSpaceOnUse" x1="499.9" x2="656.6" y1="0" y2="0"><stop offset="0.000" stop-color="#18698f"/><stop offset="0.006" stop-color="#18738e"/><stop offset="0.013" stop-color="#1a4b8e"/><stop offset="0.019" stop-color="#1e2d84"/><stop offset="0.057" stop-color="#231b79"/><stop offset="0.121" stop-color="#251774"/><stop offset="0.249" stop-color="#251774"/><stop offset="1.000" stop-color="#231b78"/></linearGradient><linearGradient id="ge93" gradientUnits="userSpaceOnUse" x1="499.9" x2="656.6" y1="0" y2="0"><stop offset="0.000" stop-color="#186e8e"/><stop offset="0.006" stop-color="#18668f"/><stop offset="0.013" stop-color="#1b3c8a"/><stop offset="0.019" stop-color="#1f2982"/><stop offset="0.077" stop-color="#251774"/><stop offset="0.855" stop-color="#241875"/><stop offset="1.000" stop-color="#241a78"/></linearGradient><linearGradient id="ge94" gradientUnits="userSpaceOnUse" x1="499.9" x2="656.6" y1="0" y2="0"><stop offset="0.000" stop-color="#18708e"/><stop offset="0.006" stop-color="#195790"/><stop offset="0.013" stop-color="#1d3186"/><stop offset="0.026" stop-color="#20247f"/><stop offset="0.089" stop-color="#261572"/><stop offset="0.874" stop-color="#241875"/><stop offset="1.000" stop-color="#241a77"/></linearGradient><linearGradient id="ge95" gradientUnits="userSpaceOnUse" x1="499.9" x2="656.6" y1="0" y2="0"><stop offset="0.000" stop-color="#1c3488"/><stop offset="0.026" stop-color="#21237f"/><stop offset="0.089" stop-color="#261572"/><stop offset="0.753" stop-color="#251673"/><stop offset="1.000" stop-color="#241a77"/></linearGradient><linearGradient id="ge96" gradientUnits="userSpaceOnUse" x1="499.9" x2="656.6" y1="0" y2="0"><stop offset="0.000" stop-color="#20247f"/><stop offset="0.102" stop-color="#261471"/><stop offset="0.696" stop-color="#261672"/><stop offset="1.000" stop-color="#241a77"/></linearGradient><linearGradient id="ge97" gradientUnits="userSpaceOnUse" x1="499.9" x2="656.6" y1="0" y2="0"><stop offset="0.000" stop-color="#221f7d"/><stop offset="0.115" stop-color="#261470"/><stop offset="0.759" stop-color="#251673"/><stop offset="1.000" stop-color="#241a77"/></linearGradient><linearGradient id="ge98" gradientUnits="userSpaceOnUse" x1="499.9" x2="656.6" y1="0" y2="0"><stop offset="0.000" stop-color="#231b79"/><stop offset="0.134" stop-color="#27126f"/><stop offset="1.000" stop-color="#241a77"/></linearGradient></defs>
<g clip-path="url(#clipE)"><g filter="url(#blurE)"><rect x="497.9" y="14.90" width="160.70000000000005" height="2.20" fill="url(#ge0)"/><rect x="497.9" y="16.50" width="160.70000000000005" height="2.20" fill="url(#ge1)"/><rect x="497.9" y="18.10" width="160.70000000000005" height="2.20" fill="url(#ge2)"/><rect x="497.9" y="19.70" width="160.70000000000005" height="2.20" fill="url(#ge3)"/><rect x="497.9" y="21.30" width="160.70000000000005" height="2.20" fill="url(#ge4)"/><rect x="497.9" y="22.90" width="160.70000000000005" height="2.20" fill="url(#ge5)"/><rect x="497.9" y="24.50" width="160.70000000000005" height="2.20" fill="url(#ge6)"/><rect x="497.9" y="26.10" width="160.70000000000005" height="2.20" fill="url(#ge7)"/><rect x="497.9" y="27.70" width="160.70000000000005" height="2.20" fill="url(#ge8)"/><rect x="497.9" y="29.30" width="160.70000000000005" height="2.20" fill="url(#ge9)"/><rect x="497.9" y="30.90" width="160.70000000000005" height="2.20" fill="url(#ge10)"/><rect x="497.9" y="32.50" width="160.70000000000005" height="2.20" fill="url(#ge11)"/><rect x="497.9" y="34.10" width="160.70000000000005" height="2.20" fill="url(#ge12)"/><rect x="497.9" y="35.70" width="160.70000000000005" height="2.20" fill="url(#ge13)"/><rect x="497.9" y="37.30" width="160.70000000000005" height="2.20" fill="url(#ge14)"/><rect x="497.9" y="38.90" width="160.70000000000005" height="2.20" fill="url(#ge15)"/><rect x="497.9" y="40.50" width="160.70000000000005" height="2.20" fill="url(#ge16)"/><rect x="497.9" y="42.10" width="160.70000000000005" height="2.20" fill="url(#ge17)"/><rect x="497.9" y="43.70" width="160.70000000000005" height="2.20" fill="url(#ge18)"/><rect x="497.9" y="45.30" width="160.70000000000005" height="2.20" fill="url(#ge19)"/><rect x="497.9" y="46.90" width="160.70000000000005" height="2.20" fill="url(#ge20)"/><rect x="497.9" y="48.50" width="160.70000000000005" height="2.20" fill="url(#ge21)"/><rect x="497.9" y="50.10" width="160.70000000000005" height="2.20" fill="url(#ge22)"/><rect x="497.9" y="51.70" width="160.70000000000005" height="2.20" fill="url(#ge23)"/><rect x="497.9" y="53.30" width="160.70000000000005" height="2.20" fill="url(#ge24)"/><rect x="497.9" y="54.90" width="160.70000000000005" height="2.20" fill="url(#ge25)"/><rect x="497.9" y="56.50" width="160.70000000000005" height="2.20" fill="url(#ge26)"/><rect x="497.9" y="58.10" width="160.70000000000005" height="2.20" fill="url(#ge27)"/><rect x="497.9" y="59.70" width="160.70000000000005" height="2.20" fill="url(#ge28)"/><rect x="497.9" y="61.30" width="160.70000000000005" height="2.20" fill="url(#ge29)"/><rect x="497.9" y="62.90" width="160.70000000000005" height="2.20" fill="url(#ge30)"/><rect x="497.9" y="64.50" width="160.70000000000005" height="2.20" fill="url(#ge31)"/><rect x="497.9" y="66.10" width="160.70000000000005" height="2.20" fill="url(#ge32)"/><rect x="497.9" y="67.70" width="160.70000000000005" height="2.20" fill="url(#ge33)"/><rect x="497.9" y="69.30" width="160.70000000000005" height="2.20" fill="url(#ge34)"/><rect x="497.9" y="70.90" width="160.70000000000005" height="2.20" fill="url(#ge35)"/><rect x="497.9" y="72.50" width="160.70000000000005" height="2.20" fill="url(#ge36)"/><rect x="497.9" y="74.10" width="160.70000000000005" height="2.20" fill="url(#ge37)"/><rect x="497.9" y="75.70" width="160.70000000000005" height="2.20" fill="url(#ge38)"/><rect x="497.9" y="77.30" width="160.70000000000005" height="2.20" fill="url(#ge39)"/><rect x="497.9" y="78.90" width="160.70000000000005" height="2.20" fill="url(#ge40)"/><rect x="497.9" y="80.50" width="160.70000000000005" height="2.20" fill="url(#ge41)"/><rect x="497.9" y="82.10" width="160.70000000000005" height="2.20" fill="url(#ge42)"/><rect x="497.9" y="83.70" width="160.70000000000005" height="2.20" fill="url(#ge43)"/><rect x="497.9" y="85.30" width="160.70000000000005" height="2.20" fill="url(#ge44)"/><rect x="497.9" y="86.90" width="160.70000000000005" height="2.20" fill="url(#ge45)"/><rect x="497.9" y="88.50" width="160.70000000000005" height="2.20" fill="url(#ge46)"/><rect x="497.9" y="90.10" width="160.70000000000005" height="2.20" fill="url(#ge47)"/><rect x="497.9" y="91.70" width="160.70000000000005" height="2.20" fill="url(#ge48)"/><rect x="497.9" y="93.30" width="160.70000000000005" height="2.20" fill="url(#ge49)"/><rect x="497.9" y="94.90" width="160.70000000000005" height="2.20" fill="url(#ge50)"/><rect x="497.9" y="96.50" width="160.70000000000005" height="2.20" fill="url(#ge51)"/><rect x="497.9" y="98.10" width="160.70000000000005" height="2.20" fill="url(#ge52)"/><rect x="497.9" y="99.70" width="160.70000000000005" height="2.20" fill="url(#ge53)"/><rect x="497.9" y="101.30" width="160.70000000000005" height="2.20" fill="url(#ge54)"/><rect x="497.9" y="102.90" width="160.70000000000005" height="2.20" fill="url(#ge55)"/><rect x="497.9" y="104.50" width="160.70000000000005" height="2.20" fill="url(#ge56)"/><rect x="497.9" y="106.10" width="160.70000000000005" height="2.20" fill="url(#ge57)"/><rect x="497.9" y="107.70" width="160.70000000000005" height="2.20" fill="url(#ge58)"/><rect x="497.9" y="109.30" width="160.70000000000005" height="2.20" fill="url(#ge59)"/><rect x="497.9" y="110.90" width="160.70000000000005" height="2.20" fill="url(#ge60)"/><rect x="497.9" y="112.50" width="160.70000000000005" height="2.20" fill="url(#ge61)"/><rect x="497.9" y="114.10" width="160.70000000000005" height="2.20" fill="url(#ge62)"/><rect x="497.9" y="115.70" width="160.70000000000005" height="2.20" fill="url(#ge63)"/><rect x="497.9" y="117.30" width="160.70000000000005" height="2.20" fill="url(#ge64)"/><rect x="497.9" y="118.90" width="160.70000000000005" height="2.20" fill="url(#ge65)"/><rect x="497.9" y="120.50" width="160.70000000000005" height="2.20" fill="url(#ge66)"/><rect x="497.9" y="122.10" width="160.70000000000005" height="2.20" fill="url(#ge67)"/><rect x="497.9" y="123.70" width="160.70000000000005" height="2.20" fill="url(#ge68)"/><rect x="497.9" y="125.30" width="160.70000000000005" height="2.20" fill="url(#ge69)"/><rect x="497.9" y="126.90" width="160.70000000000005" height="2.20" fill="url(#ge70)"/><rect x="497.9" y="128.50" width="160.70000000000005" height="2.20" fill="url(#ge71)"/><rect x="497.9" y="130.10" width="160.70000000000005" height="2.20" fill="url(#ge72)"/><rect x="497.9" y="131.70" width="160.70000000000005" height="2.20" fill="url(#ge73)"/><rect x="497.9" y="133.30" width="160.70000000000005" height="2.20" fill="url(#ge74)"/><rect x="497.9" y="134.90" width="160.70000000000005" height="2.20" fill="url(#ge75)"/><rect x="497.9" y="136.50" width="160.70000000000005" height="2.20" fill="url(#ge76)"/><rect x="497.9" y="138.10" width="160.70000000000005" height="2.20" fill="url(#ge77)"/><rect x="497.9" y="139.70" width="160.70000000000005" height="2.20" fill="url(#ge78)"/><rect x="497.9" y="141.30" width="160.70000000000005" height="2.20" fill="url(#ge79)"/><rect x="497.9" y="142.90" width="160.70000000000005" height="2.20" fill="url(#ge80)"/><rect x="497.9" y="144.50" width="160.70000000000005" height="2.20" fill="url(#ge81)"/><rect x="497.9" y="146.10" width="160.70000000000005" height="2.20" fill="url(#ge82)"/><rect x="497.9" y="147.70" width="160.70000000000005" height="2.20" fill="url(#ge83)"/><rect x="497.9" y="149.30" width="160.70000000000005" height="2.20" fill="url(#ge84)"/><rect x="497.9" y="150.90" width="160.70000000000005" height="2.20" fill="url(#ge85)"/><rect x="497.9" y="152.50" width="160.70000000000005" height="2.20" fill="url(#ge86)"/><rect x="497.9" y="154.10" width="160.70000000000005" height="2.20" fill="url(#ge87)"/><rect x="497.9" y="155.70" width="160.70000000000005" height="2.20" fill="url(#ge88)"/><rect x="497.9" y="157.30" width="160.70000000000005" height="2.20" fill="url(#ge89)"/><rect x="497.9" y="158.90" width="160.70000000000005" height="2.20" fill="url(#ge90)"/><rect x="497.9" y="160.50" width="160.70000000000005" height="2.20" fill="url(#ge91)"/><rect x="497.9" y="162.10" width="160.70000000000005" height="2.20" fill="url(#ge92)"/><rect x="497.9" y="163.70" width="160.70000000000005" height="2.20" fill="url(#ge93)"/><rect x="497.9" y="165.30" width="160.70000000000005" height="2.20" fill="url(#ge94)"/><rect x="497.9" y="166.90" width="160.70000000000005" height="2.20" fill="url(#ge95)"/><rect x="497.9" y="168.50" width="160.70000000000005" height="2.20" fill="url(#ge96)"/><rect x="497.9" y="170.10" width="160.70000000000005" height="2.20" fill="url(#ge97)"/><rect x="497.9" y="171.70" width="160.70000000000005" height="2.20" fill="url(#ge98)"/></g></g>
<circle cx="521.6" cy="109.5" r="2.7" fill="#fff"/>
<circle cx="516.1" cy="122.1" r="2.7" fill="#fff"/>
<circle cx="512.9" cy="131.4" r="2.7" fill="#fff"/>
<circle cx="509.0" cy="137.7" r="2.7" fill="#fff"/>
<text x="566.8" y="43.0" font-size="8.6" fill="#fff">M<tspan font-size="5.2" dy="1.6">0</tspan></text>
<text x="590.8" y="109.1" font-size="8.6" fill="#fff">M<tspan font-size="5.2" dy="1.6">1</tspan></text>
<text x="603.0" y="136.4" font-size="8.6" fill="#fff">M<tspan font-size="5.2" dy="1.6">2</tspan></text>
<line x1="501.0" y1="160.3" x2="560.5" y2="160.3" stroke="rgba(235,235,245,0.85)" stroke-width="1.0" stroke-dasharray="3.6,2.6"/>
<line x1="599.2" y1="160.3" x2="656.6" y2="160.3" stroke="rgba(235,235,245,0.85)" stroke-width="1.0" stroke-dasharray="3.6,2.6"/>
<text x="561.3" y="164.2" font-size="11.5" fill="#fff" stroke="#fff">ν</text>
<text x="568.0" y="167.4" font-size="5.8" fill="#fff" style="font-family:&quot;Liberation Serif&quot;,serif">Eu</text>
<text x="575.2" y="164.2" font-size="11.6" fill="#fff" stroke="#fff">(TO)</text>
<line x1="497.9" y1="171.3" x2="499.9" y2="171.3" stroke="#555" stroke-width="0.7"/>
<text x="496.8" y="174.7" font-size="9.5" text-anchor="end" fill="#231f20" stroke="#231f20">50</text>
<line x1="497.9" y1="140.4" x2="499.9" y2="140.4" stroke="#555" stroke-width="0.7"/>
<text x="496.8" y="143.8" font-size="9.5" text-anchor="end" fill="#231f20" stroke="#231f20">60</text>
<line x1="497.9" y1="109.5" x2="499.9" y2="109.5" stroke="#555" stroke-width="0.7"/>
<text x="496.8" y="112.9" font-size="9.5" text-anchor="end" fill="#231f20" stroke="#231f20">70</text>
<line x1="497.9" y1="78.7" x2="499.9" y2="78.7" stroke="#555" stroke-width="0.7"/>
<text x="496.8" y="82.1" font-size="9.5" text-anchor="end" fill="#231f20" stroke="#231f20">80</text>
<line x1="497.9" y1="47.8" x2="499.9" y2="47.8" stroke="#555" stroke-width="0.7"/>
<text x="496.8" y="51.2" font-size="9.5" text-anchor="end" fill="#231f20" stroke="#231f20">90</text>
<line x1="497.9" y1="16.9" x2="499.9" y2="16.9" stroke="#555" stroke-width="0.7"/>
<text x="496.8" y="20.3" font-size="9.5" text-anchor="end" fill="#231f20" stroke="#231f20">100</text>
<line x1="498.6" y1="155.9" x2="499.9" y2="155.9" stroke="#555" stroke-width="0.5"/>
<line x1="498.6" y1="125.0" x2="499.9" y2="125.0" stroke="#555" stroke-width="0.5"/>
<line x1="498.6" y1="94.1" x2="499.9" y2="94.1" stroke="#555" stroke-width="0.5"/>
<line x1="498.6" y1="63.2" x2="499.9" y2="63.2" stroke="#555" stroke-width="0.5"/>
<line x1="498.6" y1="32.3" x2="499.9" y2="32.3" stroke="#555" stroke-width="0.5"/>
<text transform="translate(481.0,92) rotate(-90)" font-size="9.8" text-anchor="middle" fill="#231f20" stroke="#231f20">Wavenumber (cm<tspan font-size="6" dy="-3.5">-1</tspan><tspan dy="3.5">)</tspan></text>
<line x1="656.6" y1="160.9" x2="658.6" y2="160.9" stroke="#555" stroke-width="0.7"/>
<text x="658.6" y="164.3" font-size="9.5" text-anchor="start" fill="#231f20" stroke="#231f20">1.6</text>
<line x1="656.6" y1="140.3" x2="658.6" y2="140.3" stroke="#555" stroke-width="0.7"/>
<text x="658.6" y="143.7" font-size="9.5" text-anchor="start" fill="#231f20" stroke="#231f20">1.8</text>
<line x1="656.6" y1="119.7" x2="658.6" y2="119.7" stroke="#555" stroke-width="0.7"/>
<text x="658.6" y="123.1" font-size="9.5" text-anchor="start" fill="#231f20" stroke="#231f20">2.0</text>
<line x1="656.6" y1="99.1" x2="658.6" y2="99.1" stroke="#555" stroke-width="0.7"/>
<text x="658.6" y="102.5" font-size="9.5" text-anchor="start" fill="#231f20" stroke="#231f20">2.2</text>
<line x1="656.6" y1="78.5" x2="658.6" y2="78.5" stroke="#555" stroke-width="0.7"/>
<text x="658.6" y="81.9" font-size="9.5" text-anchor="start" fill="#231f20" stroke="#231f20">2.4</text>
<line x1="656.6" y1="57.9" x2="658.6" y2="57.9" stroke="#555" stroke-width="0.7"/>
<text x="658.6" y="61.3" font-size="9.5" text-anchor="start" fill="#231f20" stroke="#231f20">2.6</text>
<line x1="656.6" y1="37.3" x2="658.6" y2="37.3" stroke="#555" stroke-width="0.7"/>
<text x="658.6" y="40.7" font-size="9.5" text-anchor="start" fill="#231f20" stroke="#231f20">2.8</text>
<line x1="656.6" y1="16.7" x2="658.6" y2="16.7" stroke="#555" stroke-width="0.7"/>
<text x="658.6" y="20.1" font-size="9.5" text-anchor="start" fill="#231f20" stroke="#231f20">3.0</text>
<line x1="656.6" y1="171.2" x2="657.9" y2="171.2" stroke="#555" stroke-width="0.5"/>
<line x1="656.6" y1="150.6" x2="657.9" y2="150.6" stroke="#555" stroke-width="0.5"/>
<line x1="656.6" y1="130.0" x2="657.9" y2="130.0" stroke="#555" stroke-width="0.5"/>
<line x1="656.6" y1="109.4" x2="657.9" y2="109.4" stroke="#555" stroke-width="0.5"/>
<line x1="656.6" y1="88.8" x2="657.9" y2="88.8" stroke="#555" stroke-width="0.5"/>
<line x1="656.6" y1="68.2" x2="657.9" y2="68.2" stroke="#555" stroke-width="0.5"/>
<line x1="656.6" y1="47.6" x2="657.9" y2="47.6" stroke="#555" stroke-width="0.5"/>
<line x1="656.6" y1="27.0" x2="657.9" y2="27.0" stroke="#555" stroke-width="0.5"/>
<text transform="translate(677.0,94) rotate(90)" font-size="9.8" text-anchor="middle" fill="#231f20" stroke="#231f20">Frequency (THz)</text>
<line x1="499.9" y1="171.3" x2="499.9" y2="173.3" stroke="#555" stroke-width="0.7"/>
<text x="499.9" y="181.2" font-size="9.5" text-anchor="middle" fill="#231f20" stroke="#231f20">0</text>
<line x1="539.1" y1="171.3" x2="539.1" y2="173.3" stroke="#555" stroke-width="0.7"/>
<text x="539.1" y="181.2" font-size="9.5" text-anchor="middle" fill="#231f20" stroke="#231f20">0.5</text>
<line x1="578.2" y1="171.3" x2="578.2" y2="173.3" stroke="#555" stroke-width="0.7"/>
<text x="578.2" y="181.2" font-size="9.5" text-anchor="middle" fill="#231f20" stroke="#231f20">1.0</text>
<line x1="617.4" y1="171.3" x2="617.4" y2="173.3" stroke="#555" stroke-width="0.7"/>
<text x="617.4" y="181.2" font-size="9.5" text-anchor="middle" fill="#231f20" stroke="#231f20">1.5</text>
<line x1="656.6" y1="171.3" x2="656.6" y2="173.3" stroke="#555" stroke-width="0.7"/>
<text x="656.6" y="181.2" font-size="9.5" text-anchor="middle" fill="#231f20" stroke="#231f20">2.0</text>
<line x1="519.5" y1="171.3" x2="519.5" y2="172.6" stroke="#555" stroke-width="0.5"/>
<line x1="558.7" y1="171.3" x2="558.7" y2="172.6" stroke="#555" stroke-width="0.5"/>
<line x1="597.8" y1="171.3" x2="597.8" y2="172.6" stroke="#555" stroke-width="0.5"/>
<line x1="637.0" y1="171.3" x2="637.0" y2="172.6" stroke="#555" stroke-width="0.5"/>
<text x="583.2" y="192.6" font-size="9.5" text-anchor="middle" fill="#231f20" stroke="#231f20">q (10<tspan font-size="6" dy="-3.5">5</tspan><tspan dy="3.5"> cm</tspan><tspan font-size="6" dy="-3.5">-1</tspan><tspan dy="3.5">)</tspan></text>
<text x="476.3" y="10.6" font-size="13.5" text-anchor="start" fill="#231f20" font-weight="bold" stroke="#231f20">e</text>
<defs><linearGradient id="cbE" x1="0" x2="1" y1="0" y2="0"><stop offset="0.00" stop-color="#28106c"/><stop offset="0.10" stop-color="#221e7c"/><stop offset="0.20" stop-color="#1c3488"/><stop offset="0.30" stop-color="#195290"/><stop offset="0.40" stop-color="#186e8e"/><stop offset="0.50" stop-color="#1b9184"/><stop offset="0.60" stop-color="#21b578"/><stop offset="0.70" stop-color="#32ca69"/><stop offset="0.80" stop-color="#7ed646"/><stop offset="0.90" stop-color="#d3df26"/><stop offset="1.00" stop-color="#f6e41e"/></linearGradient></defs>
<rect x="606.0" y="9.0" width="31.7" height="3.8" fill="url(#cbE)"/>
<text x="591.3" y="12.9" font-size="7.2" text-anchor="start" fill="#231f20">min.</text>
<text x="638.1" y="12.9" font-size="7.2" text-anchor="start" fill="#231f20">max.</text>
<text x="622.7" y="5.6" font-size="6.6" text-anchor="middle" fill="#231f20">Im[r<tspan font-size="4.2" dy="1.2">p</tspan><tspan dy="-1.2">]</tspan></text>
<text x="478.2" y="215.6" font-size="13.5" text-anchor="start" fill="#231f20" font-weight="bold" stroke="#231f20">f</text>
<rect x="499.7" y="222.6" width="155.8" height="152.8" fill="none" stroke="#666" stroke-width="0.8"/>
<line x1="505.9" y1="223.6" x2="505.9" y2="375.4" stroke="#c4c4c4" stroke-width="1.3" stroke-dasharray="4,3"/>
<line x1="497.5" y1="375.0" x2="499.7" y2="375.0" stroke="#666" stroke-width="0.7"/>
<text x="496.3" y="378.4" font-size="9.5" text-anchor="end" fill="#231f20" stroke="#231f20">0.1</text>
<line x1="497.5" y1="334.8" x2="499.7" y2="334.8" stroke="#666" stroke-width="0.7"/>
<text x="496.3" y="338.2" font-size="9.5" text-anchor="end" fill="#231f20" stroke="#231f20">0.5</text>
<line x1="497.5" y1="317.5" x2="499.7" y2="317.5" stroke="#666" stroke-width="0.7"/>
<text x="496.3" y="320.9" font-size="9.5" text-anchor="end" fill="#231f20" stroke="#231f20">1</text>
<line x1="497.5" y1="277.3" x2="499.7" y2="277.3" stroke="#666" stroke-width="0.7"/>
<text x="496.3" y="280.7" font-size="9.5" text-anchor="end" fill="#231f20" stroke="#231f20">5</text>
<line x1="497.5" y1="260.0" x2="499.7" y2="260.0" stroke="#666" stroke-width="0.7"/>
<text x="496.3" y="263.4" font-size="9.5" text-anchor="end" fill="#231f20" stroke="#231f20">10</text>
<line x1="498.3" y1="357.7" x2="499.7" y2="357.7" stroke="#666" stroke-width="0.5"/>
<line x1="498.3" y1="347.6" x2="499.7" y2="347.6" stroke="#666" stroke-width="0.5"/>
<line x1="498.3" y1="340.4" x2="499.7" y2="340.4" stroke="#666" stroke-width="0.5"/>
<line x1="498.3" y1="330.3" x2="499.7" y2="330.3" stroke="#666" stroke-width="0.5"/>
<line x1="498.3" y1="326.4" x2="499.7" y2="326.4" stroke="#666" stroke-width="0.5"/>
<line x1="498.3" y1="323.1" x2="499.7" y2="323.1" stroke="#666" stroke-width="0.5"/>
<line x1="498.3" y1="320.1" x2="499.7" y2="320.1" stroke="#666" stroke-width="0.5"/>
<line x1="498.3" y1="300.2" x2="499.7" y2="300.2" stroke="#666" stroke-width="0.5"/>
<line x1="498.3" y1="290.1" x2="499.7" y2="290.1" stroke="#666" stroke-width="0.5"/>
<line x1="498.3" y1="282.9" x2="499.7" y2="282.9" stroke="#666" stroke-width="0.5"/>
<line x1="498.3" y1="272.8" x2="499.7" y2="272.8" stroke="#666" stroke-width="0.5"/>
<line x1="498.3" y1="268.9" x2="499.7" y2="268.9" stroke="#666" stroke-width="0.5"/>
<line x1="498.3" y1="265.6" x2="499.7" y2="265.6" stroke="#666" stroke-width="0.5"/>
<line x1="498.3" y1="262.6" x2="499.7" y2="262.6" stroke="#666" stroke-width="0.5"/>
<line x1="498.3" y1="242.7" x2="499.7" y2="242.7" stroke="#666" stroke-width="0.5"/>
<line x1="498.3" y1="232.6" x2="499.7" y2="232.6" stroke="#666" stroke-width="0.5"/>
<line x1="498.3" y1="225.4" x2="499.7" y2="225.4" stroke="#666" stroke-width="0.5"/>
<text transform="translate(482.0,297.5) rotate(-90)" font-size="9.6" text-anchor="middle" fill="#231f20" stroke="#231f20">FOM</text>
<line x1="511.3" y1="375.4" x2="511.3" y2="377.4" stroke="#666" stroke-width="0.7"/>
<text x="511.3" y="387.2" font-size="9.5" text-anchor="middle" fill="#231f20" stroke="#231f20">1.6</text>
<line x1="531.9" y1="375.4" x2="531.9" y2="377.4" stroke="#666" stroke-width="0.7"/>
<text x="531.9" y="387.2" font-size="9.5" text-anchor="middle" fill="#231f20" stroke="#231f20">1.8</text>
<line x1="552.5" y1="375.4" x2="552.5" y2="377.4" stroke="#666" stroke-width="0.7"/>
<text x="552.5" y="387.2" font-size="9.5" text-anchor="middle" fill="#231f20" stroke="#231f20">2.0</text>
<line x1="573.0" y1="375.4" x2="573.0" y2="377.4" stroke="#666" stroke-width="0.7"/>
<text x="573.0" y="387.2" font-size="9.5" text-anchor="middle" fill="#231f20" stroke="#231f20">2.2</text>
<line x1="593.6" y1="375.4" x2="593.6" y2="377.4" stroke="#666" stroke-width="0.7"/>
<text x="593.6" y="387.2" font-size="9.5" text-anchor="middle" fill="#231f20" stroke="#231f20">2.4</text>
<line x1="614.2" y1="375.4" x2="614.2" y2="377.4" stroke="#666" stroke-width="0.7"/>
<text x="614.2" y="387.2" font-size="9.5" text-anchor="middle" fill="#231f20" stroke="#231f20">2.6</text>
<line x1="634.8" y1="375.4" x2="634.8" y2="377.4" stroke="#666" stroke-width="0.7"/>
<text x="634.8" y="387.2" font-size="9.5" text-anchor="middle" fill="#231f20" stroke="#231f20">2.8</text>
<line x1="655.4" y1="375.4" x2="655.4" y2="377.4" stroke="#666" stroke-width="0.7"/>
<text x="655.4" y="387.2" font-size="9.5" text-anchor="middle" fill="#231f20" stroke="#231f20">3.0</text>
<text x="579.2" y="399.8" font-size="9.9" text-anchor="middle" fill="#231f20" stroke="#231f20">Frequency (THz)</text>
<line x1="500.9" y1="222.6" x2="500.9" y2="220.6" stroke="#666" stroke-width="0.7"/>
<text x="500.9" y="219.0" font-size="9.5" text-anchor="middle" fill="#231f20" stroke="#231f20">50</text>
<line x1="531.7" y1="222.6" x2="531.7" y2="220.6" stroke="#666" stroke-width="0.7"/>
<text x="531.7" y="219.0" font-size="9.5" text-anchor="middle" fill="#231f20" stroke="#231f20">60</text>
<line x1="562.6" y1="222.6" x2="562.6" y2="220.6" stroke="#666" stroke-width="0.7"/>
<text x="562.6" y="219.0" font-size="9.5" text-anchor="middle" fill="#231f20" stroke="#231f20">70</text>
<line x1="593.4" y1="222.6" x2="593.4" y2="220.6" stroke="#666" stroke-width="0.7"/>
<text x="593.4" y="219.0" font-size="9.5" text-anchor="middle" fill="#231f20" stroke="#231f20">80</text>
<line x1="624.3" y1="222.6" x2="624.3" y2="220.6" stroke="#666" stroke-width="0.7"/>
<text x="624.3" y="219.0" font-size="9.5" text-anchor="middle" fill="#231f20" stroke="#231f20">90</text>
<line x1="655.1" y1="222.6" x2="655.1" y2="220.6" stroke="#666" stroke-width="0.7"/>
<text x="655.1" y="219.0" font-size="9.5" text-anchor="middle" fill="#231f20" stroke="#231f20">100</text>
<text x="579.5" y="207.5" font-size="9.95" text-anchor="middle" fill="#231f20" stroke="#231f20">Wavenumber (cm<tspan font-size="6.2" dy="-3.6">-1</tspan><tspan dy="3.6">)</tspan></text>
<polyline points="507.2,375.4 507.3,372.6 507.4,368.6 507.5,364.0 507.6,359.4 507.8,355.4 508.0,352.1 508.1,349.1 508.3,346.2 508.6,343.3 508.9,340.2 509.3,336.8 509.8,333.2 510.3,329.5 510.9,326.0 511.5,322.7 512.2,319.8 512.9,317.0 513.6,314.4 514.5,312.0 515.4,309.6 516.4,307.3 517.6,305.0 518.8,302.9 520.1,300.9 521.5,299.0 523.0,297.3 524.5,295.8 526.2,294.3 527.9,292.9 529.7,291.4 531.6,289.8 533.6,288.0 535.6,286.3 537.7,284.8 539.7,283.5 541.6,282.5 543.5,281.8 545.4,281.2 547.4,280.7 549.6,280.2 552.1,279.7 554.9,279.2 557.8,278.7 560.7,278.3 563.5,278.0 566.0,277.8 568.4,277.6 570.8,277.5 573.3,277.5 576.0,277.6 579.0,277.8 582.2,278.2 585.6,278.6 589.0,279.2 592.3,279.8 595.6,280.5 598.8,281.2 602.1,282.1 605.3,283.0 608.6,284.1 611.9,285.3 615.1,286.5 618.4,287.9 621.6,289.5 624.9,291.2 628.2,293.2 631.5,295.4 634.8,297.8 638.1,300.2 641.2,302.4 644.4,304.7 647.8,307.0 650.9,309.2 653.6,311.1 655.5,312.5" fill="none" stroke="#8a8a8a" stroke-width="1.1" stroke-linejoin="round" stroke-linecap="round" stroke-dasharray="5.5,3.5" stroke-linecap="butt"/>
<polyline points="506.1,375.4 506.1,372.6 506.0,368.7 505.9,364.2 505.9,359.6 505.9,355.4 505.9,351.8 506.0,348.3 506.1,344.8 506.2,341.4 506.3,338.0 506.4,334.5 506.6,331.0 506.8,327.5 507.0,324.0 507.2,320.5 507.5,317.0 507.8,313.4 508.1,309.9 508.5,306.4 508.9,303.1 509.4,299.9 510.0,296.9 510.6,293.9 511.2,291.1 511.9,288.5 512.6,286.1 513.4,283.8 514.2,281.7 515.0,279.7 515.9,277.6 516.8,275.5 517.7,273.5 518.6,271.5 519.7,269.5 520.8,267.6 522.0,265.7 523.3,263.9 524.7,262.1 526.2,260.3 527.8,258.7 529.6,257.1 531.6,255.6 533.6,254.2 535.7,252.9 537.7,251.8 539.7,250.9 541.7,250.2 543.6,249.7 545.6,249.2 547.6,248.8 549.6,248.4 551.6,248.2 553.5,248.0 555.5,247.8 557.5,247.8 559.5,247.9 561.5,248.0 563.5,248.2 565.5,248.5 567.4,248.8 569.2,249.2 570.9,249.6 572.5,250.1 574.2,250.6 576.0,251.1 577.9,251.6 580.0,252.2 582.0,252.8 584.1,253.5 586.2,254.2 588.2,255.0 590.3,255.8 592.3,256.7 594.4,257.7 596.4,258.7 598.4,259.8 600.4,260.9 602.5,262.1 604.5,263.4 606.5,264.8 608.5,266.3 610.6,267.8 612.6,269.4 614.7,271.1 616.7,272.9 618.7,274.8 620.8,276.9 622.8,279.0 624.9,281.1 626.9,283.1 628.9,285.0 631.0,287.0 633.0,288.8 635.1,290.6 637.1,292.3 639.2,293.9 641.3,295.4 643.4,296.8 645.4,298.2 647.3,299.4 649.2,300.6 651.1,301.7 652.9,302.7 654.4,303.6 655.5,304.2" fill="none" stroke="#7040b0" stroke-width="1.3" stroke-linejoin="round" stroke-linecap="round"/>
<line x1="534.1" y1="273.4" x2="534.1" y2="282.3" stroke="#555" stroke-width="0.6"/>
<line x1="533.0" y1="273.4" x2="535.2" y2="273.4" stroke="#555" stroke-width="0.6"/>
<line x1="533.0" y1="282.3" x2="535.2" y2="282.3" stroke="#555" stroke-width="0.6"/>
<circle cx="534.1" cy="277.6" r="2.5" fill="#fff" stroke="#555" stroke-width="0.65"/>
<line x1="540.4" y1="278.5" x2="540.4" y2="290.6" stroke="#555" stroke-width="0.6"/>
<line x1="539.3" y1="278.5" x2="541.5" y2="278.5" stroke="#555" stroke-width="0.6"/>
<line x1="539.3" y1="290.6" x2="541.5" y2="290.6" stroke="#555" stroke-width="0.6"/>
<circle cx="540.4" cy="284.8" r="2.5" fill="#fff" stroke="#555" stroke-width="0.65"/>
<line x1="549.8" y1="263.0" x2="549.8" y2="269.4" stroke="#555" stroke-width="0.6"/>
<line x1="548.7" y1="263.0" x2="550.9" y2="263.0" stroke="#555" stroke-width="0.6"/>
<line x1="548.7" y1="269.4" x2="550.9" y2="269.4" stroke="#555" stroke-width="0.6"/>
<circle cx="549.8" cy="266.1" r="2.5" fill="#fff" stroke="#555" stroke-width="0.65"/>
<line x1="561.9" y1="272.7" x2="561.9" y2="281.5" stroke="#555" stroke-width="0.6"/>
<line x1="560.8" y1="272.7" x2="563.0" y2="272.7" stroke="#555" stroke-width="0.6"/>
<line x1="560.8" y1="281.5" x2="563.0" y2="281.5" stroke="#555" stroke-width="0.6"/>
<circle cx="561.9" cy="277.0" r="2.5" fill="#fff" stroke="#555" stroke-width="0.65"/>
<polygon points="602.90,241.50 603.84,244.01 606.51,244.13 604.42,245.79 605.13,248.37 602.90,246.90 600.67,248.37 601.38,245.79 599.29,244.13 601.96,244.01" fill="#fff" stroke="#555" stroke-width="0.6" stroke-linejoin="round"/>
<polygon points="531.80,305.00 532.74,307.51 535.41,307.63 533.32,309.29 534.03,311.87 531.80,310.40 529.57,311.87 530.28,309.29 528.19,307.63 530.86,307.51" fill="#fff" stroke="#555" stroke-width="0.6" stroke-linejoin="round"/>
<text x="541.6" y="306.9" font-size="7.15" text-anchor="start" fill="#231f20">s-SNOM imaging</text>
<text x="541.6" y="314.7" font-size="7.15" fill="#231f20">experiment (340 nm PbI<tspan font-size="4.6" dy="1.5">2</tspan><tspan dy="-1.5">/Si)</tspan></text>
<circle cx="531.8" cy="329.7" r="2.5" fill="#fff" stroke="#555" stroke-width="0.65"/>
<text x="541.6" y="327.6" font-size="7.15" text-anchor="start" fill="#231f20">nano-TDS experiment</text>
<text x="541.6" y="335.7" font-size="7.15" fill="#231f20">(298 nm PbI<tspan font-size="4.6" dy="1.5">2</tspan><tspan dy="-1.5">/Si)</tspan></text>
<line x1="524.8" y1="348.7" x2="539.8" y2="348.7" stroke="#7040b0" stroke-width="1.4"/>
<text x="543.2" y="351.2" font-size="7.3" fill="#231f20"><tspan font-style="italic">Re[q]/Im[q]</tspan>, Γ = 0.02 - this work</text>
<line x1="524.8" y1="365.4" x2="540.0" y2="365.4" stroke="#8a8a8a" stroke-width="1.1" stroke-dasharray="6.2,5"/>
<text x="543.2" y="367.9" font-size="7.3" fill="#231f20"><tspan font-style="italic">Re[q]/Im[q]</tspan>, Γ = 0.09 - Ref. [37,41]</text>
</svg>
</body></html>
